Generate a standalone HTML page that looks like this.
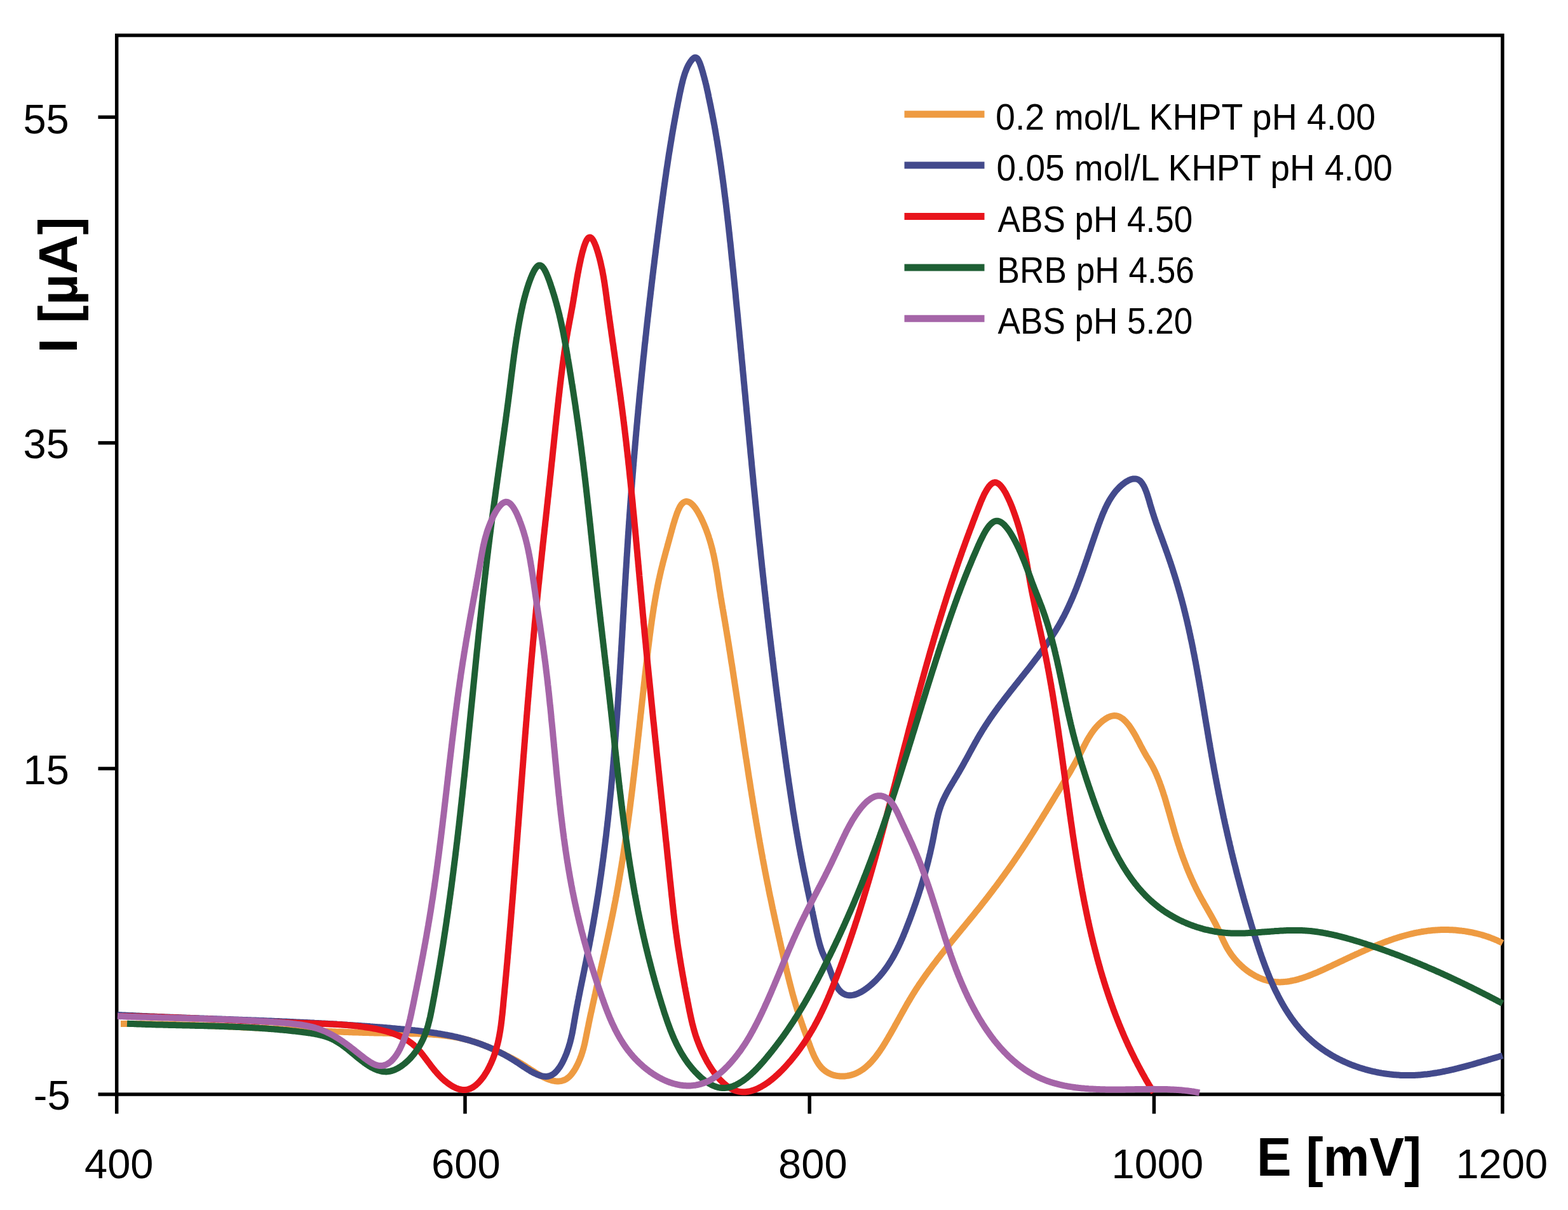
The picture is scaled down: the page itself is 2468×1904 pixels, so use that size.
<!DOCTYPE html><html><head><meta charset="utf-8"><style>html,body{margin:0;padding:0;background:#fff;}svg{display:block;}</style></head><body>
<svg xmlns="http://www.w3.org/2000/svg" width="2468" height="1904" viewBox="0 0 2468 1904">
<rect width="2468" height="1904" fill="#fff"/>
<g stroke="#000" stroke-width="5.5" fill="none" stroke-linecap="square">
<rect x="183.7" y="55.6" width="2181.2" height="1666.4"/>
<line x1="154.5" y1="184.3" x2="183.7" y2="184.3" stroke-linecap="butt"/>
<line x1="154.5" y1="696.9" x2="183.7" y2="696.9" stroke-linecap="butt"/>
<line x1="154.5" y1="1209.4" x2="183.7" y2="1209.4" stroke-linecap="butt"/>
<line x1="154.5" y1="1722.0" x2="183.7" y2="1722.0" stroke-linecap="butt"/>
<line x1="183.7" y1="1722.0" x2="183.7" y2="1752.5" stroke-linecap="butt"/>
<line x1="732.0" y1="1722.0" x2="732.0" y2="1752.5" stroke-linecap="butt"/>
<line x1="1274.2" y1="1722.0" x2="1274.2" y2="1752.5" stroke-linecap="butt"/>
<line x1="1816.4" y1="1722.0" x2="1816.4" y2="1752.5" stroke-linecap="butt"/>
<line x1="2364.9" y1="1722.0" x2="2364.9" y2="1752.5" stroke-linecap="butt"/>
</g>
<path d="M190.0,1611.0L192.0,1611.0L194.0,1611.0L196.0,1611.0L198.0,1611.0L200.0,1611.0L202.0,1611.0L204.0,1611.0L206.0,1611.0L208.0,1611.0L210.0,1611.0L212.0,1611.0L214.0,1611.0L216.0,1611.0L218.0,1611.1L220.0,1611.1L222.0,1611.1L224.0,1611.1L226.0,1611.1L228.0,1611.2L230.0,1611.2L232.0,1611.2L234.0,1611.2L236.0,1611.3L238.0,1611.3L240.0,1611.3L242.0,1611.4L244.0,1611.4L246.0,1611.4L248.0,1611.5L249.9,1611.5L251.9,1611.6L253.9,1611.6L255.9,1611.6L257.9,1611.7L259.9,1611.7L261.9,1611.8L263.9,1611.8L265.9,1611.9L267.9,1611.9L269.9,1612.0L271.9,1612.0L273.9,1612.1L275.9,1612.1L277.9,1612.2L279.9,1612.3L281.9,1612.3L283.9,1612.4L285.9,1612.4L287.9,1612.5L289.9,1612.6L291.9,1612.6L293.9,1612.7L295.9,1612.8L297.9,1612.8L299.9,1612.9L301.9,1613.0L303.9,1613.0L305.9,1613.1L307.9,1613.2L309.9,1613.2L311.9,1613.3L313.9,1613.4L315.9,1613.5L317.9,1613.5L319.9,1613.6L321.9,1613.7L323.9,1613.8L325.9,1613.9L327.9,1613.9L329.9,1614.0L331.9,1614.1L333.9,1614.2L335.9,1614.3L337.9,1614.4L339.9,1614.4L341.9,1614.5L343.9,1614.6L345.9,1614.7L347.9,1614.8L349.9,1614.9L351.8,1615.0L353.8,1615.1L355.8,1615.1L357.8,1615.2L359.8,1615.3L361.8,1615.4L363.8,1615.5L365.8,1615.6L367.8,1615.7L369.8,1615.8L371.8,1615.9L373.8,1616.0L375.8,1616.1L377.8,1616.2L379.8,1616.3L381.8,1616.4L383.8,1616.5L385.8,1616.6L387.8,1616.7L389.8,1616.7L391.8,1616.8L393.8,1616.9L395.8,1617.0L397.8,1617.1L399.8,1617.2L401.8,1617.3L403.8,1617.4L405.8,1617.5L407.8,1617.6L409.8,1617.7L411.8,1617.8L413.8,1617.9L415.8,1618.0L417.8,1618.1L419.8,1618.2L421.8,1618.3L423.8,1618.4L425.8,1618.5L427.8,1618.6L429.8,1618.7L431.8,1618.8L433.8,1618.9L435.8,1619.0L437.8,1619.1L439.7,1619.2L441.7,1619.3L443.7,1619.4L445.7,1619.5L447.7,1619.6L449.7,1619.7L451.7,1619.8L453.7,1619.9L455.7,1620.0L457.7,1620.1L459.7,1620.2L461.7,1620.3L463.7,1620.4L465.7,1620.5L467.7,1620.6L469.7,1620.7L471.7,1620.8L473.7,1620.9L475.7,1621.0L477.7,1621.1L479.7,1621.2L481.7,1621.3L483.7,1621.4L485.7,1621.5L487.7,1621.6L489.7,1621.7L491.7,1621.8L493.7,1621.8L495.7,1621.9L497.7,1622.0L499.7,1622.1L501.7,1622.2L503.7,1622.3L505.7,1622.4L507.7,1622.5L509.7,1622.6L511.7,1622.6L513.7,1622.7L515.7,1622.8L517.6,1622.9L519.6,1623.0L521.6,1623.1L523.6,1623.2L525.6,1623.2L527.6,1623.3L529.6,1623.4L531.6,1623.5L533.6,1623.6L535.6,1623.6L537.6,1623.7L539.6,1623.8L541.6,1623.9L543.6,1623.9L545.6,1624.0L547.6,1624.1L549.6,1624.2L551.6,1624.2L553.6,1624.3L555.6,1624.4L557.6,1624.4L559.6,1624.5L561.6,1624.6L563.6,1624.6L565.6,1624.7L567.6,1624.8L569.6,1624.8L571.6,1624.9L573.6,1624.9L575.6,1625.0L577.6,1625.1L579.6,1625.1L581.6,1625.2L583.6,1625.2L585.6,1625.3L587.5,1625.3L589.5,1625.4L591.5,1625.4L593.5,1625.5L595.5,1625.5L597.5,1625.6L599.5,1625.6L601.5,1625.6L603.5,1625.7L605.5,1625.7L607.5,1625.8L609.5,1625.8L611.5,1625.8L613.5,1625.9L615.5,1625.9L617.5,1625.9L619.5,1626.0L621.5,1626.0L623.5,1626.0L625.5,1626.0L627.5,1626.1L629.5,1626.1L631.5,1626.1L633.5,1626.1L635.5,1626.2L637.5,1626.2L639.5,1626.2L641.5,1626.3L643.5,1626.3L645.4,1626.3L647.4,1626.4L649.4,1626.4L651.4,1626.5L653.4,1626.5L655.4,1626.6L657.4,1626.6L659.4,1626.7L661.4,1626.7L663.4,1626.8L665.4,1626.9L667.3,1627.0L669.3,1627.1L671.3,1627.2L673.3,1627.3L675.3,1627.4L677.3,1627.5L679.3,1627.6L681.2,1627.8L683.2,1627.9L685.2,1628.1L687.2,1628.2L689.1,1628.4L691.1,1628.6L693.1,1628.8L695.1,1629.0L697.0,1629.2L699.0,1629.4L701.0,1629.7L702.9,1629.9L704.9,1630.2L706.9,1630.4L708.8,1630.7L710.8,1631.0L712.8,1631.3L714.7,1631.7L716.7,1632.0L718.6,1632.4L720.6,1632.8L722.5,1633.1L724.5,1633.6L726.4,1634.0L728.4,1634.4L730.3,1634.9L732.3,1635.3L734.2,1635.8L736.2,1636.3L738.1,1636.9L740.0,1637.4L742.0,1638.0L743.9,1638.5L745.8,1639.1L747.7,1639.8L749.7,1640.4L751.6,1641.1L753.5,1641.7L755.4,1642.4L757.3,1643.1L759.2,1643.9L761.1,1644.6L763.0,1645.4L764.9,1646.1L766.8,1646.9L768.7,1647.7L770.6,1648.5L772.4,1649.3L774.3,1650.1L776.1,1651.0L778.0,1651.8L779.8,1652.6L781.6,1653.5L783.4,1654.3L785.2,1655.2L787.0,1656.0L788.8,1656.9L790.6,1657.8L792.4,1658.6L794.1,1659.5L795.9,1660.4L797.6,1661.2L799.3,1662.1L801.0,1662.9L802.7,1663.8L804.4,1664.7L806.0,1665.5L807.7,1666.4L809.4,1667.3L811.0,1668.2L812.7,1669.1L814.4,1670.0L816.1,1671.0L817.8,1672.0L819.5,1673.0L821.3,1674.1L823.0,1675.2L824.8,1676.3L826.6,1677.4L828.3,1678.6L830.1,1679.8L832.0,1680.9L833.8,1682.1L835.6,1683.3L837.5,1684.5L839.3,1685.6L841.2,1686.8L843.0,1688.0L844.9,1689.1L846.7,1690.2L848.6,1691.3L850.4,1692.3L852.3,1693.3L854.2,1694.3L856.0,1695.2L857.9,1696.1L859.7,1696.9L861.5,1697.7L863.4,1698.4L865.2,1699.0L867.0,1699.6L868.8,1700.1L870.5,1700.6L872.3,1700.9L874.1,1701.2L875.8,1701.4L877.5,1701.4L879.2,1701.4L880.9,1701.3L882.6,1701.1L884.2,1700.8L885.8,1700.3L887.4,1699.8L889.0,1699.1L890.5,1698.3L892.1,1697.4L893.5,1696.3L895.0,1695.1L896.4,1693.8L897.8,1692.3L899.2,1690.8L900.5,1689.1L901.8,1687.3L903.1,1685.5L904.4,1683.5L905.6,1681.5L906.7,1679.5L907.8,1677.4L908.9,1675.2L910.0,1673.0L911.0,1670.8L911.9,1668.5L912.9,1666.3L913.7,1664.0L914.6,1661.8L915.4,1659.5L916.1,1657.3L916.8,1655.2L917.4,1653.0L918.1,1650.9L918.6,1648.9L919.1,1646.9L919.6,1644.9L920.1,1642.9L920.5,1641.0L920.9,1639.1L921.3,1637.2L921.7,1635.3L922.1,1633.4L922.5,1631.5L922.8,1629.7L923.2,1627.8L923.6,1625.9L924.0,1624.1L924.3,1622.2L924.7,1620.3L925.1,1618.4L925.5,1616.6L925.9,1614.7L926.3,1612.8L926.6,1610.9L927.0,1609.0L927.4,1607.1L927.8,1605.2L928.2,1603.3L928.6,1601.4L929.0,1599.5L929.4,1597.6L929.8,1595.7L930.2,1593.8L930.7,1591.9L931.1,1590.0L931.5,1588.1L931.9,1586.2L932.3,1584.3L932.7,1582.4L933.1,1580.5L933.6,1578.5L934.0,1576.6L934.4,1574.7L934.8,1572.8L935.3,1570.9L935.7,1568.9L936.1,1567.0L936.5,1565.1L937.0,1563.1L937.4,1561.2L937.8,1559.3L938.3,1557.3L938.7,1555.4L939.1,1553.5L939.6,1551.5L940.0,1549.6L940.4,1547.7L940.9,1545.7L941.3,1543.8L941.7,1541.8L942.2,1539.9L942.6,1537.9L943.0,1536.0L943.5,1534.0L943.9,1532.1L944.4,1530.1L944.8,1528.2L945.2,1526.2L945.7,1524.3L946.1,1522.3L946.6,1520.4L947.0,1518.4L947.4,1516.5L947.9,1514.5L948.3,1512.6L948.8,1510.6L949.2,1508.6L949.6,1506.7L950.1,1504.7L950.5,1502.7L951.0,1500.8L951.4,1498.8L951.8,1496.9L952.3,1494.9L952.7,1492.9L953.1,1491.0L953.6,1489.0L954.0,1487.0L954.4,1485.1L954.9,1483.1L955.3,1481.1L955.7,1479.1L956.2,1477.2L956.6,1475.2L957.0,1473.2L957.4,1471.3L957.9,1469.3L958.3,1467.3L958.7,1465.3L959.1,1463.4L959.6,1461.4L960.0,1459.4L960.4,1457.4L960.8,1455.5L961.2,1453.5L961.6,1451.5L962.0,1449.5L962.5,1447.6L962.9,1445.6L963.3,1443.6L963.7,1441.6L964.1,1439.7L964.5,1437.7L964.9,1435.7L965.3,1433.7L965.7,1431.8L966.1,1429.8L966.5,1427.8L966.8,1425.8L967.2,1423.9L967.6,1421.9L968.0,1419.9L968.4,1417.9L968.8,1416.0L969.1,1414.0L969.5,1412.0L969.9,1410.0L970.3,1408.1L970.6,1406.1L971.0,1404.1L971.3,1402.1L971.7,1400.2L972.1,1398.2L972.4,1396.2L972.8,1394.2L973.1,1392.3L973.5,1390.3L973.8,1388.3L974.2,1386.4L974.5,1384.4L974.9,1382.4L975.2,1380.4L975.5,1378.5L975.9,1376.5L976.2,1374.5L976.5,1372.5L976.9,1370.6L977.2,1368.6L977.5,1366.6L977.9,1364.7L978.2,1362.7L978.5,1360.7L978.8,1358.7L979.1,1356.8L979.5,1354.8L979.8,1352.8L980.1,1350.8L980.4,1348.9L980.7,1346.9L981.0,1344.9L981.3,1343.0L981.6,1341.0L981.9,1339.0L982.2,1337.0L982.5,1335.1L982.8,1333.1L983.1,1331.1L983.4,1329.2L983.7,1327.2L984.0,1325.2L984.3,1323.2L984.6,1321.3L984.9,1319.3L985.2,1317.3L985.4,1315.4L985.7,1313.4L986.0,1311.4L986.3,1309.4L986.6,1307.5L986.8,1305.5L987.1,1303.5L987.4,1301.6L987.7,1299.6L987.9,1297.6L988.2,1295.6L988.5,1293.7L988.7,1291.7L989.0,1289.7L989.3,1287.8L989.5,1285.8L989.8,1283.8L990.1,1281.8L990.3,1279.9L990.6,1277.9L990.8,1275.9L991.1,1274.0L991.4,1272.0L991.6,1270.0L991.9,1268.0L992.1,1266.1L992.4,1264.1L992.6,1262.1L992.9,1260.1L993.1,1258.2L993.4,1256.2L993.6,1254.2L993.9,1252.3L994.1,1250.3L994.4,1248.3L994.6,1246.3L994.8,1244.4L995.1,1242.4L995.3,1240.4L995.6,1238.4L995.8,1236.5L996.0,1234.5L996.3,1232.5L996.5,1230.5L996.7,1228.6L997.0,1226.6L997.2,1224.6L997.5,1222.6L997.7,1220.7L997.9,1218.7L998.1,1216.7L998.4,1214.7L998.6,1212.8L998.8,1210.8L999.1,1208.8L999.3,1206.8L999.5,1204.9L999.8,1202.9L1000.0,1200.9L1000.2,1198.9L1000.4,1197.0L1000.7,1195.0L1000.9,1193.0L1001.1,1191.0L1001.3,1189.0L1001.5,1187.1L1001.8,1185.1L1002.0,1183.1L1002.2,1181.1L1002.4,1179.1L1002.7,1177.2L1002.9,1175.2L1003.1,1173.2L1003.3,1171.2L1003.5,1169.3L1003.8,1167.3L1004.0,1165.3L1004.2,1163.3L1004.4,1161.3L1004.6,1159.3L1004.9,1157.4L1005.1,1155.4L1005.3,1153.4L1005.5,1151.4L1005.7,1149.4L1005.9,1147.5L1006.2,1145.5L1006.4,1143.5L1006.6,1141.5L1006.8,1139.5L1007.0,1137.5L1007.2,1135.6L1007.5,1133.6L1007.7,1131.6L1007.9,1129.6L1008.1,1127.6L1008.3,1125.6L1008.5,1123.6L1008.8,1121.7L1009.0,1119.7L1009.2,1117.7L1009.4,1115.7L1009.6,1113.7L1009.8,1111.7L1010.1,1109.7L1010.3,1107.7L1010.5,1105.8L1010.7,1103.8L1010.9,1101.8L1011.2,1099.8L1011.4,1097.8L1011.6,1095.8L1011.8,1093.8L1012.0,1091.8L1012.3,1089.8L1012.5,1087.8L1012.7,1085.9L1012.9,1083.9L1013.1,1081.9L1013.4,1079.9L1013.6,1077.9L1013.8,1075.9L1014.0,1073.9L1014.3,1071.9L1014.5,1069.9L1014.7,1067.9L1014.9,1065.9L1015.1,1063.9L1015.4,1061.9L1015.6,1059.9L1015.8,1057.9L1016.1,1055.9L1016.3,1053.9L1016.5,1051.9L1016.7,1049.9L1017.0,1047.9L1017.2,1045.9L1017.4,1043.9L1017.7,1041.9L1017.9,1039.9L1018.1,1037.9L1018.4,1035.9L1018.6,1033.9L1018.8,1031.9L1019.1,1029.9L1019.3,1027.9L1019.6,1025.9L1019.8,1023.9L1020.0,1021.9L1020.3,1019.9L1020.5,1017.9L1020.8,1015.9L1021.0,1013.9L1021.3,1011.9L1021.5,1009.9L1021.8,1007.9L1022.0,1005.9L1022.3,1003.9L1022.5,1001.9L1022.8,999.9L1023.0,997.9L1023.3,995.9L1023.6,993.9L1023.8,991.9L1024.1,989.9L1024.4,987.9L1024.6,985.9L1024.9,983.9L1025.2,981.9L1025.5,979.9L1025.7,977.9L1026.0,975.9L1026.3,973.9L1026.6,971.9L1026.9,970.0L1027.2,968.0L1027.5,966.0L1027.8,964.0L1028.1,962.0L1028.4,960.1L1028.7,958.1L1029.0,956.1L1029.3,954.1L1029.7,952.2L1030.0,950.2L1030.3,948.2L1030.7,946.3L1031.0,944.3L1031.3,942.3L1031.7,940.4L1032.0,938.4L1032.4,936.5L1032.7,934.5L1033.1,932.6L1033.4,930.6L1033.8,928.7L1034.2,926.7L1034.6,924.8L1034.9,922.9L1035.3,920.9L1035.7,919.0L1036.1,917.1L1036.5,915.2L1036.9,913.2L1037.3,911.3L1037.8,909.4L1038.2,907.5L1038.6,905.6L1039.0,903.7L1039.5,901.8L1039.9,899.9L1040.3,898.0L1040.8,896.1L1041.3,894.2L1041.7,892.3L1042.2,890.5L1042.7,888.6L1043.1,886.7L1043.6,884.8L1044.1,883.0L1044.6,881.1L1045.1,879.2L1045.6,877.3L1046.1,875.5L1046.6,873.6L1047.1,871.7L1047.6,869.8L1048.1,867.9L1048.6,866.1L1049.2,864.2L1049.7,862.3L1050.2,860.4L1050.7,858.5L1051.3,856.5L1051.8,854.6L1052.3,852.7L1052.9,850.7L1053.4,848.8L1053.9,846.8L1054.5,844.9L1055.0,842.9L1055.6,840.9L1056.1,838.9L1056.7,836.9L1057.2,834.8L1057.8,832.6L1058.5,830.4L1059.1,828.0L1059.8,825.6L1060.6,823.1L1061.4,820.5L1062.2,817.7L1063.1,815.0L1064.0,812.2L1065.0,809.4L1065.9,806.7L1067.0,804.2L1068.0,801.7L1069.1,799.5L1070.1,797.4L1071.2,795.6L1072.3,794.0L1073.5,792.7L1074.6,791.6L1075.7,790.7L1076.9,790.0L1078.0,789.5L1079.2,789.2L1080.4,789.1L1081.5,789.2L1082.7,789.4L1083.9,789.8L1085.1,790.3L1086.3,791.0L1087.4,791.9L1088.6,792.9L1089.8,794.0L1090.9,795.2L1092.1,796.5L1093.2,797.9L1094.4,799.4L1095.5,801.0L1096.6,802.7L1097.7,804.5L1098.8,806.3L1099.9,808.2L1100.9,810.1L1102.0,812.1L1103.0,814.1L1104.0,816.1L1104.9,818.1L1105.9,820.2L1106.8,822.2L1107.7,824.3L1108.6,826.3L1109.4,828.4L1110.3,830.4L1111.1,832.5L1111.9,834.5L1112.6,836.6L1113.4,838.6L1114.1,840.6L1114.8,842.7L1115.5,844.7L1116.1,846.8L1116.8,848.8L1117.4,850.8L1118.0,852.9L1118.6,854.9L1119.1,856.9L1119.7,858.9L1120.2,861.0L1120.8,863.0L1121.3,865.0L1121.8,867.0L1122.2,869.1L1122.7,871.1L1123.2,873.1L1123.6,875.1L1124.0,877.1L1124.4,879.1L1124.8,881.1L1125.2,883.1L1125.6,885.1L1126.0,887.2L1126.4,889.2L1126.7,891.2L1127.1,893.2L1127.4,895.2L1127.8,897.1L1128.1,899.1L1128.5,901.1L1128.8,903.1L1129.1,905.1L1129.4,907.1L1129.7,909.1L1130.0,911.1L1130.3,913.1L1130.6,915.0L1130.9,917.0L1131.2,919.0L1131.5,921.0L1131.8,923.0L1132.1,924.9L1132.4,926.9L1132.7,928.9L1133.1,930.8L1133.4,932.8L1133.7,934.8L1134.0,936.7L1134.3,938.7L1134.6,940.7L1135.0,942.6L1135.3,944.6L1135.6,946.5L1135.9,948.5L1136.3,950.4L1136.6,952.4L1136.9,954.4L1137.3,956.3L1137.6,958.3L1138.0,960.2L1138.3,962.2L1138.6,964.1L1139.0,966.1L1139.3,968.0L1139.6,970.0L1140.0,972.0L1140.3,973.9L1140.6,975.9L1141.0,977.8L1141.3,979.8L1141.6,981.7L1141.9,983.7L1142.3,985.7L1142.6,987.6L1142.9,989.6L1143.2,991.6L1143.6,993.5L1143.9,995.5L1144.2,997.4L1144.5,999.4L1144.9,1001.4L1145.2,1003.3L1145.5,1005.3L1145.8,1007.3L1146.1,1009.2L1146.5,1011.2L1146.8,1013.2L1147.1,1015.1L1147.4,1017.1L1147.7,1019.1L1148.0,1021.0L1148.3,1023.0L1148.7,1025.0L1149.0,1026.9L1149.3,1028.9L1149.6,1030.9L1149.9,1032.8L1150.2,1034.8L1150.5,1036.8L1150.8,1038.7L1151.1,1040.7L1151.4,1042.7L1151.8,1044.7L1152.1,1046.6L1152.4,1048.6L1152.7,1050.6L1153.0,1052.5L1153.3,1054.5L1153.6,1056.5L1153.9,1058.5L1154.2,1060.4L1154.5,1062.4L1154.8,1064.4L1155.1,1066.4L1155.4,1068.3L1155.7,1070.3L1156.0,1072.3L1156.3,1074.3L1156.6,1076.2L1156.9,1078.2L1157.2,1080.2L1157.5,1082.2L1157.8,1084.1L1158.1,1086.1L1158.4,1088.1L1158.7,1090.1L1159.0,1092.0L1159.3,1094.0L1159.6,1096.0L1159.9,1098.0L1160.2,1099.9L1160.5,1101.9L1160.8,1103.9L1161.1,1105.9L1161.4,1107.9L1161.7,1109.8L1162.0,1111.8L1162.3,1113.8L1162.6,1115.8L1162.9,1117.8L1163.2,1119.7L1163.5,1121.7L1163.8,1123.7L1164.1,1125.7L1164.4,1127.7L1164.7,1129.6L1165.0,1131.6L1165.3,1133.6L1165.6,1135.6L1165.9,1137.5L1166.2,1139.5L1166.5,1141.5L1166.8,1143.5L1167.1,1145.5L1167.4,1147.4L1167.7,1149.4L1168.0,1151.4L1168.3,1153.4L1168.6,1155.4L1168.9,1157.3L1169.1,1159.3L1169.4,1161.3L1169.7,1163.3L1170.0,1165.3L1170.3,1167.3L1170.6,1169.2L1170.9,1171.2L1171.2,1173.2L1171.5,1175.2L1171.8,1177.2L1172.1,1179.1L1172.4,1181.1L1172.7,1183.1L1173.0,1185.1L1173.3,1187.1L1173.6,1189.0L1173.9,1191.0L1174.2,1193.0L1174.6,1195.0L1174.9,1197.0L1175.2,1198.9L1175.5,1200.9L1175.8,1202.9L1176.1,1204.9L1176.4,1206.9L1176.7,1208.8L1177.0,1210.8L1177.3,1212.8L1177.6,1214.8L1177.9,1216.7L1178.2,1218.7L1178.5,1220.7L1178.8,1222.7L1179.1,1224.7L1179.4,1226.6L1179.8,1228.6L1180.1,1230.6L1180.4,1232.6L1180.7,1234.5L1181.0,1236.5L1181.3,1238.5L1181.6,1240.5L1181.9,1242.5L1182.3,1244.4L1182.6,1246.4L1182.9,1248.4L1183.2,1250.4L1183.5,1252.3L1183.8,1254.3L1184.2,1256.3L1184.5,1258.3L1184.8,1260.2L1185.1,1262.2L1185.4,1264.2L1185.8,1266.2L1186.1,1268.1L1186.4,1270.1L1186.7,1272.1L1187.1,1274.1L1187.4,1276.0L1187.7,1278.0L1188.0,1280.0L1188.4,1282.0L1188.7,1283.9L1189.0,1285.9L1189.4,1287.9L1189.7,1289.8L1190.0,1291.8L1190.3,1293.8L1190.7,1295.7L1191.0,1297.7L1191.4,1299.7L1191.7,1301.7L1192.0,1303.6L1192.4,1305.6L1192.7,1307.6L1193.0,1309.5L1193.4,1311.5L1193.7,1313.5L1194.1,1315.4L1194.4,1317.4L1194.8,1319.4L1195.1,1321.3L1195.5,1323.3L1195.8,1325.3L1196.2,1327.2L1196.5,1329.2L1196.9,1331.2L1197.2,1333.1L1197.6,1335.1L1197.9,1337.0L1198.3,1339.0L1198.6,1341.0L1199.0,1342.9L1199.4,1344.9L1199.7,1346.8L1200.1,1348.8L1200.4,1350.8L1200.8,1352.7L1201.2,1354.7L1201.5,1356.6L1201.9,1358.6L1202.3,1360.6L1202.7,1362.5L1203.0,1364.5L1203.4,1366.4L1203.8,1368.4L1204.1,1370.3L1204.5,1372.3L1204.9,1374.2L1205.3,1376.2L1205.7,1378.2L1206.0,1380.1L1206.4,1382.1L1206.8,1384.0L1207.2,1386.0L1207.6,1387.9L1208.0,1389.9L1208.4,1391.8L1208.8,1393.8L1209.2,1395.7L1209.6,1397.7L1209.9,1399.6L1210.3,1401.6L1210.7,1403.5L1211.1,1405.5L1211.5,1407.4L1211.9,1409.4L1212.3,1411.3L1212.8,1413.2L1213.2,1415.2L1213.6,1417.1L1214.0,1419.1L1214.4,1421.0L1214.8,1423.0L1215.2,1424.9L1215.6,1426.9L1216.0,1428.8L1216.4,1430.8L1216.9,1432.7L1217.3,1434.7L1217.7,1436.6L1218.1,1438.6L1218.5,1440.5L1219.0,1442.5L1219.4,1444.4L1219.8,1446.4L1220.2,1448.3L1220.7,1450.3L1221.1,1452.2L1221.5,1454.2L1222.0,1456.1L1222.4,1458.1L1222.8,1460.0L1223.3,1462.0L1223.7,1463.9L1224.1,1465.9L1224.6,1467.9L1225.0,1469.8L1225.4,1471.8L1225.9,1473.7L1226.3,1475.7L1226.8,1477.6L1227.2,1479.6L1227.7,1481.6L1228.1,1483.5L1228.5,1485.5L1229.0,1487.5L1229.4,1489.4L1229.9,1491.4L1230.3,1493.4L1230.8,1495.3L1231.2,1497.3L1231.7,1499.3L1232.2,1501.2L1232.6,1503.2L1233.1,1505.2L1233.5,1507.1L1234.0,1509.1L1234.4,1511.1L1234.9,1513.1L1235.4,1515.1L1235.8,1517.0L1236.3,1519.0L1236.8,1521.0L1237.2,1523.0L1237.7,1524.9L1238.2,1526.9L1238.6,1528.9L1239.1,1530.8L1239.6,1532.8L1240.1,1534.8L1240.5,1536.7L1241.0,1538.7L1241.5,1540.6L1242.0,1542.6L1242.5,1544.5L1243.0,1546.5L1243.5,1548.4L1244.0,1550.4L1244.5,1552.3L1245.0,1554.2L1245.5,1556.1L1246.0,1558.1L1246.5,1560.0L1247.0,1561.9L1247.5,1563.8L1248.0,1565.7L1248.6,1567.6L1249.1,1569.4L1249.6,1571.3L1250.2,1573.2L1250.7,1575.0L1251.2,1576.9L1251.8,1578.7L1252.3,1580.6L1252.9,1582.4L1253.4,1584.2L1254.0,1586.0L1254.5,1587.8L1255.1,1589.6L1255.7,1591.4L1256.3,1593.2L1256.8,1595.0L1257.4,1596.7L1258.0,1598.5L1258.6,1600.3L1259.2,1602.1L1259.8,1603.9L1260.4,1605.6L1261.1,1607.4L1261.7,1609.2L1262.3,1611.1L1263.0,1612.9L1263.6,1614.7L1264.3,1616.6L1264.9,1618.4L1265.6,1620.3L1266.3,1622.2L1267.0,1624.1L1267.7,1626.0L1268.4,1628.0L1269.1,1629.9L1269.8,1631.9L1270.5,1633.9L1271.3,1636.0L1272.0,1638.0L1272.8,1640.1L1273.6,1642.3L1274.4,1644.4L1275.2,1646.6L1276.0,1648.7L1276.8,1650.9L1277.7,1653.1L1278.5,1655.2L1279.5,1657.4L1280.4,1659.5L1281.3,1661.6L1282.3,1663.7L1283.4,1665.7L1284.4,1667.7L1285.5,1669.7L1286.7,1671.6L1287.9,1673.4L1289.1,1675.2L1290.4,1676.9L1291.7,1678.5L1293.0,1680.1L1294.5,1681.5L1295.9,1682.9L1297.5,1684.2L1299.0,1685.4L1300.6,1686.5L1302.3,1687.5L1304.0,1688.5L1305.7,1689.3L1307.4,1690.1L1309.2,1690.8L1311.0,1691.4L1312.9,1692.0L1314.7,1692.4L1316.6,1692.8L1318.5,1693.1L1320.4,1693.3L1322.3,1693.5L1324.3,1693.6L1326.2,1693.6L1328.1,1693.5L1330.0,1693.4L1332.0,1693.1L1333.9,1692.9L1335.8,1692.5L1337.7,1692.1L1339.6,1691.6L1341.5,1691.1L1343.3,1690.5L1345.1,1689.8L1346.9,1689.1L1348.7,1688.3L1350.4,1687.4L1352.2,1686.5L1353.8,1685.5L1355.5,1684.5L1357.1,1683.4L1358.8,1682.3L1360.3,1681.1L1361.9,1679.8L1363.4,1678.6L1364.9,1677.2L1366.4,1675.9L1367.9,1674.5L1369.3,1673.0L1370.8,1671.6L1372.2,1670.0L1373.5,1668.5L1374.9,1666.9L1376.2,1665.3L1377.6,1663.7L1378.9,1662.0L1380.1,1660.3L1381.4,1658.6L1382.7,1656.9L1383.9,1655.2L1385.1,1653.4L1386.3,1651.6L1387.5,1649.9L1388.7,1648.1L1389.8,1646.3L1391.0,1644.4L1392.1,1642.6L1393.2,1640.8L1394.3,1639.0L1395.4,1637.2L1396.5,1635.3L1397.6,1633.5L1398.6,1631.7L1399.7,1629.9L1400.7,1628.1L1401.8,1626.3L1402.8,1624.5L1403.8,1622.7L1404.9,1620.9L1405.9,1619.1L1406.9,1617.3L1407.9,1615.6L1408.8,1613.8L1409.8,1612.0L1410.8,1610.3L1411.8,1608.5L1412.8,1606.7L1413.7,1605.0L1414.7,1603.2L1415.7,1601.5L1416.6,1599.7L1417.6,1598.0L1418.6,1596.3L1419.5,1594.5L1420.5,1592.8L1421.4,1591.1L1422.4,1589.4L1423.4,1587.7L1424.3,1586.0L1425.3,1584.2L1426.3,1582.5L1427.2,1580.8L1428.2,1579.1L1429.2,1577.4L1430.2,1575.8L1431.2,1574.1L1432.2,1572.4L1433.2,1570.7L1434.2,1569.0L1435.2,1567.4L1436.2,1565.7L1437.2,1564.0L1438.3,1562.4L1439.3,1560.7L1440.4,1559.0L1441.4,1557.4L1442.5,1555.7L1443.6,1554.1L1444.7,1552.4L1445.7,1550.8L1446.8,1549.2L1447.9,1547.5L1449.1,1545.9L1450.2,1544.3L1451.3,1542.6L1452.4,1541.0L1453.5,1539.4L1454.7,1537.8L1455.8,1536.2L1457.0,1534.5L1458.1,1532.9L1459.3,1531.3L1460.5,1529.7L1461.6,1528.1L1462.8,1526.5L1464.0,1524.9L1465.2,1523.3L1466.4,1521.7L1467.5,1520.1L1468.7,1518.5L1469.9,1516.9L1471.2,1515.3L1472.4,1513.8L1473.6,1512.2L1474.8,1510.6L1476.0,1509.0L1477.2,1507.4L1478.5,1505.8L1479.7,1504.3L1480.9,1502.7L1482.2,1501.1L1483.4,1499.5L1484.7,1498.0L1485.9,1496.4L1487.2,1494.8L1488.4,1493.3L1489.7,1491.7L1490.9,1490.1L1492.2,1488.6L1493.4,1487.0L1494.7,1485.4L1496.0,1483.9L1497.2,1482.3L1498.5,1480.8L1499.8,1479.2L1501.1,1477.6L1502.3,1476.1L1503.6,1474.5L1504.9,1473.0L1506.1,1471.4L1507.4,1469.9L1508.7,1468.3L1510.0,1466.8L1511.2,1465.2L1512.5,1463.7L1513.8,1462.1L1515.1,1460.6L1516.4,1459.0L1517.6,1457.4L1518.9,1455.9L1520.2,1454.3L1521.5,1452.8L1522.7,1451.2L1524.0,1449.7L1525.3,1448.1L1526.5,1446.6L1527.8,1445.0L1529.1,1443.5L1530.3,1441.9L1531.6,1440.4L1532.9,1438.8L1534.1,1437.3L1535.4,1435.7L1536.6,1434.2L1537.9,1432.6L1539.2,1431.0L1540.4,1429.5L1541.6,1427.9L1542.9,1426.4L1544.1,1424.8L1545.4,1423.2L1546.6,1421.7L1547.8,1420.1L1549.1,1418.6L1550.3,1417.0L1551.5,1415.4L1552.7,1413.9L1554.0,1412.3L1555.2,1410.7L1556.4,1409.2L1557.6,1407.6L1558.8,1406.0L1560.0,1404.4L1561.2,1402.9L1562.4,1401.3L1563.6,1399.7L1564.8,1398.1L1566.0,1396.5L1567.2,1395.0L1568.4,1393.4L1569.6,1391.8L1570.8,1390.2L1571.9,1388.6L1573.1,1387.0L1574.3,1385.4L1575.5,1383.8L1576.6,1382.2L1577.8,1380.6L1579.0,1379.0L1580.1,1377.4L1581.3,1375.8L1582.4,1374.2L1583.6,1372.6L1584.8,1371.0L1585.9,1369.4L1587.1,1367.8L1588.2,1366.2L1589.3,1364.6L1590.5,1362.9L1591.6,1361.3L1592.8,1359.7L1593.9,1358.1L1595.0,1356.4L1596.2,1354.8L1597.3,1353.2L1598.4,1351.5L1599.5,1349.9L1600.7,1348.2L1601.8,1346.6L1602.9,1344.9L1604.0,1343.3L1605.1,1341.6L1606.2,1340.0L1607.4,1338.3L1608.5,1336.6L1609.6,1335.0L1610.7,1333.3L1611.8,1331.6L1612.9,1330.0L1614.0,1328.3L1615.1,1326.6L1616.2,1324.9L1617.3,1323.2L1618.3,1321.6L1619.4,1319.9L1620.5,1318.2L1621.6,1316.5L1622.7,1314.8L1623.8,1313.1L1624.9,1311.4L1625.9,1309.7L1627.0,1308.0L1628.1,1306.3L1629.2,1304.6L1630.2,1302.9L1631.3,1301.1L1632.4,1299.4L1633.4,1297.7L1634.5,1296.0L1635.6,1294.3L1636.6,1292.6L1637.7,1290.9L1638.8,1289.2L1639.8,1287.4L1640.9,1285.7L1641.9,1284.0L1643.0,1282.3L1644.0,1280.6L1645.1,1278.9L1646.2,1277.2L1647.2,1275.4L1648.3,1273.7L1649.3,1272.0L1650.4,1270.3L1651.4,1268.6L1652.4,1266.9L1653.5,1265.2L1654.5,1263.5L1655.6,1261.8L1656.6,1260.1L1657.7,1258.3L1658.7,1256.6L1659.8,1254.9L1660.8,1253.2L1661.8,1251.5L1662.9,1249.8L1663.9,1248.2L1664.9,1246.5L1666.0,1244.8L1667.0,1243.1L1668.1,1241.4L1669.1,1239.7L1670.1,1238.0L1671.1,1236.3L1672.2,1234.7L1673.2,1233.0L1674.2,1231.3L1675.3,1229.6L1676.3,1227.9L1677.3,1226.2L1678.3,1224.5L1679.3,1222.8L1680.3,1221.2L1681.4,1219.5L1682.4,1217.8L1683.4,1216.1L1684.4,1214.4L1685.4,1212.7L1686.4,1210.9L1687.3,1209.2L1688.3,1207.5L1689.3,1205.8L1690.3,1204.1L1691.3,1202.3L1692.3,1200.6L1693.2,1198.9L1694.2,1197.1L1695.1,1195.4L1696.1,1193.6L1697.1,1191.9L1698.0,1190.1L1698.9,1188.3L1699.9,1186.5L1700.8,1184.7L1701.7,1182.9L1702.7,1181.1L1703.6,1179.3L1704.5,1177.5L1705.4,1175.7L1706.4,1173.9L1707.3,1172.1L1708.3,1170.3L1709.2,1168.4L1710.2,1166.6L1711.2,1164.8L1712.2,1163.0L1713.3,1161.2L1714.4,1159.4L1715.5,1157.7L1716.6,1155.9L1717.8,1154.1L1719.0,1152.4L1720.2,1150.7L1721.5,1149.0L1722.8,1147.3L1724.2,1145.6L1725.6,1143.9L1727.1,1142.3L1728.6,1140.7L1730.2,1139.1L1731.8,1137.6L1733.4,1136.2L1735.0,1134.8L1736.7,1133.5L1738.4,1132.3L1740.1,1131.1L1741.8,1130.1L1743.5,1129.1L1745.2,1128.3L1746.9,1127.6L1748.6,1127.0L1750.3,1126.6L1752.0,1126.3L1753.7,1126.1L1755.3,1126.2L1756.9,1126.3L1758.5,1126.7L1760.1,1127.1L1761.6,1127.7L1763.1,1128.5L1764.6,1129.3L1766.1,1130.3L1767.6,1131.4L1769.0,1132.6L1770.4,1134.0L1771.8,1135.4L1773.2,1136.9L1774.5,1138.4L1775.9,1140.1L1777.2,1141.8L1778.5,1143.6L1779.8,1145.5L1781.0,1147.4L1782.3,1149.4L1783.5,1151.4L1784.7,1153.4L1785.9,1155.4L1787.1,1157.5L1788.3,1159.6L1789.4,1161.7L1790.5,1163.9L1791.7,1166.0L1792.8,1168.1L1793.9,1170.2L1794.9,1172.3L1796.0,1174.3L1797.1,1176.3L1798.1,1178.3L1799.1,1180.2L1800.2,1182.1L1801.2,1184.0L1802.2,1185.7L1803.2,1187.4L1804.1,1189.1L1805.1,1190.7L1806.1,1192.2L1807.0,1193.8L1807.9,1195.3L1808.9,1196.8L1809.8,1198.3L1810.7,1199.8L1811.5,1201.3L1812.4,1202.9L1813.3,1204.5L1814.1,1206.0L1815.0,1207.6L1815.8,1209.3L1816.6,1210.9L1817.4,1212.6L1818.2,1214.2L1818.9,1215.9L1819.7,1217.6L1820.5,1219.4L1821.2,1221.1L1821.9,1222.9L1822.7,1224.7L1823.4,1226.5L1824.1,1228.3L1824.8,1230.1L1825.5,1231.9L1826.1,1233.8L1826.8,1235.6L1827.5,1237.5L1828.1,1239.4L1828.8,1241.3L1829.4,1243.2L1830.1,1245.1L1830.7,1247.0L1831.3,1249.0L1831.9,1250.9L1832.6,1252.8L1833.2,1254.8L1833.8,1256.8L1834.4,1258.7L1835.0,1260.7L1835.6,1262.7L1836.1,1264.7L1836.7,1266.7L1837.3,1268.7L1837.9,1270.7L1838.5,1272.7L1839.0,1274.7L1839.6,1276.7L1840.2,1278.7L1840.8,1280.7L1841.3,1282.7L1841.9,1284.8L1842.5,1286.8L1843.0,1288.8L1843.6,1290.8L1844.2,1292.8L1844.7,1294.8L1845.3,1296.8L1845.9,1298.8L1846.4,1300.8L1847.0,1302.8L1847.6,1304.8L1848.2,1306.8L1848.7,1308.8L1849.3,1310.7L1849.9,1312.7L1850.5,1314.7L1851.1,1316.6L1851.7,1318.6L1852.3,1320.5L1852.9,1322.4L1853.5,1324.4L1854.1,1326.3L1854.7,1328.2L1855.4,1330.1L1856.0,1332.0L1856.6,1333.9L1857.2,1335.8L1857.9,1337.7L1858.5,1339.6L1859.2,1341.5L1859.8,1343.4L1860.5,1345.2L1861.1,1347.1L1861.8,1349.0L1862.5,1350.8L1863.2,1352.7L1863.9,1354.5L1864.6,1356.3L1865.3,1358.2L1866.0,1360.0L1866.7,1361.8L1867.4,1363.7L1868.1,1365.5L1868.8,1367.3L1869.6,1369.1L1870.3,1370.9L1871.1,1372.7L1871.8,1374.5L1872.6,1376.3L1873.4,1378.1L1874.2,1379.9L1875.0,1381.7L1875.8,1383.5L1876.6,1385.3L1877.4,1387.0L1878.2,1388.8L1879.0,1390.6L1879.9,1392.4L1880.7,1394.1L1881.6,1395.9L1882.4,1397.7L1883.3,1399.4L1884.2,1401.2L1885.1,1402.9L1886.0,1404.7L1886.9,1406.4L1887.8,1408.2L1888.8,1409.9L1889.7,1411.7L1890.7,1413.4L1891.6,1415.2L1892.6,1416.9L1893.6,1418.6L1894.5,1420.4L1895.5,1422.1L1896.5,1423.9L1897.5,1425.6L1898.5,1427.3L1899.5,1429.1L1900.5,1430.8L1901.5,1432.6L1902.5,1434.3L1903.5,1436.1L1904.5,1437.8L1905.5,1439.6L1906.5,1441.3L1907.5,1443.1L1908.5,1444.9L1909.4,1446.6L1910.4,1448.4L1911.4,1450.2L1912.3,1452.0L1913.3,1453.8L1914.2,1455.6L1915.1,1457.4L1916.0,1459.2L1916.9,1461.0L1917.7,1462.8L1918.6,1464.6L1919.4,1466.4L1920.3,1468.3L1921.1,1470.1L1921.9,1472.0L1922.7,1473.8L1923.5,1475.7L1924.3,1477.5L1925.2,1479.4L1926.0,1481.2L1926.9,1483.0L1927.8,1484.8L1928.7,1486.6L1929.6,1488.4L1930.6,1490.2L1931.6,1492.0L1932.6,1493.7L1933.7,1495.4L1934.8,1497.2L1935.9,1498.8L1937.0,1500.5L1938.2,1502.2L1939.4,1503.8L1940.7,1505.4L1941.9,1507.0L1943.2,1508.6L1944.5,1510.2L1945.9,1511.7L1947.2,1513.2L1948.6,1514.7L1950.0,1516.1L1951.5,1517.5L1952.9,1518.9L1954.4,1520.3L1955.9,1521.6L1957.4,1523.0L1959.0,1524.2L1960.5,1525.5L1962.1,1526.7L1963.7,1527.9L1965.3,1529.1L1966.9,1530.2L1968.6,1531.3L1970.2,1532.3L1971.9,1533.3L1973.6,1534.3L1975.3,1535.3L1977.0,1536.2L1978.8,1537.0L1980.5,1537.9L1982.2,1538.7L1984.0,1539.4L1985.8,1540.1L1987.6,1540.8L1989.4,1541.4L1991.2,1542.0L1993.0,1542.5L1994.8,1543.0L1996.6,1543.5L1998.5,1543.9L2000.3,1544.2L2002.2,1544.5L2004.0,1544.8L2005.9,1545.0L2007.7,1545.1L2009.6,1545.3L2011.5,1545.3L2013.3,1545.4L2015.2,1545.4L2017.1,1545.3L2019.0,1545.2L2020.9,1545.1L2022.7,1544.9L2024.6,1544.7L2026.5,1544.5L2028.4,1544.2L2030.3,1543.9L2032.2,1543.5L2034.2,1543.1L2036.1,1542.7L2038.0,1542.3L2039.9,1541.8L2041.8,1541.3L2043.7,1540.8L2045.6,1540.2L2047.6,1539.7L2049.5,1539.1L2051.4,1538.4L2053.3,1537.8L2055.3,1537.1L2057.2,1536.4L2059.1,1535.7L2061.0,1535.0L2063.0,1534.2L2064.9,1533.5L2066.8,1532.7L2068.7,1531.9L2070.6,1531.1L2072.6,1530.3L2074.5,1529.5L2076.4,1528.6L2078.3,1527.8L2080.3,1526.9L2082.2,1526.1L2084.1,1525.2L2086.0,1524.3L2087.9,1523.4L2089.8,1522.5L2091.7,1521.6L2093.6,1520.8L2095.5,1519.9L2097.4,1519.0L2099.3,1518.1L2101.2,1517.2L2103.1,1516.3L2105.0,1515.4L2106.9,1514.5L2108.8,1513.6L2110.7,1512.7L2112.5,1511.9L2114.4,1511.0L2116.3,1510.1L2118.2,1509.2L2120.1,1508.3L2121.9,1507.4L2123.8,1506.6L2125.7,1505.7L2127.5,1504.8L2129.4,1503.9L2131.3,1503.1L2133.1,1502.2L2135.0,1501.4L2136.9,1500.5L2138.7,1499.7L2140.6,1498.8L2142.5,1498.0L2144.3,1497.1L2146.2,1496.3L2148.0,1495.5L2149.9,1494.6L2151.8,1493.8L2153.6,1493.0L2155.5,1492.2L2157.4,1491.4L2159.2,1490.6L2161.1,1489.8L2162.9,1489.1L2164.8,1488.3L2166.7,1487.5L2168.5,1486.8L2170.4,1486.0L2172.2,1485.3L2174.1,1484.6L2176.0,1483.8L2177.8,1483.1L2179.7,1482.4L2181.6,1481.7L2183.4,1481.0L2185.3,1480.4L2187.2,1479.7L2189.1,1479.0L2190.9,1478.4L2192.8,1477.7L2194.7,1477.1L2196.6,1476.5L2198.4,1475.9L2200.3,1475.3L2202.2,1474.7L2204.1,1474.1L2206.0,1473.6L2207.9,1473.0L2209.8,1472.5L2211.6,1472.0L2213.5,1471.5L2215.4,1471.0L2217.3,1470.5L2219.2,1470.0L2221.1,1469.5L2223.1,1469.1L2225.0,1468.7L2226.9,1468.2L2228.8,1467.8L2230.7,1467.4L2232.6,1467.1L2234.6,1466.7L2236.5,1466.4L2238.4,1466.0L2240.4,1465.7L2242.3,1465.4L2244.2,1465.2L2246.2,1464.9L2248.1,1464.6L2250.1,1464.4L2252.1,1464.2L2254.0,1464.0L2256.0,1463.8L2258.0,1463.7L2259.9,1463.5L2261.9,1463.4L2263.9,1463.3L2265.9,1463.2L2267.9,1463.1L2269.9,1463.1L2271.9,1463.0L2273.9,1463.0L2275.9,1463.0L2277.9,1463.0L2279.9,1463.1L2281.9,1463.2L2284.0,1463.2L2286.0,1463.3L2288.0,1463.5L2290.1,1463.6L2292.1,1463.8L2294.1,1464.0L2296.2,1464.2L2298.2,1464.4L2300.2,1464.6L2302.3,1464.9L2304.3,1465.1L2306.3,1465.4L2308.4,1465.8L2310.4,1466.1L2312.4,1466.5L2314.4,1466.8L2316.4,1467.2L2318.4,1467.6L2320.4,1468.1L2322.4,1468.5L2324.4,1469.0L2326.4,1469.5L2328.3,1470.0L2330.3,1470.5L2332.2,1471.0L2334.2,1471.6L2336.1,1472.2L2338.0,1472.8L2339.9,1473.4L2341.8,1474.0L2343.7,1474.7L2345.5,1475.4L2347.4,1476.1L2349.2,1476.8L2351.0,1477.5L2352.8,1478.3L2354.6,1479.0L2356.4,1479.8L2358.2,1480.6L2359.9,1481.4L2361.6,1482.3L2363.3,1483.1L2365.0,1484.0" fill="none" stroke="#EE9B42" stroke-width="10" stroke-linejoin="round" stroke-linecap="butt"/>
<path d="M185.0,1597.0L187.0,1597.1L189.0,1597.2L190.9,1597.3L192.9,1597.4L194.9,1597.5L196.8,1597.6L198.8,1597.7L200.8,1597.8L202.8,1597.9L204.8,1598.0L206.7,1598.1L208.7,1598.1L210.7,1598.2L212.7,1598.3L214.6,1598.4L216.6,1598.5L218.6,1598.6L220.6,1598.7L222.6,1598.8L224.6,1598.9L226.5,1599.0L228.5,1599.0L230.5,1599.1L232.5,1599.2L234.5,1599.3L236.5,1599.4L238.5,1599.5L240.4,1599.5L242.4,1599.6L244.4,1599.7L246.4,1599.8L248.4,1599.9L250.4,1600.0L252.4,1600.0L254.4,1600.1L256.4,1600.2L258.4,1600.3L260.3,1600.4L262.3,1600.4L264.3,1600.5L266.3,1600.6L268.3,1600.7L270.3,1600.8L272.3,1600.8L274.3,1600.9L276.3,1601.0L278.3,1601.1L280.3,1601.1L282.3,1601.2L284.3,1601.3L286.3,1601.4L288.3,1601.4L290.3,1601.5L292.3,1601.6L294.3,1601.7L296.3,1601.7L298.3,1601.8L300.3,1601.9L302.3,1602.0L304.3,1602.0L306.3,1602.1L308.3,1602.2L310.3,1602.3L312.3,1602.3L314.3,1602.4L316.3,1602.5L318.3,1602.5L320.3,1602.6L322.3,1602.7L324.3,1602.8L326.3,1602.8L328.3,1602.9L330.3,1603.0L332.3,1603.1L334.3,1603.1L336.4,1603.2L338.4,1603.3L340.4,1603.3L342.4,1603.4L344.4,1603.5L346.4,1603.6L348.4,1603.6L350.4,1603.7L352.4,1603.8L354.4,1603.8L356.4,1603.9L358.4,1604.0L360.4,1604.1L362.4,1604.1L364.5,1604.2L366.5,1604.3L368.5,1604.4L370.5,1604.4L372.5,1604.5L374.5,1604.6L376.5,1604.7L378.5,1604.7L380.5,1604.8L382.5,1604.9L384.5,1605.0L386.6,1605.0L388.6,1605.1L390.6,1605.2L392.6,1605.3L394.6,1605.3L396.6,1605.4L398.6,1605.5L400.6,1605.6L402.6,1605.6L404.6,1605.7L406.7,1605.8L408.7,1605.9L410.7,1606.0L412.7,1606.0L414.7,1606.1L416.7,1606.2L418.7,1606.3L420.7,1606.4L422.7,1606.4L424.7,1606.5L426.7,1606.6L428.8,1606.7L430.8,1606.8L432.8,1606.9L434.8,1606.9L436.8,1607.0L438.8,1607.1L440.8,1607.2L442.8,1607.3L444.8,1607.4L446.8,1607.5L448.8,1607.5L450.9,1607.6L452.9,1607.7L454.9,1607.8L456.9,1607.9L458.9,1608.0L460.9,1608.1L462.9,1608.2L464.9,1608.3L466.9,1608.4L468.9,1608.5L470.9,1608.6L472.9,1608.7L474.9,1608.7L476.9,1608.8L479.0,1608.9L481.0,1609.0L483.0,1609.1L485.0,1609.2L487.0,1609.3L489.0,1609.4L491.0,1609.5L493.0,1609.6L495.0,1609.8L497.0,1609.9L499.0,1610.0L501.0,1610.1L503.0,1610.2L505.0,1610.3L507.0,1610.4L509.0,1610.5L511.0,1610.6L513.0,1610.7L515.0,1610.8L517.0,1610.9L519.0,1611.1L521.0,1611.2L523.0,1611.3L525.0,1611.4L527.0,1611.5L529.0,1611.6L531.0,1611.8L533.0,1611.9L535.0,1612.0L537.0,1612.1L539.0,1612.3L541.0,1612.4L543.0,1612.5L545.0,1612.6L547.0,1612.8L549.0,1612.9L551.0,1613.0L553.0,1613.2L555.0,1613.3L556.9,1613.4L558.9,1613.6L560.9,1613.7L562.9,1613.8L564.9,1614.0L566.9,1614.1L568.9,1614.2L570.9,1614.4L572.9,1614.5L574.9,1614.7L576.8,1614.8L578.8,1615.0L580.8,1615.1L582.8,1615.3L584.8,1615.4L586.8,1615.6L588.8,1615.7L590.7,1615.9L592.7,1616.0L594.7,1616.2L596.7,1616.3L598.7,1616.5L600.6,1616.6L602.6,1616.8L604.6,1617.0L606.6,1617.1L608.6,1617.3L610.5,1617.5L612.5,1617.6L614.5,1617.8L616.5,1618.0L618.4,1618.2L620.4,1618.3L622.4,1618.5L624.4,1618.7L626.3,1618.9L628.3,1619.0L630.3,1619.2L632.2,1619.4L634.2,1619.6L636.2,1619.8L638.2,1620.0L640.1,1620.1L642.1,1620.3L644.1,1620.5L646.0,1620.7L648.0,1620.9L649.9,1621.1L651.9,1621.3L653.9,1621.6L655.8,1621.8L657.8,1622.0L659.7,1622.2L661.7,1622.4L663.7,1622.7L665.6,1622.9L667.6,1623.1L669.5,1623.4L671.5,1623.6L673.4,1623.9L675.4,1624.1L677.3,1624.4L679.3,1624.7L681.2,1625.0L683.2,1625.3L685.1,1625.5L687.1,1625.8L689.0,1626.2L690.9,1626.5L692.9,1626.8L694.8,1627.1L696.8,1627.5L698.7,1627.8L700.6,1628.2L702.6,1628.5L704.5,1628.9L706.4,1629.3L708.4,1629.6L710.3,1630.0L712.2,1630.4L714.2,1630.9L716.1,1631.3L718.0,1631.7L719.9,1632.2L721.8,1632.6L723.8,1633.1L725.7,1633.6L727.6,1634.1L729.5,1634.6L731.4,1635.1L733.3,1635.6L735.3,1636.1L737.2,1636.7L739.1,1637.2L741.0,1637.8L742.9,1638.4L744.8,1639.0L746.7,1639.6L748.6,1640.2L750.5,1640.8L752.4,1641.5L754.3,1642.1L756.2,1642.8L758.1,1643.5L760.0,1644.2L761.8,1644.9L763.7,1645.7L765.6,1646.4L767.5,1647.2L769.4,1648.0L771.3,1648.7L773.1,1649.6L775.0,1650.4L776.9,1651.2L778.8,1652.1L780.6,1653.0L782.5,1653.8L784.4,1654.8L786.2,1655.7L788.1,1656.6L790.0,1657.6L791.8,1658.6L793.7,1659.5L795.5,1660.6L797.4,1661.6L799.2,1662.6L801.1,1663.7L802.9,1664.8L804.8,1665.9L806.6,1667.0L808.5,1668.2L810.3,1669.3L812.1,1670.5L814.0,1671.7L815.8,1672.9L817.6,1674.1L819.4,1675.3L821.3,1676.6L823.1,1677.8L824.9,1679.0L826.7,1680.1L828.5,1681.3L830.2,1682.4L832.0,1683.5L833.8,1684.6L835.5,1685.7L837.3,1686.6L839.0,1687.6L840.7,1688.5L842.4,1689.3L844.1,1690.1L845.8,1690.9L847.5,1691.5L849.1,1692.1L850.8,1692.6L852.4,1693.1L854.0,1693.4L855.6,1693.7L857.1,1693.8L858.7,1693.9L860.2,1693.9L861.7,1693.7L863.2,1693.5L864.7,1693.1L866.1,1692.6L867.6,1692.0L869.0,1691.3L870.4,1690.4L871.7,1689.5L873.1,1688.4L874.4,1687.1L875.6,1685.8L876.9,1684.4L878.1,1682.9L879.3,1681.3L880.5,1679.7L881.7,1677.9L882.8,1676.1L883.9,1674.2L885.0,1672.3L886.0,1670.3L887.0,1668.3L888.0,1666.2L888.9,1664.1L889.8,1662.0L890.7,1659.8L891.6,1657.7L892.4,1655.5L893.2,1653.3L893.9,1651.1L894.7,1649.0L895.3,1646.8L896.0,1644.7L896.6,1642.6L897.2,1640.6L897.7,1638.5L898.2,1636.5L898.7,1634.5L899.2,1632.5L899.6,1630.5L900.1,1628.6L900.5,1626.6L900.9,1624.7L901.2,1622.8L901.6,1620.9L901.9,1619.0L902.3,1617.1L902.6,1615.2L902.9,1613.4L903.2,1611.5L903.6,1609.6L903.9,1607.7L904.2,1605.9L904.5,1604.0L904.9,1602.1L905.2,1600.2L905.5,1598.3L905.9,1596.4L906.2,1594.5L906.6,1592.6L906.9,1590.7L907.3,1588.8L907.6,1586.9L908.0,1585.0L908.3,1583.1L908.7,1581.2L909.1,1579.3L909.4,1577.3L909.8,1575.4L910.2,1573.5L910.6,1571.6L910.9,1569.6L911.3,1567.7L911.7,1565.8L912.1,1563.8L912.5,1561.9L912.8,1560.0L913.2,1558.0L913.6,1556.1L914.0,1554.1L914.4,1552.2L914.8,1550.2L915.2,1548.3L915.6,1546.3L916.0,1544.4L916.4,1542.4L916.8,1540.5L917.2,1538.5L917.6,1536.5L918.0,1534.6L918.4,1532.6L918.8,1530.7L919.2,1528.7L919.6,1526.7L920.0,1524.8L920.4,1522.8L920.8,1520.8L921.2,1518.8L921.6,1516.9L922.0,1514.9L922.4,1512.9L922.8,1511.0L923.2,1509.0L923.6,1507.0L924.0,1505.0L924.4,1503.0L924.7,1501.1L925.1,1499.1L925.5,1497.1L925.9,1495.1L926.3,1493.2L926.7,1491.2L927.1,1489.2L927.5,1487.2L927.9,1485.2L928.2,1483.2L928.6,1481.3L929.0,1479.3L929.4,1477.3L929.7,1475.3L930.1,1473.3L930.5,1471.4L930.8,1469.4L931.2,1467.4L931.6,1465.4L931.9,1463.4L932.3,1461.5L932.6,1459.5L933.0,1457.5L933.4,1455.5L933.7,1453.5L934.1,1451.5L934.4,1449.6L934.7,1447.6L935.1,1445.6L935.4,1443.6L935.8,1441.6L936.1,1439.7L936.4,1437.7L936.8,1435.7L937.1,1433.7L937.4,1431.7L937.8,1429.7L938.1,1427.8L938.4,1425.8L938.7,1423.8L939.1,1421.8L939.4,1419.8L939.7,1417.8L940.0,1415.9L940.3,1413.9L940.6,1411.9L941.0,1409.9L941.3,1407.9L941.6,1405.9L941.9,1404.0L942.2,1402.0L942.5,1400.0L942.8,1398.0L943.1,1396.0L943.4,1394.1L943.7,1392.1L944.0,1390.1L944.3,1388.1L944.5,1386.1L944.8,1384.1L945.1,1382.2L945.4,1380.2L945.7,1378.2L946.0,1376.2L946.3,1374.2L946.5,1372.2L946.8,1370.2L947.1,1368.3L947.4,1366.3L947.6,1364.3L947.9,1362.3L948.2,1360.3L948.4,1358.3L948.7,1356.4L949.0,1354.4L949.2,1352.4L949.5,1350.4L949.8,1348.4L950.0,1346.4L950.3,1344.5L950.5,1342.5L950.8,1340.5L951.0,1338.5L951.3,1336.5L951.5,1334.5L951.8,1332.6L952.0,1330.6L952.3,1328.6L952.5,1326.6L952.8,1324.6L953.0,1322.6L953.2,1320.6L953.5,1318.7L953.7,1316.7L954.0,1314.7L954.2,1312.7L954.4,1310.7L954.6,1308.7L954.9,1306.7L955.1,1304.8L955.3,1302.8L955.6,1300.8L955.8,1298.8L956.0,1296.8L956.2,1294.8L956.5,1292.9L956.7,1290.9L956.9,1288.9L957.1,1286.9L957.3,1284.9L957.5,1282.9L957.8,1280.9L958.0,1279.0L958.2,1277.0L958.4,1275.0L958.6,1273.0L958.8,1271.0L959.0,1269.0L959.2,1267.0L959.4,1265.0L959.6,1263.1L959.8,1261.1L960.0,1259.1L960.2,1257.1L960.4,1255.1L960.6,1253.1L960.8,1251.1L961.0,1249.2L961.2,1247.2L961.4,1245.2L961.6,1243.2L961.8,1241.2L962.0,1239.2L962.1,1237.2L962.3,1235.3L962.5,1233.3L962.7,1231.3L962.9,1229.3L963.1,1227.3L963.3,1225.3L963.4,1223.3L963.6,1221.3L963.8,1219.4L964.0,1217.4L964.1,1215.4L964.3,1213.4L964.5,1211.4L964.7,1209.4L964.8,1207.4L965.0,1205.4L965.2,1203.5L965.4,1201.5L965.5,1199.5L965.7,1197.5L965.9,1195.5L966.0,1193.5L966.2,1191.5L966.4,1189.5L966.5,1187.6L966.7,1185.6L966.8,1183.6L967.0,1181.6L967.2,1179.6L967.3,1177.6L967.5,1175.6L967.6,1173.6L967.8,1171.6L968.0,1169.7L968.1,1167.7L968.3,1165.7L968.4,1163.7L968.6,1161.7L968.7,1159.7L968.9,1157.7L969.0,1155.7L969.2,1153.7L969.3,1151.8L969.5,1149.8L969.6,1147.8L969.8,1145.8L969.9,1143.8L970.1,1141.8L970.2,1139.8L970.4,1137.8L970.5,1135.8L970.6,1133.9L970.8,1131.9L970.9,1129.9L971.1,1127.9L971.2,1125.9L971.4,1123.9L971.5,1121.9L971.6,1119.9L971.8,1117.9L971.9,1115.9L972.0,1114.0L972.2,1112.0L972.3,1110.0L972.5,1108.0L972.6,1106.0L972.7,1104.0L972.9,1102.0L973.0,1100.0L973.1,1098.0L973.3,1096.0L973.4,1094.1L973.5,1092.1L973.7,1090.1L973.8,1088.1L973.9,1086.1L974.0,1084.1L974.2,1082.1L974.3,1080.1L974.4,1078.1L974.6,1076.1L974.7,1074.1L974.8,1072.2L974.9,1070.2L975.1,1068.2L975.2,1066.2L975.3,1064.2L975.4,1062.2L975.6,1060.2L975.7,1058.2L975.8,1056.2L975.9,1054.2L976.1,1052.2L976.2,1050.3L976.3,1048.3L976.4,1046.3L976.6,1044.3L976.7,1042.3L976.8,1040.3L976.9,1038.3L977.0,1036.3L977.2,1034.3L977.3,1032.3L977.4,1030.3L977.5,1028.3L977.6,1026.4L977.8,1024.4L977.9,1022.4L978.0,1020.4L978.1,1018.4L978.2,1016.4L978.4,1014.4L978.5,1012.4L978.6,1010.4L978.7,1008.4L978.8,1006.4L978.9,1004.4L979.1,1002.4L979.2,1000.4L979.3,998.5L979.4,996.5L979.5,994.5L979.6,992.5L979.8,990.5L979.9,988.5L980.0,986.5L980.1,984.5L980.2,982.5L980.3,980.5L980.5,978.5L980.6,976.5L980.7,974.5L980.8,972.5L980.9,970.5L981.0,968.6L981.2,966.6L981.3,964.6L981.4,962.6L981.5,960.6L981.6,958.6L981.7,956.6L981.9,954.6L982.0,952.6L982.1,950.6L982.2,948.6L982.3,946.6L982.4,944.6L982.6,942.6L982.7,940.6L982.8,938.6L982.9,936.6L983.0,934.6L983.2,932.7L983.3,930.7L983.4,928.7L983.5,926.7L983.6,924.7L983.7,922.7L983.9,920.7L984.0,918.7L984.1,916.7L984.2,914.7L984.3,912.7L984.5,910.7L984.6,908.7L984.7,906.7L984.8,904.7L984.9,902.7L985.1,900.7L985.2,898.7L985.3,896.7L985.4,894.7L985.6,892.7L985.7,890.7L985.8,888.8L985.9,886.8L986.1,884.8L986.2,882.8L986.3,880.8L986.4,878.8L986.5,876.8L986.7,874.8L986.8,872.8L986.9,870.8L987.1,868.8L987.2,866.8L987.3,864.8L987.4,862.8L987.6,860.8L987.7,858.8L987.8,856.8L988.0,854.8L988.1,852.8L988.2,850.8L988.3,848.8L988.5,846.8L988.6,844.8L988.7,842.8L988.9,840.8L989.0,838.8L989.1,836.8L989.3,834.8L989.4,832.8L989.6,830.8L989.7,828.8L989.8,826.8L990.0,824.8L990.1,822.8L990.2,820.8L990.4,818.9L990.5,816.9L990.7,814.9L990.8,812.9L990.9,810.9L991.1,808.9L991.2,806.9L991.4,804.9L991.5,802.9L991.7,800.9L991.8,798.9L991.9,796.9L992.1,794.9L992.2,792.9L992.4,790.9L992.5,788.9L992.7,786.9L992.8,784.9L993.0,782.9L993.1,780.9L993.3,778.9L993.4,776.9L993.6,774.9L993.7,772.9L993.9,770.9L994.0,768.9L994.2,766.9L994.4,764.9L994.5,762.9L994.7,760.9L994.8,758.9L995.0,756.9L995.1,754.9L995.3,752.9L995.5,750.9L995.6,748.9L995.8,746.9L995.9,744.9L996.1,742.9L996.3,740.9L996.4,738.9L996.6,736.9L996.7,734.9L996.9,732.9L997.1,730.9L997.2,728.9L997.4,726.9L997.6,724.9L997.7,722.9L997.9,720.9L998.1,718.9L998.2,716.9L998.4,714.9L998.6,712.9L998.7,710.9L998.9,708.9L999.1,706.9L999.3,704.9L999.4,702.9L999.6,700.9L999.8,698.9L999.9,696.9L1000.1,694.9L1000.3,692.9L1000.5,690.9L1000.6,688.9L1000.8,686.9L1001.0,684.9L1001.2,682.9L1001.3,680.9L1001.5,678.9L1001.7,676.9L1001.9,674.9L1002.1,673.0L1002.2,671.0L1002.4,669.0L1002.6,667.0L1002.8,665.0L1003.0,663.0L1003.1,661.0L1003.3,659.0L1003.5,657.0L1003.7,655.0L1003.9,653.0L1004.1,651.0L1004.3,649.0L1004.4,647.0L1004.6,645.0L1004.8,643.0L1005.0,641.0L1005.2,639.0L1005.4,637.0L1005.6,635.0L1005.8,633.0L1006.0,631.0L1006.1,629.0L1006.3,627.0L1006.5,625.0L1006.7,623.0L1006.9,621.0L1007.1,619.0L1007.3,617.1L1007.5,615.1L1007.7,613.1L1007.9,611.1L1008.1,609.1L1008.3,607.1L1008.5,605.1L1008.7,603.1L1008.9,601.1L1009.1,599.1L1009.3,597.1L1009.5,595.1L1009.7,593.1L1009.9,591.1L1010.1,589.1L1010.3,587.1L1010.5,585.1L1010.7,583.2L1010.9,581.2L1011.1,579.2L1011.3,577.2L1011.5,575.2L1011.7,573.2L1011.9,571.2L1012.1,569.2L1012.3,567.2L1012.5,565.2L1012.7,563.2L1012.9,561.2L1013.2,559.3L1013.4,557.3L1013.6,555.3L1013.8,553.3L1014.0,551.3L1014.2,549.3L1014.4,547.3L1014.6,545.3L1014.8,543.3L1015.0,541.3L1015.3,539.4L1015.5,537.4L1015.7,535.4L1015.9,533.4L1016.1,531.4L1016.3,529.4L1016.6,527.4L1016.8,525.4L1017.0,523.4L1017.2,521.5L1017.4,519.5L1017.6,517.5L1017.9,515.5L1018.1,513.5L1018.3,511.5L1018.5,509.5L1018.7,507.6L1019.0,505.6L1019.2,503.6L1019.4,501.6L1019.6,499.6L1019.9,497.6L1020.1,495.6L1020.3,493.7L1020.5,491.7L1020.8,489.7L1021.0,487.7L1021.2,485.7L1021.4,483.7L1021.7,481.8L1021.9,479.8L1022.1,477.8L1022.3,475.8L1022.6,473.8L1022.8,471.8L1023.0,469.9L1023.3,467.9L1023.5,465.9L1023.7,463.9L1024.0,461.9L1024.2,460.0L1024.4,458.0L1024.7,456.0L1024.9,454.0L1025.1,452.0L1025.4,450.1L1025.6,448.1L1025.8,446.1L1026.1,444.1L1026.3,442.1L1026.5,440.2L1026.8,438.2L1027.0,436.2L1027.2,434.2L1027.5,432.3L1027.7,430.3L1028.0,428.3L1028.2,426.3L1028.4,424.3L1028.7,422.4L1028.9,420.4L1029.2,418.4L1029.4,416.4L1029.7,414.5L1029.9,412.5L1030.1,410.5L1030.4,408.6L1030.6,406.6L1030.9,404.6L1031.1,402.6L1031.4,400.7L1031.6,398.7L1031.9,396.7L1032.1,394.7L1032.3,392.8L1032.6,390.8L1032.8,388.8L1033.1,386.9L1033.3,384.9L1033.6,382.9L1033.8,381.0L1034.1,379.0L1034.3,377.0L1034.6,375.0L1034.8,373.1L1035.1,371.1L1035.3,369.1L1035.6,367.2L1035.9,365.2L1036.1,363.2L1036.4,361.3L1036.6,359.3L1036.9,357.3L1037.1,355.4L1037.4,353.4L1037.6,351.5L1037.9,349.5L1038.2,347.5L1038.4,345.6L1038.7,343.6L1038.9,341.6L1039.2,339.7L1039.4,337.7L1039.7,335.8L1040.0,333.8L1040.2,331.8L1040.5,329.9L1040.7,327.9L1041.0,326.0L1041.3,324.0L1041.5,322.0L1041.8,320.1L1042.1,318.1L1042.3,316.2L1042.6,314.2L1042.9,312.2L1043.1,310.3L1043.4,308.3L1043.7,306.4L1043.9,304.4L1044.2,302.4L1044.5,300.5L1044.7,298.5L1045.0,296.6L1045.3,294.6L1045.6,292.6L1045.8,290.7L1046.1,288.7L1046.4,286.8L1046.7,284.8L1046.9,282.8L1047.2,280.9L1047.5,278.9L1047.8,276.9L1048.1,275.0L1048.4,273.0L1048.6,271.0L1048.9,269.1L1049.2,267.1L1049.5,265.1L1049.8,263.1L1050.1,261.2L1050.4,259.2L1050.7,257.2L1051.0,255.2L1051.3,253.3L1051.6,251.3L1051.9,249.3L1052.2,247.3L1052.5,245.3L1052.8,243.3L1053.1,241.4L1053.4,239.4L1053.8,237.4L1054.1,235.4L1054.4,233.4L1054.7,231.4L1055.0,229.4L1055.4,227.4L1055.7,225.4L1056.0,223.4L1056.4,221.4L1056.7,219.4L1057.0,217.4L1057.4,215.3L1057.7,213.3L1058.0,211.3L1058.4,209.3L1058.7,207.3L1059.1,205.3L1059.4,203.2L1059.8,201.2L1060.1,199.2L1060.5,197.1L1060.9,195.1L1061.2,193.1L1061.6,191.0L1062.0,189.0L1062.3,186.9L1062.7,184.9L1063.1,182.8L1063.5,180.8L1063.9,178.7L1064.2,176.6L1064.6,174.6L1065.0,172.5L1065.4,170.4L1065.8,168.4L1066.2,166.3L1066.6,164.2L1067.0,162.1L1067.4,160.0L1067.9,157.9L1068.3,155.8L1068.7,153.7L1069.1,151.6L1069.5,149.5L1070.0,147.4L1070.4,145.3L1070.9,143.2L1071.3,141.1L1071.8,139.0L1072.2,136.9L1072.7,134.8L1073.2,132.7L1073.7,130.7L1074.2,128.6L1074.7,126.6L1075.2,124.6L1075.8,122.6L1076.4,120.6L1077.0,118.6L1077.6,116.7L1078.2,114.8L1078.9,113.0L1079.6,111.2L1080.3,109.4L1081.0,107.6L1081.8,105.9L1082.6,104.2L1083.4,102.6L1084.3,101.1L1085.2,99.5L1086.1,98.1L1087.1,96.6L1088.1,95.3L1089.1,94.0L1090.2,92.8L1091.3,91.9L1092.3,91.1L1093.4,90.6L1094.5,90.5L1095.6,90.7L1096.7,91.3L1097.8,92.3L1098.8,93.8L1099.8,95.6L1100.8,97.7L1101.8,100.1L1102.7,102.7L1103.6,105.3L1104.5,108.1L1105.3,110.8L1106.1,113.5L1106.8,116.1L1107.5,118.7L1108.2,121.1L1108.8,123.5L1109.4,125.8L1110.0,128.0L1110.5,130.2L1111.1,132.3L1111.6,134.4L1112.0,136.4L1112.5,138.4L1112.9,140.4L1113.3,142.3L1113.8,144.2L1114.2,146.1L1114.6,148.0L1115.0,149.9L1115.3,151.8L1115.7,153.6L1116.1,155.5L1116.5,157.4L1116.9,159.3L1117.3,161.2L1117.7,163.1L1118.1,165.0L1118.5,166.9L1118.9,168.8L1119.2,170.7L1119.6,172.6L1120.0,174.5L1120.4,176.4L1120.8,178.4L1121.2,180.3L1121.5,182.2L1121.9,184.2L1122.3,186.1L1122.6,188.0L1123.0,190.0L1123.4,191.9L1123.7,193.9L1124.1,195.8L1124.5,197.8L1124.8,199.7L1125.2,201.7L1125.5,203.6L1125.9,205.6L1126.2,207.5L1126.5,209.5L1126.9,211.5L1127.2,213.4L1127.6,215.4L1127.9,217.4L1128.2,219.4L1128.6,221.3L1128.9,223.3L1129.2,225.3L1129.5,227.3L1129.8,229.2L1130.2,231.2L1130.5,233.2L1130.8,235.2L1131.1,237.2L1131.4,239.1L1131.7,241.1L1132.0,243.1L1132.3,245.1L1132.6,247.1L1132.9,249.1L1133.2,251.1L1133.5,253.0L1133.8,255.0L1134.1,257.0L1134.4,259.0L1134.7,261.0L1135.0,263.0L1135.2,265.0L1135.5,267.0L1135.8,268.9L1136.1,270.9L1136.3,272.9L1136.6,274.9L1136.9,276.9L1137.2,278.9L1137.4,280.9L1137.7,282.8L1138.0,284.8L1138.2,286.8L1138.5,288.8L1138.8,290.8L1139.0,292.8L1139.3,294.8L1139.5,296.7L1139.8,298.7L1140.0,300.7L1140.3,302.7L1140.5,304.7L1140.8,306.7L1141.0,308.7L1141.3,310.6L1141.5,312.6L1141.8,314.6L1142.0,316.6L1142.3,318.6L1142.5,320.6L1142.8,322.6L1143.0,324.5L1143.2,326.5L1143.5,328.5L1143.7,330.5L1143.9,332.5L1144.2,334.5L1144.4,336.5L1144.6,338.4L1144.9,340.4L1145.1,342.4L1145.3,344.4L1145.5,346.4L1145.8,348.4L1146.0,350.4L1146.2,352.3L1146.4,354.3L1146.6,356.3L1146.9,358.3L1147.1,360.3L1147.3,362.3L1147.5,364.3L1147.7,366.2L1148.0,368.2L1148.2,370.2L1148.4,372.2L1148.6,374.2L1148.8,376.2L1149.0,378.2L1149.2,380.1L1149.5,382.1L1149.7,384.1L1149.9,386.1L1150.1,388.1L1150.3,390.1L1150.5,392.1L1150.7,394.0L1150.9,396.0L1151.1,398.0L1151.3,400.0L1151.5,402.0L1151.7,404.0L1151.9,406.0L1152.1,407.9L1152.4,409.9L1152.6,411.9L1152.8,413.9L1153.0,415.9L1153.2,417.9L1153.4,419.9L1153.6,421.9L1153.8,423.8L1154.0,425.8L1154.2,427.8L1154.4,429.8L1154.6,431.8L1154.8,433.8L1155.0,435.8L1155.2,437.8L1155.4,439.7L1155.6,441.7L1155.8,443.7L1156.0,445.7L1156.2,447.7L1156.4,449.7L1156.6,451.7L1156.8,453.7L1157.0,455.6L1157.2,457.6L1157.4,459.6L1157.6,461.6L1157.8,463.6L1158.0,465.6L1158.1,467.6L1158.3,469.6L1158.5,471.6L1158.7,473.5L1158.9,475.5L1159.1,477.5L1159.3,479.5L1159.5,481.5L1159.7,483.5L1159.9,485.5L1160.1,487.5L1160.3,489.5L1160.5,491.4L1160.7,493.4L1160.9,495.4L1161.1,497.4L1161.3,499.4L1161.5,501.4L1161.6,503.4L1161.8,505.4L1162.0,507.4L1162.2,509.3L1162.4,511.3L1162.6,513.3L1162.8,515.3L1163.0,517.3L1163.2,519.3L1163.4,521.3L1163.6,523.3L1163.7,525.3L1163.9,527.3L1164.1,529.2L1164.3,531.2L1164.5,533.2L1164.7,535.2L1164.9,537.2L1165.1,539.2L1165.3,541.2L1165.5,543.2L1165.6,545.2L1165.8,547.2L1166.0,549.1L1166.2,551.1L1166.4,553.1L1166.6,555.1L1166.8,557.1L1167.0,559.1L1167.2,561.1L1167.3,563.1L1167.5,565.1L1167.7,567.1L1167.9,569.1L1168.1,571.0L1168.3,573.0L1168.5,575.0L1168.7,577.0L1168.9,579.0L1169.0,581.0L1169.2,583.0L1169.4,585.0L1169.6,587.0L1169.8,589.0L1170.0,590.9L1170.2,592.9L1170.4,594.9L1170.5,596.9L1170.7,598.9L1170.9,600.9L1171.1,602.9L1171.3,604.9L1171.5,606.9L1171.7,608.9L1171.8,610.9L1172.0,612.8L1172.2,614.8L1172.4,616.8L1172.6,618.8L1172.8,620.8L1173.0,622.8L1173.2,624.8L1173.3,626.8L1173.5,628.8L1173.7,630.8L1173.9,632.8L1174.1,634.7L1174.3,636.7L1174.5,638.7L1174.7,640.7L1174.8,642.7L1175.0,644.7L1175.2,646.7L1175.4,648.7L1175.6,650.7L1175.8,652.7L1176.0,654.7L1176.2,656.6L1176.3,658.6L1176.5,660.6L1176.7,662.6L1176.9,664.6L1177.1,666.6L1177.3,668.6L1177.5,670.6L1177.7,672.6L1177.8,674.6L1178.0,676.6L1178.2,678.6L1178.4,680.5L1178.6,682.5L1178.8,684.5L1179.0,686.5L1179.2,688.5L1179.3,690.5L1179.5,692.5L1179.7,694.5L1179.9,696.5L1180.1,698.5L1180.3,700.4L1180.5,702.4L1180.7,704.4L1180.9,706.4L1181.1,708.4L1181.2,710.4L1181.4,712.4L1181.6,714.4L1181.8,716.4L1182.0,718.4L1182.2,720.4L1182.4,722.3L1182.6,724.3L1182.8,726.3L1183.0,728.3L1183.1,730.3L1183.3,732.3L1183.5,734.3L1183.7,736.3L1183.9,738.3L1184.1,740.3L1184.3,742.3L1184.5,744.2L1184.7,746.2L1184.9,748.2L1185.1,750.2L1185.3,752.2L1185.5,754.2L1185.6,756.2L1185.8,758.2L1186.0,760.2L1186.2,762.2L1186.4,764.1L1186.6,766.1L1186.8,768.1L1187.0,770.1L1187.2,772.1L1187.4,774.1L1187.6,776.1L1187.8,778.1L1188.0,780.1L1188.2,782.1L1188.4,784.0L1188.6,786.0L1188.8,788.0L1189.0,790.0L1189.2,792.0L1189.4,794.0L1189.6,796.0L1189.8,798.0L1190.0,800.0L1190.2,801.9L1190.4,803.9L1190.6,805.9L1190.8,807.9L1191.0,809.9L1191.2,811.9L1191.4,813.9L1191.6,815.9L1191.8,817.9L1192.0,819.8L1192.2,821.8L1192.4,823.8L1192.6,825.8L1192.8,827.8L1193.0,829.8L1193.2,831.8L1193.4,833.8L1193.6,835.8L1193.8,837.7L1194.0,839.7L1194.2,841.7L1194.4,843.7L1194.6,845.7L1194.8,847.7L1195.0,849.7L1195.2,851.7L1195.4,853.6L1195.6,855.6L1195.8,857.6L1196.1,859.6L1196.3,861.6L1196.5,863.6L1196.7,865.6L1196.9,867.6L1197.1,869.5L1197.3,871.5L1197.5,873.5L1197.7,875.5L1197.9,877.5L1198.1,879.5L1198.4,881.5L1198.6,883.5L1198.8,885.4L1199.0,887.4L1199.2,889.4L1199.4,891.4L1199.6,893.4L1199.8,895.4L1200.1,897.4L1200.3,899.4L1200.5,901.3L1200.7,903.3L1200.9,905.3L1201.1,907.3L1201.4,909.3L1201.6,911.3L1201.8,913.3L1202.0,915.2L1202.2,917.2L1202.4,919.2L1202.7,921.2L1202.9,923.2L1203.1,925.2L1203.3,927.2L1203.5,929.2L1203.7,931.1L1204.0,933.1L1204.2,935.1L1204.4,937.1L1204.6,939.1L1204.8,941.1L1205.1,943.1L1205.3,945.0L1205.5,947.0L1205.7,949.0L1206.0,951.0L1206.2,953.0L1206.4,955.0L1206.6,957.0L1206.9,958.9L1207.1,960.9L1207.3,962.9L1207.5,964.9L1207.8,966.9L1208.0,968.9L1208.2,970.9L1208.4,972.8L1208.7,974.8L1208.9,976.8L1209.1,978.8L1209.4,980.8L1209.6,982.8L1209.8,984.7L1210.0,986.7L1210.3,988.7L1210.5,990.7L1210.7,992.7L1211.0,994.7L1211.2,996.7L1211.4,998.6L1211.7,1000.6L1211.9,1002.6L1212.1,1004.6L1212.4,1006.6L1212.6,1008.6L1212.8,1010.5L1213.1,1012.5L1213.3,1014.5L1213.5,1016.5L1213.8,1018.5L1214.0,1020.5L1214.2,1022.5L1214.5,1024.4L1214.7,1026.4L1215.0,1028.4L1215.2,1030.4L1215.4,1032.4L1215.7,1034.4L1215.9,1036.3L1216.2,1038.3L1216.4,1040.3L1216.6,1042.3L1216.9,1044.3L1217.1,1046.3L1217.4,1048.3L1217.6,1050.2L1217.8,1052.2L1218.1,1054.2L1218.3,1056.2L1218.6,1058.2L1218.8,1060.2L1219.1,1062.1L1219.3,1064.1L1219.6,1066.1L1219.8,1068.1L1220.0,1070.1L1220.3,1072.1L1220.5,1074.0L1220.8,1076.0L1221.0,1078.0L1221.3,1080.0L1221.5,1082.0L1221.8,1084.0L1222.0,1085.9L1222.3,1087.9L1222.5,1089.9L1222.8,1091.9L1223.0,1093.9L1223.3,1095.9L1223.5,1097.8L1223.8,1099.8L1224.0,1101.8L1224.3,1103.8L1224.6,1105.8L1224.8,1107.8L1225.1,1109.7L1225.3,1111.7L1225.6,1113.7L1225.8,1115.7L1226.1,1117.7L1226.3,1119.7L1226.6,1121.6L1226.9,1123.6L1227.1,1125.6L1227.4,1127.6L1227.6,1129.6L1227.9,1131.6L1228.2,1133.5L1228.4,1135.5L1228.7,1137.5L1228.9,1139.5L1229.2,1141.5L1229.5,1143.5L1229.7,1145.4L1230.0,1147.4L1230.3,1149.4L1230.5,1151.4L1230.8,1153.4L1231.1,1155.4L1231.3,1157.3L1231.6,1159.3L1231.9,1161.3L1232.1,1163.3L1232.4,1165.3L1232.7,1167.3L1232.9,1169.2L1233.2,1171.2L1233.5,1173.2L1233.7,1175.2L1234.0,1177.2L1234.3,1179.2L1234.5,1181.1L1234.8,1183.1L1235.1,1185.1L1235.4,1187.1L1235.6,1189.1L1235.9,1191.1L1236.2,1193.0L1236.5,1195.0L1236.7,1197.0L1237.0,1199.0L1237.3,1201.0L1237.6,1203.0L1237.8,1204.9L1238.1,1206.9L1238.4,1208.9L1238.7,1210.9L1239.0,1212.9L1239.2,1214.8L1239.5,1216.8L1239.8,1218.8L1240.1,1220.8L1240.4,1222.8L1240.7,1224.7L1241.0,1226.7L1241.2,1228.7L1241.5,1230.7L1241.8,1232.7L1242.1,1234.6L1242.4,1236.6L1242.7,1238.6L1243.0,1240.6L1243.3,1242.6L1243.6,1244.5L1243.9,1246.5L1244.2,1248.5L1244.5,1250.5L1244.8,1252.5L1245.1,1254.4L1245.4,1256.4L1245.7,1258.4L1246.0,1260.4L1246.3,1262.3L1246.6,1264.3L1246.9,1266.3L1247.2,1268.3L1247.5,1270.2L1247.8,1272.2L1248.1,1274.2L1248.4,1276.2L1248.7,1278.1L1249.0,1280.1L1249.4,1282.1L1249.7,1284.1L1250.0,1286.0L1250.3,1288.0L1250.6,1290.0L1251.0,1291.9L1251.3,1293.9L1251.6,1295.9L1251.9,1297.9L1252.3,1299.8L1252.6,1301.8L1252.9,1303.8L1253.2,1305.7L1253.6,1307.7L1253.9,1309.7L1254.3,1311.6L1254.6,1313.6L1254.9,1315.6L1255.3,1317.5L1255.6,1319.5L1256.0,1321.4L1256.3,1323.4L1256.6,1325.4L1257.0,1327.3L1257.3,1329.3L1257.7,1331.3L1258.0,1333.2L1258.4,1335.2L1258.8,1337.1L1259.1,1339.1L1259.5,1341.0L1259.8,1343.0L1260.2,1345.0L1260.6,1346.9L1260.9,1348.9L1261.3,1350.8L1261.7,1352.8L1262.0,1354.7L1262.4,1356.7L1262.8,1358.6L1263.2,1360.6L1263.6,1362.5L1263.9,1364.5L1264.3,1366.4L1264.7,1368.4L1265.1,1370.3L1265.5,1372.3L1265.9,1374.2L1266.3,1376.2L1266.7,1378.1L1267.1,1380.1L1267.5,1382.0L1267.9,1383.9L1268.3,1385.9L1268.7,1387.8L1269.1,1389.8L1269.5,1391.7L1269.9,1393.7L1270.3,1395.6L1270.7,1397.6L1271.1,1399.5L1271.5,1401.5L1272.0,1403.4L1272.4,1405.4L1272.8,1407.3L1273.2,1409.3L1273.6,1411.2L1274.1,1413.2L1274.5,1415.2L1274.9,1417.1L1275.3,1419.1L1275.8,1421.1L1276.2,1423.1L1276.6,1425.1L1277.0,1427.1L1277.5,1429.0L1277.9,1431.0L1278.3,1433.1L1278.8,1435.1L1279.2,1437.1L1279.6,1439.1L1280.1,1441.1L1280.5,1443.2L1280.9,1445.2L1281.3,1447.2L1281.8,1449.3L1282.2,1451.4L1282.6,1453.4L1283.1,1455.5L1283.5,1457.6L1283.9,1459.6L1284.4,1461.7L1284.8,1463.8L1285.3,1465.8L1285.7,1467.9L1286.2,1469.9L1286.6,1471.9L1287.1,1473.9L1287.6,1475.9L1288.1,1477.9L1288.6,1479.8L1289.1,1481.8L1289.6,1483.7L1290.1,1485.5L1290.6,1487.4L1291.2,1489.2L1291.7,1491.0L1292.3,1492.7L1292.9,1494.4L1293.5,1496.1L1294.1,1497.7L1294.7,1499.2L1295.4,1500.8L1296.0,1502.2L1296.7,1503.7L1297.4,1505.1L1298.1,1506.6L1298.8,1508.1L1299.5,1509.6L1300.3,1511.2L1301.1,1512.9L1301.9,1514.7L1302.7,1516.6L1303.5,1518.6L1304.3,1520.8L1305.2,1523.1L1306.1,1525.5L1307.0,1528.0L1307.9,1530.6L1308.9,1533.2L1309.8,1535.9L1310.8,1538.5L1311.9,1541.1L1313.0,1543.7L1314.1,1546.2L1315.2,1548.7L1316.4,1551.0L1317.6,1553.1L1318.9,1555.2L1320.2,1557.0L1321.6,1558.6L1322.9,1560.1L1324.4,1561.4L1325.8,1562.5L1327.4,1563.5L1328.9,1564.3L1330.4,1565.0L1332.0,1565.5L1333.6,1565.9L1335.3,1566.1L1336.9,1566.3L1338.6,1566.3L1340.3,1566.1L1342.0,1565.9L1343.7,1565.6L1345.4,1565.1L1347.2,1564.6L1348.9,1564.0L1350.6,1563.2L1352.4,1562.4L1354.1,1561.6L1355.8,1560.6L1357.6,1559.6L1359.3,1558.5L1361.0,1557.4L1362.7,1556.2L1364.4,1555.0L1366.0,1553.7L1367.7,1552.4L1369.3,1551.1L1370.9,1549.7L1372.4,1548.4L1374.0,1547.0L1375.5,1545.5L1377.0,1544.1L1378.4,1542.7L1379.9,1541.2L1381.3,1539.7L1382.7,1538.2L1384.0,1536.7L1385.4,1535.1L1386.7,1533.6L1388.0,1532.0L1389.3,1530.4L1390.6,1528.8L1391.8,1527.2L1393.0,1525.6L1394.2,1523.9L1395.4,1522.3L1396.6,1520.6L1397.7,1518.9L1398.8,1517.2L1399.9,1515.5L1401.0,1513.8L1402.1,1512.0L1403.1,1510.3L1404.2,1508.6L1405.2,1506.8L1406.2,1505.0L1407.2,1503.2L1408.2,1501.4L1409.1,1499.6L1410.1,1497.8L1411.0,1496.0L1411.9,1494.2L1412.8,1492.4L1413.7,1490.5L1414.6,1488.7L1415.5,1486.8L1416.3,1485.0L1417.2,1483.1L1418.0,1481.3L1418.8,1479.4L1419.7,1477.5L1420.5,1475.6L1421.3,1473.7L1422.1,1471.9L1422.8,1470.0L1423.6,1468.1L1424.4,1466.2L1425.2,1464.3L1425.9,1462.4L1426.7,1460.5L1427.4,1458.6L1428.1,1456.7L1428.9,1454.8L1429.6,1452.9L1430.3,1451.1L1431.0,1449.2L1431.8,1447.3L1432.5,1445.4L1433.2,1443.5L1433.9,1441.6L1434.6,1439.7L1435.3,1437.8L1435.9,1436.0L1436.6,1434.1L1437.3,1432.2L1438.0,1430.3L1438.6,1428.4L1439.3,1426.5L1440.0,1424.6L1440.6,1422.8L1441.3,1420.9L1441.9,1419.0L1442.6,1417.1L1443.2,1415.2L1443.8,1413.3L1444.5,1411.5L1445.1,1409.6L1445.7,1407.7L1446.3,1405.8L1446.9,1403.9L1447.5,1402.0L1448.1,1400.1L1448.7,1398.3L1449.3,1396.4L1449.9,1394.5L1450.5,1392.6L1451.0,1390.7L1451.6,1388.8L1452.2,1386.9L1452.7,1385.0L1453.3,1383.1L1453.9,1381.2L1454.4,1379.3L1454.9,1377.4L1455.5,1375.5L1456.0,1373.6L1456.5,1371.7L1457.1,1369.8L1457.6,1367.9L1458.1,1366.0L1458.6,1364.1L1459.1,1362.2L1459.6,1360.2L1460.1,1358.3L1460.6,1356.4L1461.1,1354.5L1461.5,1352.6L1462.0,1350.6L1462.5,1348.7L1462.9,1346.8L1463.4,1344.8L1463.9,1342.9L1464.3,1341.0L1464.7,1339.0L1465.2,1337.1L1465.6,1335.1L1466.0,1333.2L1466.5,1331.2L1466.9,1329.3L1467.3,1327.3L1467.7,1325.4L1468.1,1323.4L1468.5,1321.4L1468.9,1319.5L1469.3,1317.5L1469.7,1315.5L1470.0,1313.6L1470.4,1311.6L1470.8,1309.6L1471.2,1307.6L1471.5,1305.6L1471.9,1303.6L1472.3,1301.7L1472.7,1299.7L1473.1,1297.7L1473.5,1295.7L1473.9,1293.7L1474.3,1291.8L1474.7,1289.8L1475.2,1287.8L1475.7,1285.9L1476.1,1283.9L1476.6,1282.0L1477.1,1280.0L1477.7,1278.1L1478.2,1276.2L1478.8,1274.3L1479.4,1272.4L1480.1,1270.5L1480.7,1268.6L1481.4,1266.7L1482.1,1264.9L1482.9,1263.0L1483.6,1261.2L1484.4,1259.3L1485.3,1257.5L1486.1,1255.7L1487.0,1253.9L1487.9,1252.1L1488.8,1250.4L1489.7,1248.6L1490.7,1246.8L1491.6,1245.0L1492.6,1243.3L1493.6,1241.5L1494.6,1239.8L1495.6,1238.1L1496.6,1236.3L1497.7,1234.6L1498.7,1232.9L1499.7,1231.1L1500.8,1229.4L1501.8,1227.7L1502.8,1225.9L1503.9,1224.2L1504.9,1222.5L1506.0,1220.8L1507.0,1219.0L1508.0,1217.3L1509.0,1215.6L1510.0,1213.9L1511.0,1212.1L1512.0,1210.4L1513.0,1208.6L1514.0,1206.9L1515.0,1205.2L1515.9,1203.4L1516.9,1201.7L1517.9,1199.9L1518.8,1198.2L1519.8,1196.4L1520.8,1194.7L1521.7,1193.0L1522.7,1191.2L1523.6,1189.5L1524.6,1187.7L1525.5,1186.0L1526.4,1184.2L1527.4,1182.5L1528.3,1180.8L1529.3,1179.0L1530.2,1177.3L1531.2,1175.5L1532.2,1173.8L1533.1,1172.1L1534.1,1170.3L1535.0,1168.6L1536.0,1166.9L1537.0,1165.2L1538.0,1163.4L1538.9,1161.7L1539.9,1160.0L1540.9,1158.3L1541.9,1156.6L1542.9,1154.9L1544.0,1153.2L1545.0,1151.5L1546.0,1149.8L1547.0,1148.1L1548.1,1146.4L1549.2,1144.8L1550.2,1143.1L1551.3,1141.4L1552.4,1139.8L1553.5,1138.1L1554.6,1136.4L1555.7,1134.8L1556.8,1133.1L1557.9,1131.5L1559.0,1129.8L1560.2,1128.2L1561.3,1126.6L1562.5,1124.9L1563.6,1123.3L1564.8,1121.7L1565.9,1120.1L1567.1,1118.4L1568.3,1116.8L1569.5,1115.2L1570.6,1113.6L1571.8,1112.0L1573.0,1110.4L1574.2,1108.8L1575.4,1107.2L1576.7,1105.6L1577.9,1104.0L1579.1,1102.4L1580.3,1100.8L1581.5,1099.2L1582.8,1097.6L1584.0,1096.0L1585.2,1094.4L1586.5,1092.8L1587.7,1091.3L1588.9,1089.7L1590.2,1088.1L1591.4,1086.5L1592.7,1084.9L1593.9,1083.4L1595.2,1081.8L1596.4,1080.2L1597.7,1078.6L1598.9,1077.0L1600.2,1075.5L1601.5,1073.9L1602.7,1072.3L1604.0,1070.7L1605.2,1069.2L1606.5,1067.6L1607.7,1066.0L1609.0,1064.4L1610.2,1062.9L1611.5,1061.3L1612.7,1059.7L1614.0,1058.1L1615.2,1056.6L1616.5,1055.0L1617.7,1053.4L1619.0,1051.8L1620.2,1050.3L1621.5,1048.7L1622.7,1047.1L1623.9,1045.5L1625.1,1043.9L1626.4,1042.3L1627.6,1040.7L1628.8,1039.2L1630.0,1037.6L1631.2,1036.0L1632.5,1034.4L1633.7,1032.8L1634.9,1031.2L1636.0,1029.6L1637.2,1028.0L1638.4,1026.4L1639.6,1024.8L1640.8,1023.1L1641.9,1021.5L1643.1,1019.9L1644.3,1018.3L1645.4,1016.7L1646.6,1015.0L1647.7,1013.4L1648.8,1011.8L1649.9,1010.2L1651.1,1008.5L1652.2,1006.9L1653.3,1005.2L1654.4,1003.6L1655.4,1001.9L1656.5,1000.3L1657.6,998.6L1658.7,996.9L1659.7,995.3L1660.8,993.6L1661.8,991.9L1662.8,990.3L1663.8,988.6L1664.8,986.9L1665.8,985.2L1666.8,983.5L1667.8,981.8L1668.8,980.1L1669.7,978.4L1670.7,976.6L1671.6,974.9L1672.5,973.2L1673.4,971.5L1674.4,969.7L1675.3,968.0L1676.1,966.2L1677.0,964.5L1677.9,962.7L1678.7,961.0L1679.6,959.2L1680.4,957.4L1681.3,955.6L1682.1,953.9L1682.9,952.1L1683.7,950.3L1684.5,948.5L1685.3,946.7L1686.1,944.9L1686.9,943.1L1687.7,941.3L1688.5,939.5L1689.2,937.7L1690.0,935.8L1690.7,934.0L1691.5,932.2L1692.2,930.4L1692.9,928.5L1693.7,926.7L1694.4,924.9L1695.1,923.0L1695.8,921.2L1696.5,919.3L1697.2,917.5L1697.9,915.6L1698.6,913.7L1699.3,911.9L1700.0,910.0L1700.7,908.1L1701.4,906.3L1702.0,904.4L1702.7,902.5L1703.4,900.6L1704.1,898.7L1704.7,896.9L1705.4,895.0L1706.1,893.1L1706.7,891.2L1707.4,889.3L1708.0,887.4L1708.7,885.5L1709.3,883.6L1710.0,881.7L1710.7,879.8L1711.3,877.8L1712.0,875.9L1712.6,874.0L1713.3,872.1L1713.9,870.2L1714.6,868.2L1715.2,866.3L1715.9,864.4L1716.5,862.5L1717.2,860.5L1717.8,858.6L1718.5,856.7L1719.1,854.7L1719.8,852.8L1720.5,850.9L1721.1,848.9L1721.8,847.0L1722.5,845.1L1723.1,843.1L1723.8,841.2L1724.5,839.2L1725.2,837.3L1725.9,835.3L1726.5,833.4L1727.2,831.4L1727.9,829.5L1728.6,827.5L1729.3,825.6L1730.0,823.6L1730.8,821.7L1731.5,819.7L1732.2,817.8L1733.0,815.8L1733.7,813.9L1734.5,812.0L1735.2,810.1L1736.0,808.1L1736.8,806.2L1737.7,804.4L1738.5,802.5L1739.3,800.6L1740.2,798.7L1741.1,796.9L1742.0,795.1L1742.9,793.3L1743.9,791.5L1744.8,789.7L1745.8,787.9L1746.8,786.2L1747.9,784.5L1749.0,782.8L1750.1,781.1L1751.2,779.5L1752.3,777.9L1753.5,776.3L1754.7,774.7L1756.0,773.1L1757.3,771.6L1758.6,770.2L1759.9,768.7L1761.3,767.3L1762.7,765.9L1764.2,764.5L1765.7,763.2L1767.2,761.9L1768.8,760.7L1770.4,759.5L1772.0,758.4L1773.7,757.4L1775.3,756.4L1777.0,755.6L1778.7,754.9L1780.3,754.3L1782.0,753.8L1783.6,753.5L1785.3,753.4L1786.9,753.4L1788.4,753.6L1790.0,754.0L1791.5,754.7L1792.9,755.5L1794.4,756.6L1795.7,757.9L1797.0,759.4L1798.2,761.2L1799.4,763.2L1800.6,765.3L1801.7,767.6L1802.7,770.0L1803.7,772.5L1804.7,775.1L1805.6,777.7L1806.4,780.4L1807.3,783.1L1808.1,785.7L1808.9,788.3L1809.6,790.9L1810.3,793.4L1811.0,795.7L1811.7,798.0L1812.4,800.2L1813.0,802.2L1813.6,804.3L1814.2,806.2L1814.8,808.1L1815.4,809.9L1816.0,811.7L1816.5,813.4L1817.1,815.1L1817.6,816.7L1818.2,818.4L1818.8,820.0L1819.3,821.6L1819.9,823.3L1820.5,824.9L1821.1,826.5L1821.7,828.2L1822.3,829.9L1822.9,831.6L1823.5,833.4L1824.2,835.1L1824.8,836.9L1825.5,838.7L1826.2,840.6L1826.9,842.4L1827.6,844.3L1828.3,846.2L1829.0,848.1L1829.7,850.0L1830.4,851.9L1831.1,853.8L1831.8,855.8L1832.5,857.7L1833.2,859.7L1833.9,861.6L1834.6,863.5L1835.3,865.5L1836.0,867.4L1836.7,869.3L1837.4,871.3L1838.1,873.2L1838.7,875.1L1839.4,877.0L1840.1,879.0L1840.7,880.9L1841.4,882.8L1842.0,884.7L1842.7,886.6L1843.3,888.5L1843.9,890.4L1844.6,892.3L1845.2,894.2L1845.8,896.1L1846.4,898.0L1847.0,899.9L1847.6,901.8L1848.2,903.7L1848.8,905.6L1849.4,907.5L1850.0,909.4L1850.6,911.3L1851.2,913.2L1851.7,915.1L1852.3,917.0L1852.9,918.9L1853.4,920.8L1854.0,922.7L1854.5,924.6L1855.1,926.5L1855.6,928.4L1856.2,930.3L1856.7,932.2L1857.3,934.0L1857.8,935.9L1858.3,937.8L1858.8,939.7L1859.3,941.6L1859.9,943.5L1860.4,945.4L1860.9,947.4L1861.4,949.3L1861.9,951.2L1862.4,953.1L1862.9,955.0L1863.4,956.9L1863.8,958.8L1864.3,960.7L1864.8,962.7L1865.3,964.6L1865.7,966.5L1866.2,968.4L1866.7,970.4L1867.1,972.3L1867.6,974.2L1868.1,976.2L1868.5,978.1L1869.0,980.0L1869.4,982.0L1869.8,983.9L1870.3,985.9L1870.7,987.8L1871.2,989.7L1871.6,991.7L1872.0,993.6L1872.4,995.6L1872.9,997.5L1873.3,999.5L1873.7,1001.5L1874.1,1003.4L1874.5,1005.4L1874.9,1007.3L1875.4,1009.3L1875.8,1011.3L1876.2,1013.2L1876.6,1015.2L1877.0,1017.2L1877.4,1019.1L1877.8,1021.1L1878.1,1023.1L1878.5,1025.0L1878.9,1027.0L1879.3,1029.0L1879.7,1030.9L1880.1,1032.9L1880.5,1034.9L1880.8,1036.9L1881.2,1038.9L1881.6,1040.8L1882.0,1042.8L1882.3,1044.8L1882.7,1046.8L1883.1,1048.8L1883.4,1050.7L1883.8,1052.7L1884.2,1054.7L1884.5,1056.7L1884.9,1058.7L1885.2,1060.7L1885.6,1062.7L1885.9,1064.6L1886.3,1066.6L1886.6,1068.6L1887.0,1070.6L1887.3,1072.6L1887.7,1074.6L1888.0,1076.6L1888.4,1078.6L1888.7,1080.6L1889.1,1082.6L1889.4,1084.6L1889.8,1086.5L1890.1,1088.5L1890.5,1090.5L1890.8,1092.5L1891.1,1094.5L1891.5,1096.5L1891.8,1098.5L1892.1,1100.5L1892.5,1102.5L1892.8,1104.5L1893.2,1106.5L1893.5,1108.5L1893.8,1110.5L1894.2,1112.5L1894.5,1114.5L1894.8,1116.5L1895.2,1118.4L1895.5,1120.4L1895.8,1122.4L1896.1,1124.4L1896.5,1126.4L1896.8,1128.4L1897.1,1130.4L1897.5,1132.4L1897.8,1134.4L1898.1,1136.4L1898.5,1138.4L1898.8,1140.4L1899.1,1142.3L1899.5,1144.3L1899.8,1146.3L1900.1,1148.3L1900.5,1150.3L1900.8,1152.3L1901.1,1154.3L1901.5,1156.3L1901.8,1158.2L1902.1,1160.2L1902.5,1162.2L1902.8,1164.2L1903.1,1166.2L1903.5,1168.2L1903.8,1170.1L1904.2,1172.1L1904.5,1174.1L1904.8,1176.1L1905.2,1178.0L1905.5,1180.0L1905.9,1182.0L1906.2,1184.0L1906.6,1185.9L1906.9,1187.9L1907.2,1189.9L1907.6,1191.8L1907.9,1193.8L1908.3,1195.8L1908.6,1197.7L1909.0,1199.7L1909.4,1201.7L1909.7,1203.6L1910.1,1205.6L1910.4,1207.5L1910.8,1209.5L1911.1,1211.5L1911.5,1213.4L1911.9,1215.4L1912.2,1217.3L1912.6,1219.3L1913.0,1221.2L1913.3,1223.2L1913.7,1225.1L1914.1,1227.1L1914.4,1229.0L1914.8,1231.0L1915.2,1232.9L1915.6,1234.9L1915.9,1236.8L1916.3,1238.8L1916.7,1240.7L1917.1,1242.6L1917.5,1244.6L1917.8,1246.5L1918.2,1248.5L1918.6,1250.4L1919.0,1252.3L1919.4,1254.3L1919.8,1256.2L1920.2,1258.2L1920.6,1260.1L1921.0,1262.0L1921.4,1264.0L1921.8,1265.9L1922.2,1267.8L1922.6,1269.8L1923.0,1271.7L1923.4,1273.6L1923.8,1275.6L1924.2,1277.5L1924.6,1279.4L1925.0,1281.3L1925.4,1283.3L1925.8,1285.2L1926.2,1287.1L1926.7,1289.1L1927.1,1291.0L1927.5,1292.9L1927.9,1294.8L1928.3,1296.8L1928.8,1298.7L1929.2,1300.6L1929.6,1302.5L1930.1,1304.5L1930.5,1306.4L1930.9,1308.3L1931.4,1310.2L1931.8,1312.2L1932.2,1314.1L1932.7,1316.0L1933.1,1317.9L1933.6,1319.8L1934.0,1321.8L1934.5,1323.7L1934.9,1325.6L1935.4,1327.5L1935.8,1329.5L1936.3,1331.4L1936.7,1333.3L1937.2,1335.2L1937.6,1337.1L1938.1,1339.1L1938.6,1341.0L1939.0,1342.9L1939.5,1344.8L1940.0,1346.7L1940.4,1348.7L1940.9,1350.6L1941.4,1352.5L1941.9,1354.4L1942.3,1356.4L1942.8,1358.3L1943.3,1360.2L1943.8,1362.1L1944.3,1364.0L1944.8,1366.0L1945.3,1367.9L1945.7,1369.8L1946.2,1371.7L1946.7,1373.7L1947.2,1375.6L1947.7,1377.5L1948.2,1379.4L1948.7,1381.4L1949.3,1383.3L1949.8,1385.2L1950.3,1387.1L1950.8,1389.1L1951.3,1391.0L1951.8,1392.9L1952.3,1394.8L1952.9,1396.8L1953.4,1398.7L1953.9,1400.6L1954.4,1402.5L1955.0,1404.5L1955.5,1406.4L1956.0,1408.3L1956.6,1410.3L1957.1,1412.2L1957.6,1414.1L1958.2,1416.1L1958.7,1418.0L1959.3,1419.9L1959.8,1421.9L1960.4,1423.8L1960.9,1425.7L1961.5,1427.7L1962.1,1429.6L1962.6,1431.5L1963.2,1433.5L1963.7,1435.4L1964.3,1437.4L1964.9,1439.3L1965.5,1441.2L1966.0,1443.2L1966.6,1445.1L1967.2,1447.1L1967.8,1449.0L1968.4,1451.0L1968.9,1452.9L1969.5,1454.9L1970.1,1456.8L1970.7,1458.7L1971.3,1460.7L1971.9,1462.6L1972.5,1464.6L1973.1,1466.6L1973.7,1468.5L1974.3,1470.5L1975.0,1472.4L1975.6,1474.4L1976.2,1476.3L1976.8,1478.3L1977.4,1480.2L1978.1,1482.2L1978.7,1484.1L1979.3,1486.1L1980.0,1488.1L1980.6,1490.0L1981.3,1492.0L1981.9,1493.9L1982.6,1495.9L1983.2,1497.8L1983.9,1499.8L1984.6,1501.7L1985.2,1503.6L1985.9,1505.6L1986.6,1507.5L1987.3,1509.5L1988.0,1511.4L1988.7,1513.3L1989.4,1515.2L1990.1,1517.2L1990.8,1519.1L1991.5,1521.0L1992.3,1522.9L1993.0,1524.8L1993.7,1526.7L1994.5,1528.6L1995.2,1530.5L1996.0,1532.4L1996.8,1534.3L1997.5,1536.2L1998.3,1538.1L1999.1,1540.0L1999.9,1541.8L2000.7,1543.7L2001.5,1545.6L2002.3,1547.4L2003.2,1549.3L2004.0,1551.1L2004.8,1552.9L2005.7,1554.8L2006.5,1556.6L2007.4,1558.4L2008.3,1560.2L2009.2,1562.0L2010.1,1563.8L2011.0,1565.6L2011.9,1567.4L2012.8,1569.2L2013.7,1570.9L2014.7,1572.7L2015.6,1574.4L2016.6,1576.2L2017.5,1577.9L2018.5,1579.6L2019.5,1581.4L2020.5,1583.1L2021.5,1584.8L2022.5,1586.5L2023.6,1588.2L2024.6,1589.8L2025.7,1591.5L2026.7,1593.1L2027.8,1594.8L2028.9,1596.4L2030.0,1598.1L2031.1,1599.7L2032.2,1601.3L2033.3,1602.9L2034.5,1604.4L2035.6,1606.0L2036.8,1607.6L2038.0,1609.1L2039.1,1610.7L2040.3,1612.2L2041.6,1613.7L2042.8,1615.2L2044.0,1616.7L2045.3,1618.2L2046.5,1619.7L2047.8,1621.1L2049.1,1622.5L2050.4,1624.0L2051.7,1625.4L2053.1,1626.8L2054.4,1628.2L2055.8,1629.6L2057.2,1630.9L2058.5,1632.3L2059.9,1633.6L2061.4,1634.9L2062.8,1636.2L2064.2,1637.5L2065.7,1638.8L2067.2,1640.1L2068.7,1641.3L2070.2,1642.6L2071.7,1643.8L2073.2,1645.0L2074.8,1646.2L2076.3,1647.4L2077.9,1648.5L2079.5,1649.7L2081.1,1650.8L2082.7,1651.9L2084.3,1653.0L2085.9,1654.1L2087.6,1655.2L2089.2,1656.3L2090.9,1657.3L2092.5,1658.3L2094.2,1659.4L2095.9,1660.4L2097.6,1661.3L2099.4,1662.3L2101.1,1663.3L2102.8,1664.2L2104.6,1665.1L2106.3,1666.1L2108.1,1667.0L2109.9,1667.8L2111.7,1668.7L2113.5,1669.6L2115.3,1670.4L2117.1,1671.2L2118.9,1672.0L2120.7,1672.8L2122.6,1673.6L2124.4,1674.3L2126.3,1675.1L2128.1,1675.8L2130.0,1676.5L2131.9,1677.2L2133.8,1677.9L2135.7,1678.6L2137.6,1679.2L2139.5,1679.9L2141.4,1680.5L2143.3,1681.1L2145.2,1681.7L2147.1,1682.2L2149.1,1682.8L2151.0,1683.3L2153.0,1683.9L2154.9,1684.4L2156.9,1684.9L2158.8,1685.3L2160.8,1685.8L2162.7,1686.2L2164.7,1686.7L2166.7,1687.1L2168.7,1687.5L2170.6,1687.9L2172.6,1688.2L2174.6,1688.6L2176.6,1688.9L2178.6,1689.2L2180.6,1689.5L2182.6,1689.8L2184.6,1690.1L2186.6,1690.3L2188.6,1690.6L2190.6,1690.8L2192.6,1691.0L2194.6,1691.2L2196.6,1691.3L2198.7,1691.5L2200.7,1691.6L2202.7,1691.7L2204.7,1691.9L2206.7,1691.9L2208.7,1692.0L2210.7,1692.1L2212.7,1692.1L2214.8,1692.1L2216.8,1692.1L2218.8,1692.1L2220.8,1692.1L2222.8,1692.0L2224.8,1692.0L2226.8,1691.9L2228.8,1691.8L2230.8,1691.7L2232.8,1691.5L2234.8,1691.4L2236.8,1691.2L2238.8,1691.0L2240.8,1690.8L2242.8,1690.6L2244.8,1690.4L2246.8,1690.2L2248.8,1689.9L2250.8,1689.7L2252.8,1689.4L2254.7,1689.1L2256.7,1688.8L2258.7,1688.5L2260.7,1688.2L2262.7,1687.9L2264.6,1687.5L2266.6,1687.2L2268.6,1686.8L2270.6,1686.4L2272.5,1686.0L2274.5,1685.6L2276.5,1685.2L2278.4,1684.8L2280.4,1684.4L2282.4,1683.9L2284.3,1683.5L2286.3,1683.0L2288.2,1682.6L2290.2,1682.1L2292.1,1681.6L2294.1,1681.2L2296.0,1680.7L2298.0,1680.2L2299.9,1679.7L2301.9,1679.2L2303.8,1678.7L2305.8,1678.2L2307.7,1677.6L2309.6,1677.1L2311.6,1676.6L2313.5,1676.0L2315.4,1675.5L2317.4,1675.0L2319.3,1674.4L2321.2,1673.9L2323.2,1673.3L2325.1,1672.7L2327.0,1672.2L2328.9,1671.6L2330.8,1671.1L2332.7,1670.5L2334.7,1669.9L2336.6,1669.4L2338.5,1668.8L2340.4,1668.3L2342.3,1667.7L2344.2,1667.1L2346.1,1666.6L2348.0,1666.0L2349.9,1665.4L2351.8,1664.9L2353.7,1664.3L2355.6,1663.8L2357.5,1663.2L2359.3,1662.7L2361.2,1662.1L2363.1,1661.6L2365.0,1661.0" fill="none" stroke="#434A8C" stroke-width="10" stroke-linejoin="round" stroke-linecap="butt"/>
<path d="M185.0,1599.0L187.0,1599.0L189.0,1599.0L191.0,1599.1L193.0,1599.1L195.0,1599.1L197.0,1599.1L198.9,1599.2L200.9,1599.2L202.9,1599.2L204.9,1599.3L206.9,1599.3L208.9,1599.3L210.9,1599.4L212.9,1599.4L214.9,1599.4L216.9,1599.5L218.9,1599.5L220.9,1599.6L222.9,1599.6L224.9,1599.7L226.9,1599.7L228.9,1599.8L230.9,1599.8L232.9,1599.9L234.9,1599.9L236.9,1600.0L238.9,1600.0L240.9,1600.1L242.9,1600.2L244.9,1600.2L246.8,1600.3L248.8,1600.3L250.8,1600.4L252.8,1600.5L254.8,1600.5L256.8,1600.6L258.8,1600.7L260.8,1600.7L262.8,1600.8L264.8,1600.9L266.8,1600.9L268.8,1601.0L270.8,1601.1L272.8,1601.2L274.8,1601.2L276.8,1601.3L278.8,1601.4L280.8,1601.5L282.9,1601.5L284.9,1601.6L286.9,1601.7L288.9,1601.8L290.9,1601.9L292.9,1601.9L294.9,1602.0L296.9,1602.1L298.9,1602.2L300.9,1602.3L302.9,1602.4L304.9,1602.5L306.9,1602.5L308.9,1602.6L310.9,1602.7L312.9,1602.8L314.9,1602.9L316.9,1603.0L318.9,1603.1L320.9,1603.2L322.9,1603.2L324.9,1603.3L326.9,1603.4L328.9,1603.5L330.9,1603.6L332.9,1603.7L334.9,1603.8L336.9,1603.9L338.9,1604.0L340.9,1604.1L342.9,1604.2L344.9,1604.3L346.9,1604.4L348.9,1604.4L350.9,1604.5L352.9,1604.6L354.9,1604.7L356.9,1604.8L358.9,1604.9L360.9,1605.0L362.9,1605.1L364.9,1605.2L366.9,1605.3L368.9,1605.4L370.9,1605.5L372.9,1605.6L374.9,1605.7L376.9,1605.8L378.9,1605.9L380.9,1606.0L382.9,1606.1L384.9,1606.1L386.9,1606.2L388.9,1606.3L390.9,1606.4L392.9,1606.5L394.9,1606.6L396.9,1606.7L398.9,1606.8L400.9,1606.9L402.9,1607.0L404.9,1607.1L406.9,1607.2L408.9,1607.2L410.9,1607.3L412.9,1607.4L414.9,1607.5L416.9,1607.6L418.9,1607.7L420.9,1607.8L422.9,1607.9L424.9,1608.0L426.9,1608.0L428.9,1608.1L430.9,1608.2L432.9,1608.3L434.9,1608.4L436.9,1608.5L438.9,1608.5L440.9,1608.6L442.8,1608.7L444.8,1608.8L446.8,1608.9L448.8,1608.9L450.8,1609.0L452.8,1609.1L454.8,1609.2L456.8,1609.2L458.8,1609.3L460.8,1609.4L462.8,1609.5L464.8,1609.5L466.8,1609.6L468.7,1609.7L470.7,1609.7L472.7,1609.8L474.7,1609.9L476.7,1609.9L478.7,1610.0L480.7,1610.1L482.7,1610.1L484.6,1610.2L486.6,1610.2L488.6,1610.3L490.6,1610.4L492.6,1610.4L494.6,1610.5L496.6,1610.6L498.5,1610.6L500.5,1610.7L502.5,1610.7L504.5,1610.8L506.5,1610.9L508.5,1611.0L510.5,1611.0L512.4,1611.1L514.4,1611.2L516.4,1611.3L518.4,1611.4L520.4,1611.4L522.4,1611.5L524.4,1611.6L526.4,1611.7L528.3,1611.8L530.3,1612.0L532.3,1612.1L534.3,1612.2L536.3,1612.3L538.3,1612.5L540.3,1612.6L542.3,1612.7L544.3,1612.9L546.3,1613.1L548.3,1613.2L550.3,1613.4L552.3,1613.6L554.3,1613.8L556.3,1614.0L558.3,1614.2L560.3,1614.4L562.3,1614.6L564.3,1614.9L566.3,1615.1L568.3,1615.3L570.3,1615.6L572.3,1615.9L574.3,1616.2L576.3,1616.5L578.3,1616.8L580.3,1617.1L582.4,1617.4L584.4,1617.7L586.4,1618.1L588.4,1618.5L590.4,1618.8L592.4,1619.2L594.4,1619.7L596.4,1620.1L598.4,1620.5L600.4,1621.0L602.4,1621.5L604.4,1622.0L606.3,1622.5L608.3,1623.0L610.2,1623.6L612.2,1624.1L614.1,1624.7L616.0,1625.4L617.9,1626.0L619.8,1626.7L621.6,1627.4L623.5,1628.1L625.3,1628.8L627.1,1629.6L628.9,1630.4L630.7,1631.2L632.5,1632.1L634.2,1633.0L635.9,1633.9L637.6,1634.9L639.3,1635.8L640.9,1636.8L642.5,1637.9L644.1,1639.0L645.7,1640.1L647.2,1641.2L648.7,1642.4L650.2,1643.6L651.7,1644.9L653.1,1646.2L654.5,1647.5L655.8,1648.8L657.2,1650.2L658.5,1651.6L659.8,1653.1L661.0,1654.6L662.3,1656.1L663.6,1657.6L664.8,1659.1L666.0,1660.7L667.3,1662.3L668.5,1663.8L669.7,1665.5L670.9,1667.1L672.1,1668.7L673.3,1670.3L674.6,1672.0L675.8,1673.6L677.1,1675.3L678.3,1676.9L679.6,1678.6L680.9,1680.2L682.2,1681.9L683.5,1683.5L684.9,1685.2L686.3,1686.8L687.7,1688.4L689.1,1690.0L690.6,1691.6L692.1,1693.2L693.6,1694.7L695.2,1696.3L696.8,1697.8L698.4,1699.2L700.1,1700.7L701.8,1702.0L703.5,1703.4L705.2,1704.7L706.9,1705.9L708.6,1707.1L710.4,1708.2L712.1,1709.3L713.9,1710.2L715.7,1711.1L717.4,1711.9L719.2,1712.7L720.9,1713.3L722.7,1713.9L724.4,1714.3L726.2,1714.6L727.9,1714.9L729.6,1715.0L731.3,1715.0L733.0,1714.9L734.6,1714.6L736.2,1714.3L737.9,1713.8L739.4,1713.3L741.0,1712.6L742.5,1711.8L744.1,1711.0L745.6,1710.0L747.0,1709.0L748.5,1707.9L749.9,1706.7L751.3,1705.4L752.7,1704.1L754.0,1702.7L755.3,1701.3L756.6,1699.8L757.9,1698.2L759.2,1696.6L760.4,1695.0L761.6,1693.3L762.7,1691.6L763.8,1689.8L764.9,1688.1L766.0,1686.3L767.1,1684.5L768.1,1682.6L769.1,1680.8L770.0,1679.0L770.9,1677.1L771.8,1675.2L772.7,1673.4L773.5,1671.5L774.3,1669.6L775.1,1667.8L775.9,1665.9L776.6,1664.0L777.3,1662.1L778.0,1660.2L778.6,1658.3L779.3,1656.4L779.9,1654.5L780.5,1652.5L781.0,1650.6L781.6,1648.7L782.1,1646.7L782.6,1644.8L783.1,1642.9L783.6,1640.9L784.0,1639.0L784.5,1637.0L784.9,1635.0L785.3,1633.1L785.7,1631.1L786.0,1629.2L786.4,1627.2L786.7,1625.2L787.1,1623.2L787.4,1621.2L787.7,1619.3L788.0,1617.3L788.3,1615.3L788.6,1613.3L788.8,1611.3L789.1,1609.3L789.3,1607.3L789.6,1605.3L789.8,1603.3L790.0,1601.3L790.2,1599.3L790.5,1597.3L790.7,1595.3L790.9,1593.3L791.1,1591.3L791.3,1589.3L791.5,1587.3L791.7,1585.3L791.9,1583.3L792.1,1581.3L792.2,1579.3L792.4,1577.3L792.6,1575.3L792.8,1573.3L793.0,1571.3L793.2,1569.3L793.4,1567.3L793.6,1565.3L793.8,1563.3L794.0,1561.3L794.2,1559.3L794.3,1557.3L794.5,1555.3L794.7,1553.3L794.9,1551.3L795.1,1549.3L795.3,1547.3L795.5,1545.3L795.6,1543.3L795.8,1541.3L796.0,1539.3L796.2,1537.3L796.4,1535.3L796.6,1533.3L796.7,1531.3L796.9,1529.3L797.1,1527.4L797.3,1525.4L797.5,1523.4L797.6,1521.4L797.8,1519.4L798.0,1517.4L798.2,1515.4L798.4,1513.4L798.5,1511.4L798.7,1509.4L798.9,1507.4L799.1,1505.4L799.2,1503.4L799.4,1501.4L799.6,1499.4L799.8,1497.4L799.9,1495.4L800.1,1493.4L800.3,1491.4L800.4,1489.4L800.6,1487.4L800.8,1485.4L801.0,1483.4L801.1,1481.5L801.3,1479.5L801.5,1477.5L801.6,1475.5L801.8,1473.5L802.0,1471.5L802.2,1469.5L802.3,1467.5L802.5,1465.5L802.7,1463.5L802.8,1461.5L803.0,1459.5L803.2,1457.5L803.3,1455.5L803.5,1453.5L803.7,1451.5L803.8,1449.6L804.0,1447.6L804.2,1445.6L804.3,1443.6L804.5,1441.6L804.6,1439.6L804.8,1437.6L805.0,1435.6L805.1,1433.6L805.3,1431.6L805.5,1429.6L805.6,1427.6L805.8,1425.6L805.9,1423.7L806.1,1421.7L806.3,1419.7L806.4,1417.7L806.6,1415.7L806.8,1413.7L806.9,1411.7L807.1,1409.7L807.2,1407.7L807.4,1405.7L807.6,1403.7L807.7,1401.8L807.9,1399.8L808.0,1397.8L808.2,1395.8L808.3,1393.8L808.5,1391.8L808.7,1389.8L808.8,1387.8L809.0,1385.8L809.1,1383.8L809.3,1381.8L809.4,1379.9L809.6,1377.9L809.8,1375.9L809.9,1373.9L810.1,1371.9L810.2,1369.9L810.4,1367.9L810.5,1365.9L810.7,1363.9L810.8,1361.9L811.0,1360.0L811.2,1358.0L811.3,1356.0L811.5,1354.0L811.6,1352.0L811.8,1350.0L811.9,1348.0L812.1,1346.0L812.2,1344.0L812.4,1342.1L812.5,1340.1L812.7,1338.1L812.9,1336.1L813.0,1334.1L813.2,1332.1L813.3,1330.1L813.5,1328.1L813.6,1326.1L813.8,1324.1L813.9,1322.2L814.1,1320.2L814.2,1318.2L814.4,1316.2L814.5,1314.2L814.7,1312.2L814.8,1310.2L815.0,1308.2L815.1,1306.2L815.3,1304.3L815.4,1302.3L815.6,1300.3L815.8,1298.3L815.9,1296.3L816.1,1294.3L816.2,1292.3L816.4,1290.3L816.5,1288.3L816.7,1286.3L816.8,1284.4L817.0,1282.4L817.1,1280.4L817.3,1278.4L817.4,1276.4L817.6,1274.4L817.7,1272.4L817.9,1270.4L818.0,1268.4L818.2,1266.5L818.3,1264.5L818.5,1262.5L818.6,1260.5L818.8,1258.5L818.9,1256.5L819.1,1254.5L819.2,1252.5L819.4,1250.5L819.5,1248.5L819.7,1246.6L819.9,1244.6L820.0,1242.6L820.2,1240.6L820.3,1238.6L820.5,1236.6L820.6,1234.6L820.8,1232.6L820.9,1230.6L821.1,1228.6L821.2,1226.7L821.4,1224.7L821.5,1222.7L821.7,1220.7L821.8,1218.7L822.0,1216.7L822.1,1214.7L822.3,1212.7L822.4,1210.7L822.6,1208.7L822.8,1206.7L822.9,1204.8L823.1,1202.8L823.2,1200.8L823.4,1198.8L823.5,1196.8L823.7,1194.8L823.8,1192.8L824.0,1190.8L824.1,1188.8L824.3,1186.8L824.5,1184.8L824.6,1182.9L824.8,1180.9L824.9,1178.9L825.1,1176.9L825.2,1174.9L825.4,1172.9L825.5,1170.9L825.7,1168.9L825.9,1166.9L826.0,1164.9L826.2,1162.9L826.3,1160.9L826.5,1158.9L826.6,1157.0L826.8,1155.0L827.0,1153.0L827.1,1151.0L827.3,1149.0L827.4,1147.0L827.6,1145.0L827.8,1143.0L827.9,1141.0L828.1,1139.0L828.2,1137.0L828.4,1135.0L828.6,1133.0L828.7,1131.0L828.9,1129.0L829.0,1127.1L829.2,1125.1L829.4,1123.1L829.5,1121.1L829.7,1119.1L829.9,1117.1L830.0,1115.1L830.2,1113.1L830.3,1111.1L830.5,1109.1L830.7,1107.1L830.8,1105.1L831.0,1103.1L831.2,1101.1L831.3,1099.1L831.5,1097.2L831.7,1095.2L831.8,1093.2L832.0,1091.2L832.2,1089.2L832.3,1087.2L832.5,1085.2L832.7,1083.2L832.8,1081.2L833.0,1079.2L833.2,1077.2L833.3,1075.2L833.5,1073.2L833.7,1071.2L833.8,1069.2L834.0,1067.2L834.2,1065.2L834.4,1063.3L834.5,1061.3L834.7,1059.3L834.9,1057.3L835.0,1055.3L835.2,1053.3L835.4,1051.3L835.6,1049.3L835.7,1047.3L835.9,1045.3L836.1,1043.3L836.3,1041.3L836.4,1039.3L836.6,1037.3L836.8,1035.3L837.0,1033.3L837.2,1031.3L837.3,1029.4L837.5,1027.4L837.7,1025.4L837.9,1023.4L838.0,1021.4L838.2,1019.4L838.4,1017.4L838.6,1015.4L838.8,1013.4L838.9,1011.4L839.1,1009.4L839.3,1007.4L839.5,1005.4L839.7,1003.4L839.9,1001.4L840.0,999.4L840.2,997.5L840.4,995.5L840.6,993.5L840.8,991.5L841.0,989.5L841.2,987.5L841.4,985.5L841.5,983.5L841.7,981.5L841.9,979.5L842.1,977.5L842.3,975.5L842.5,973.5L842.7,971.5L842.9,969.6L843.1,967.6L843.3,965.6L843.5,963.6L843.6,961.6L843.8,959.6L844.0,957.6L844.2,955.6L844.4,953.6L844.6,951.6L844.8,949.6L845.0,947.6L845.2,945.6L845.4,943.7L845.6,941.7L845.8,939.7L846.0,937.7L846.2,935.7L846.4,933.7L846.6,931.7L846.8,929.7L847.0,927.7L847.2,925.7L847.4,923.7L847.6,921.7L847.8,919.8L848.1,917.8L848.3,915.8L848.5,913.8L848.7,911.8L848.9,909.8L849.1,907.8L849.3,905.8L849.5,903.8L849.7,901.8L849.9,899.8L850.1,897.9L850.4,895.9L850.6,893.9L850.8,891.9L851.0,889.9L851.2,887.9L851.4,885.9L851.6,883.9L851.8,881.9L852.1,879.9L852.3,878.0L852.5,876.0L852.7,874.0L852.9,872.0L853.1,870.0L853.3,868.0L853.6,866.0L853.8,864.0L854.0,862.1L854.2,860.1L854.4,858.1L854.6,856.1L854.8,854.1L855.1,852.1L855.3,850.1L855.5,848.1L855.7,846.2L855.9,844.2L856.1,842.2L856.4,840.2L856.6,838.2L856.8,836.2L857.0,834.2L857.2,832.2L857.4,830.3L857.7,828.3L857.9,826.3L858.1,824.3L858.3,822.3L858.5,820.3L858.8,818.4L859.0,816.4L859.2,814.4L859.4,812.4L859.6,810.4L859.8,808.4L860.1,806.4L860.3,804.5L860.5,802.5L860.7,800.5L860.9,798.5L861.1,796.5L861.3,794.5L861.6,792.6L861.8,790.6L862.0,788.6L862.2,786.6L862.4,784.6L862.6,782.7L862.9,780.7L863.1,778.7L863.3,776.7L863.5,774.7L863.7,772.8L863.9,770.8L864.1,768.8L864.3,766.8L864.6,764.8L864.8,762.9L865.0,760.9L865.2,758.9L865.4,756.9L865.6,754.9L865.8,753.0L866.0,751.0L866.2,749.0L866.5,747.0L866.7,745.0L866.9,743.1L867.1,741.1L867.3,739.1L867.5,737.1L867.7,735.1L867.9,733.2L868.1,731.2L868.3,729.2L868.5,727.2L868.8,725.2L869.0,723.3L869.2,721.3L869.4,719.3L869.6,717.3L869.8,715.3L870.0,713.4L870.2,711.4L870.4,709.4L870.6,707.4L870.8,705.4L871.1,703.4L871.3,701.5L871.5,699.5L871.7,697.5L871.9,695.5L872.1,693.5L872.3,691.5L872.5,689.5L872.7,687.5L872.9,685.6L873.2,683.6L873.4,681.6L873.6,679.6L873.8,677.6L874.0,675.6L874.2,673.6L874.4,671.6L874.6,669.6L874.9,667.6L875.1,665.6L875.3,663.6L875.5,661.6L875.7,659.6L875.9,657.6L876.1,655.6L876.4,653.6L876.6,651.6L876.8,649.6L877.0,647.6L877.2,645.6L877.4,643.6L877.7,641.6L877.9,639.6L878.1,637.6L878.3,635.6L878.6,633.6L878.8,631.6L879.0,629.5L879.2,627.5L879.4,625.5L879.7,623.5L879.9,621.5L880.1,619.5L880.4,617.5L880.6,615.4L880.8,613.4L881.0,611.4L881.3,609.4L881.5,607.4L881.7,605.4L882.0,603.3L882.2,601.3L882.5,599.3L882.7,597.3L882.9,595.3L883.2,593.3L883.4,591.3L883.7,589.3L883.9,587.3L884.2,585.3L884.4,583.3L884.7,581.3L884.9,579.3L885.2,577.3L885.4,575.3L885.7,573.3L886.0,571.3L886.2,569.3L886.5,567.4L886.8,565.4L887.0,563.4L887.3,561.4L887.6,559.5L887.9,557.5L888.1,555.6L888.4,553.6L888.7,551.7L889.0,549.7L889.3,547.8L889.6,545.8L889.9,543.9L890.2,542.0L890.5,540.0L890.8,538.1L891.1,536.2L891.4,534.3L891.7,532.4L892.0,530.5L892.3,528.6L892.7,526.7L893.0,524.8L893.3,522.9L893.6,521.1L894.0,519.2L894.3,517.3L894.7,515.5L895.0,513.6L895.3,511.8L895.7,509.9L896.0,508.0L896.4,506.2L896.7,504.3L897.1,502.4L897.4,500.6L897.8,498.7L898.1,496.8L898.5,494.9L898.8,493.0L899.2,491.1L899.5,489.2L899.9,487.3L900.3,485.3L900.6,483.4L901.0,481.4L901.3,479.4L901.7,477.5L902.0,475.5L902.4,473.4L902.7,471.4L903.0,469.3L903.4,467.3L903.7,465.2L904.1,463.1L904.4,461.0L904.8,458.8L905.1,456.7L905.5,454.5L905.8,452.4L906.2,450.2L906.5,448.0L906.9,445.7L907.3,443.5L907.6,441.3L908.0,439.0L908.4,436.7L908.8,434.5L909.2,432.2L909.6,429.9L910.1,427.6L910.5,425.2L911.0,422.9L911.4,420.5L911.9,418.2L912.4,415.8L912.9,413.4L913.4,411.1L913.9,408.7L914.4,406.3L915.0,403.9L915.6,401.5L916.1,399.2L916.7,396.8L917.4,394.6L918.0,392.4L918.6,390.2L919.2,388.2L919.9,386.2L920.6,384.3L921.2,382.6L921.9,380.9L922.6,379.4L923.3,378.0L924.0,376.8L924.8,375.8L925.5,374.9L926.2,374.2L927.0,373.7L927.7,373.5L928.5,373.4L929.2,373.5L930.0,373.9L930.8,374.5L931.6,375.3L932.3,376.2L933.1,377.3L933.9,378.6L934.6,380.0L935.4,381.6L936.2,383.3L936.9,385.1L937.7,387.0L938.4,389.0L939.1,391.1L939.8,393.3L940.5,395.5L941.2,397.8L941.9,400.1L942.5,402.4L943.2,404.8L943.8,407.1L944.4,409.5L945.0,411.8L945.5,414.1L946.0,416.4L946.5,418.7L947.0,421.0L947.5,423.2L948.0,425.4L948.4,427.6L948.8,429.8L949.2,432.0L949.6,434.2L950.0,436.3L950.3,438.4L950.7,440.6L951.0,442.7L951.4,444.8L951.7,446.9L952.0,448.9L952.3,451.0L952.6,453.1L952.9,455.1L953.2,457.2L953.5,459.2L953.7,461.3L954.0,463.3L954.3,465.3L954.6,467.4L954.8,469.4L955.1,471.4L955.4,473.4L955.6,475.4L955.9,477.5L956.2,479.5L956.5,481.5L956.7,483.5L957.0,485.5L957.3,487.5L957.6,489.5L957.8,491.5L958.1,493.5L958.4,495.6L958.7,497.6L959.0,499.6L959.2,501.6L959.5,503.6L959.8,505.6L960.1,507.6L960.4,509.5L960.6,511.5L960.9,513.5L961.2,515.5L961.5,517.5L961.8,519.5L962.1,521.5L962.3,523.5L962.6,525.5L962.9,527.5L963.2,529.5L963.5,531.4L963.8,533.4L964.0,535.4L964.3,537.4L964.6,539.4L964.9,541.3L965.2,543.3L965.5,545.3L965.7,547.3L966.0,549.3L966.3,551.2L966.6,553.2L966.9,555.2L967.2,557.2L967.4,559.1L967.7,561.1L968.0,563.1L968.3,565.1L968.6,567.0L968.9,569.0L969.1,571.0L969.4,572.9L969.7,574.9L970.0,576.9L970.3,578.8L970.5,580.8L970.8,582.8L971.1,584.8L971.4,586.7L971.7,588.7L971.9,590.7L972.2,592.6L972.5,594.6L972.8,596.6L973.0,598.5L973.3,600.5L973.6,602.5L973.9,604.4L974.1,606.4L974.4,608.4L974.7,610.3L975.0,612.3L975.2,614.3L975.5,616.2L975.8,618.2L976.0,620.1L976.3,622.1L976.6,624.1L976.8,626.0L977.1,628.0L977.3,630.0L977.6,631.9L977.9,633.9L978.1,635.9L978.4,637.8L978.6,639.8L978.9,641.8L979.2,643.8L979.4,645.7L979.7,647.7L979.9,649.7L980.2,651.6L980.4,653.6L980.7,655.6L980.9,657.5L981.2,659.5L981.4,661.5L981.7,663.5L981.9,665.4L982.2,667.4L982.4,669.4L982.6,671.3L982.9,673.3L983.1,675.3L983.4,677.3L983.6,679.2L983.8,681.2L984.1,683.2L984.3,685.2L984.5,687.2L984.8,689.1L985.0,691.1L985.2,693.1L985.5,695.1L985.7,697.0L985.9,699.0L986.1,701.0L986.4,703.0L986.6,705.0L986.8,706.9L987.0,708.9L987.3,710.9L987.5,712.9L987.7,714.9L987.9,716.8L988.1,718.8L988.4,720.8L988.6,722.8L988.8,724.8L989.0,726.7L989.2,728.7L989.4,730.7L989.7,732.7L989.9,734.7L990.1,736.7L990.3,738.7L990.5,740.6L990.7,742.6L990.9,744.6L991.1,746.6L991.3,748.6L991.5,750.6L991.7,752.5L992.0,754.5L992.2,756.5L992.4,758.5L992.6,760.5L992.8,762.5L993.0,764.5L993.2,766.5L993.4,768.4L993.6,770.4L993.8,772.4L994.0,774.4L994.2,776.4L994.4,778.4L994.6,780.4L994.8,782.4L995.0,784.4L995.2,786.3L995.4,788.3L995.6,790.3L995.8,792.3L996.0,794.3L996.1,796.3L996.3,798.3L996.5,800.3L996.7,802.3L996.9,804.3L997.1,806.3L997.3,808.2L997.5,810.2L997.7,812.2L997.9,814.2L998.1,816.2L998.3,818.2L998.4,820.2L998.6,822.2L998.8,824.2L999.0,826.2L999.2,828.2L999.4,830.2L999.6,832.2L999.8,834.1L999.9,836.1L1000.1,838.1L1000.3,840.1L1000.5,842.1L1000.7,844.1L1000.9,846.1L1001.1,848.1L1001.2,850.1L1001.4,852.1L1001.6,854.1L1001.8,856.1L1002.0,858.1L1002.2,860.1L1002.3,862.1L1002.5,864.1L1002.7,866.0L1002.9,868.0L1003.1,870.0L1003.3,872.0L1003.4,874.0L1003.6,876.0L1003.8,878.0L1004.0,880.0L1004.2,882.0L1004.4,884.0L1004.5,886.0L1004.7,888.0L1004.9,890.0L1005.1,892.0L1005.3,894.0L1005.4,896.0L1005.6,898.0L1005.8,900.0L1006.0,902.0L1006.2,904.0L1006.3,906.0L1006.5,907.9L1006.7,909.9L1006.9,911.9L1007.1,913.9L1007.3,915.9L1007.4,917.9L1007.6,919.9L1007.8,921.9L1008.0,923.9L1008.2,925.9L1008.3,927.9L1008.5,929.9L1008.7,931.9L1008.9,933.9L1009.1,935.9L1009.3,937.9L1009.4,939.9L1009.6,941.9L1009.8,943.9L1010.0,945.9L1010.2,947.9L1010.4,949.8L1010.5,951.8L1010.7,953.8L1010.9,955.8L1011.1,957.8L1011.3,959.8L1011.5,961.8L1011.6,963.8L1011.8,965.8L1012.0,967.8L1012.2,969.8L1012.4,971.8L1012.6,973.8L1012.8,975.8L1012.9,977.8L1013.1,979.8L1013.3,981.8L1013.5,983.8L1013.7,985.7L1013.9,987.7L1014.1,989.7L1014.3,991.7L1014.4,993.7L1014.6,995.7L1014.8,997.7L1015.0,999.7L1015.2,1001.7L1015.4,1003.7L1015.6,1005.7L1015.8,1007.7L1016.0,1009.7L1016.2,1011.6L1016.4,1013.6L1016.6,1015.6L1016.7,1017.6L1016.9,1019.6L1017.1,1021.6L1017.3,1023.6L1017.5,1025.6L1017.7,1027.6L1017.9,1029.6L1018.1,1031.6L1018.3,1033.6L1018.5,1035.5L1018.7,1037.5L1018.9,1039.5L1019.1,1041.5L1019.3,1043.5L1019.5,1045.5L1019.7,1047.5L1019.9,1049.5L1020.1,1051.5L1020.3,1053.5L1020.5,1055.4L1020.7,1057.4L1020.9,1059.4L1021.1,1061.4L1021.3,1063.4L1021.5,1065.4L1021.7,1067.4L1021.9,1069.4L1022.1,1071.4L1022.3,1073.4L1022.5,1075.3L1022.7,1077.3L1022.9,1079.3L1023.1,1081.3L1023.3,1083.3L1023.5,1085.3L1023.7,1087.3L1023.9,1089.3L1024.1,1091.3L1024.3,1093.2L1024.5,1095.2L1024.7,1097.2L1024.9,1099.2L1025.1,1101.2L1025.3,1103.2L1025.5,1105.2L1025.7,1107.2L1025.9,1109.2L1026.1,1111.1L1026.3,1113.1L1026.5,1115.1L1026.7,1117.1L1026.9,1119.1L1027.1,1121.1L1027.3,1123.1L1027.5,1125.1L1027.7,1127.0L1027.9,1129.0L1028.1,1131.0L1028.3,1133.0L1028.5,1135.0L1028.7,1137.0L1029.0,1139.0L1029.2,1141.0L1029.4,1142.9L1029.6,1144.9L1029.8,1146.9L1030.0,1148.9L1030.2,1150.9L1030.4,1152.9L1030.6,1154.9L1030.8,1156.8L1031.0,1158.8L1031.2,1160.8L1031.4,1162.8L1031.6,1164.8L1031.8,1166.8L1032.1,1168.8L1032.3,1170.8L1032.5,1172.7L1032.7,1174.7L1032.9,1176.7L1033.1,1178.7L1033.3,1180.7L1033.5,1182.7L1033.7,1184.7L1033.9,1186.6L1034.1,1188.6L1034.3,1190.6L1034.5,1192.6L1034.8,1194.6L1035.0,1196.6L1035.2,1198.6L1035.4,1200.5L1035.6,1202.5L1035.8,1204.5L1036.0,1206.5L1036.2,1208.5L1036.4,1210.5L1036.6,1212.5L1036.8,1214.5L1037.1,1216.4L1037.3,1218.4L1037.5,1220.4L1037.7,1222.4L1037.9,1224.4L1038.1,1226.4L1038.3,1228.4L1038.5,1230.3L1038.7,1232.3L1038.9,1234.3L1039.1,1236.3L1039.4,1238.3L1039.6,1240.3L1039.8,1242.3L1040.0,1244.2L1040.2,1246.2L1040.4,1248.2L1040.6,1250.2L1040.8,1252.2L1041.0,1254.2L1041.2,1256.2L1041.5,1258.1L1041.7,1260.1L1041.9,1262.1L1042.1,1264.1L1042.3,1266.1L1042.5,1268.1L1042.7,1270.0L1042.9,1272.0L1043.1,1274.0L1043.3,1276.0L1043.5,1278.0L1043.8,1280.0L1044.0,1282.0L1044.2,1283.9L1044.4,1285.9L1044.6,1287.9L1044.8,1289.9L1045.0,1291.9L1045.2,1293.9L1045.4,1295.9L1045.6,1297.8L1045.8,1299.8L1046.1,1301.8L1046.3,1303.8L1046.5,1305.8L1046.7,1307.8L1046.9,1309.8L1047.1,1311.7L1047.3,1313.7L1047.5,1315.7L1047.7,1317.7L1047.9,1319.7L1048.1,1321.7L1048.3,1323.7L1048.6,1325.6L1048.8,1327.6L1049.0,1329.6L1049.2,1331.6L1049.4,1333.6L1049.6,1335.6L1049.8,1337.6L1050.0,1339.5L1050.2,1341.5L1050.4,1343.5L1050.6,1345.5L1050.8,1347.5L1051.0,1349.5L1051.2,1351.5L1051.5,1353.4L1051.7,1355.4L1051.9,1357.4L1052.1,1359.4L1052.3,1361.4L1052.5,1363.4L1052.7,1365.4L1052.9,1367.4L1053.1,1369.3L1053.3,1371.3L1053.5,1373.3L1053.7,1375.3L1053.9,1377.3L1054.1,1379.3L1054.3,1381.3L1054.5,1383.2L1054.7,1385.2L1054.9,1387.2L1055.2,1389.2L1055.4,1391.2L1055.6,1393.2L1055.8,1395.2L1056.0,1397.1L1056.2,1399.1L1056.4,1401.1L1056.6,1403.1L1056.8,1405.1L1057.0,1407.1L1057.2,1409.1L1057.4,1411.1L1057.7,1413.1L1057.9,1415.0L1058.1,1417.0L1058.3,1419.0L1058.5,1421.0L1058.7,1423.0L1059.0,1425.0L1059.2,1427.0L1059.4,1429.0L1059.6,1431.0L1059.8,1433.0L1060.1,1434.9L1060.3,1436.9L1060.5,1438.9L1060.8,1440.9L1061.0,1442.9L1061.2,1444.9L1061.5,1446.9L1061.7,1448.9L1062.0,1450.9L1062.2,1452.9L1062.5,1454.9L1062.7,1456.9L1063.0,1458.9L1063.2,1460.9L1063.5,1462.9L1063.8,1464.9L1064.0,1466.9L1064.3,1468.8L1064.6,1470.8L1064.8,1472.8L1065.1,1474.8L1065.4,1476.8L1065.7,1478.8L1066.0,1480.8L1066.2,1482.8L1066.5,1484.8L1066.8,1486.8L1067.1,1488.8L1067.4,1490.8L1067.7,1492.8L1068.0,1494.8L1068.4,1496.8L1068.7,1498.8L1069.0,1500.8L1069.3,1502.8L1069.6,1504.8L1069.9,1506.8L1070.3,1508.8L1070.6,1510.8L1070.9,1512.8L1071.2,1514.8L1071.6,1516.8L1071.9,1518.8L1072.2,1520.8L1072.6,1522.8L1072.9,1524.7L1073.3,1526.7L1073.6,1528.7L1074.0,1530.7L1074.3,1532.7L1074.6,1534.6L1075.0,1536.6L1075.4,1538.6L1075.7,1540.5L1076.1,1542.5L1076.4,1544.4L1076.8,1546.4L1077.1,1548.4L1077.5,1550.3L1077.8,1552.3L1078.2,1554.2L1078.6,1556.1L1078.9,1558.1L1079.3,1560.0L1079.7,1561.9L1080.0,1563.9L1080.4,1565.8L1080.8,1567.7L1081.1,1569.6L1081.5,1571.5L1081.9,1573.4L1082.2,1575.3L1082.6,1577.2L1083.0,1579.1L1083.4,1581.0L1083.7,1582.9L1084.1,1584.8L1084.5,1586.7L1084.8,1588.5L1085.2,1590.4L1085.6,1592.3L1086.0,1594.1L1086.4,1596.0L1086.8,1597.8L1087.2,1599.7L1087.6,1601.6L1088.0,1603.4L1088.4,1605.3L1088.8,1607.1L1089.3,1609.0L1089.7,1610.9L1090.2,1612.7L1090.7,1614.6L1091.2,1616.5L1091.7,1618.4L1092.2,1620.3L1092.8,1622.2L1093.3,1624.1L1093.9,1626.0L1094.5,1627.9L1095.1,1629.8L1095.8,1631.8L1096.5,1633.7L1097.1,1635.7L1097.9,1637.6L1098.6,1639.6L1099.4,1641.6L1100.2,1643.6L1101.0,1645.6L1101.8,1647.7L1102.7,1649.7L1103.6,1651.7L1104.5,1653.7L1105.4,1655.8L1106.4,1657.8L1107.4,1659.8L1108.4,1661.8L1109.4,1663.8L1110.5,1665.8L1111.5,1667.8L1112.6,1669.8L1113.7,1671.8L1114.9,1673.7L1116.0,1675.7L1117.2,1677.6L1118.4,1679.4L1119.6,1681.3L1120.9,1683.2L1122.1,1685.0L1123.4,1686.7L1124.7,1688.5L1126.0,1690.2L1127.3,1691.9L1128.6,1693.6L1130.0,1695.2L1131.3,1696.7L1132.7,1698.3L1134.1,1699.8L1135.5,1701.2L1137.0,1702.6L1138.4,1704.0L1139.9,1705.3L1141.3,1706.5L1142.8,1707.7L1144.3,1708.9L1145.8,1709.9L1147.4,1711.0L1148.9,1711.9L1150.4,1712.8L1152.0,1713.7L1153.6,1714.4L1155.1,1715.2L1156.7,1715.8L1158.3,1716.4L1159.9,1716.8L1161.6,1717.3L1163.2,1717.6L1164.8,1717.9L1166.5,1718.1L1168.1,1718.2L1169.8,1718.3L1171.4,1718.2L1173.1,1718.2L1174.8,1718.0L1176.5,1717.8L1178.1,1717.5L1179.8,1717.2L1181.5,1716.8L1183.2,1716.3L1184.9,1715.8L1186.6,1715.3L1188.3,1714.6L1190.0,1714.0L1191.7,1713.2L1193.4,1712.4L1195.1,1711.6L1196.8,1710.7L1198.5,1709.8L1200.2,1708.8L1201.9,1707.8L1203.6,1706.7L1205.3,1705.6L1207.0,1704.5L1208.7,1703.3L1210.4,1702.1L1212.0,1700.8L1213.7,1699.5L1215.4,1698.2L1217.0,1696.8L1218.7,1695.4L1220.3,1694.0L1221.9,1692.5L1223.6,1691.0L1225.2,1689.5L1226.8,1688.0L1228.4,1686.4L1230.0,1684.9L1231.5,1683.3L1233.1,1681.6L1234.7,1680.0L1236.2,1678.4L1237.7,1676.7L1239.2,1675.0L1240.7,1673.3L1242.2,1671.6L1243.7,1669.9L1245.2,1668.2L1246.6,1666.4L1248.0,1664.7L1249.4,1662.9L1250.8,1661.2L1252.2,1659.4L1253.6,1657.7L1254.9,1655.9L1256.2,1654.2L1257.5,1652.4L1258.8,1650.7L1260.1,1648.9L1261.3,1647.2L1262.6,1645.4L1263.8,1643.7L1265.0,1641.9L1266.2,1640.1L1267.4,1638.4L1268.5,1636.6L1269.7,1634.8L1270.8,1633.1L1271.9,1631.3L1273.0,1629.6L1274.1,1627.8L1275.2,1626.0L1276.2,1624.3L1277.3,1622.5L1278.3,1620.7L1279.4,1618.9L1280.4,1617.2L1281.4,1615.4L1282.4,1613.6L1283.3,1611.8L1284.3,1610.1L1285.3,1608.3L1286.2,1606.5L1287.1,1604.7L1288.0,1602.9L1289.0,1601.2L1289.9,1599.4L1290.8,1597.6L1291.6,1595.8L1292.5,1594.0L1293.4,1592.2L1294.2,1590.4L1295.1,1588.6L1295.9,1586.9L1296.8,1585.1L1297.6,1583.3L1298.4,1581.5L1299.2,1579.7L1300.0,1577.9L1300.8,1576.1L1301.6,1574.3L1302.4,1572.5L1303.2,1570.7L1303.9,1568.9L1304.7,1567.1L1305.5,1565.3L1306.2,1563.4L1307.0,1561.6L1307.7,1559.8L1308.5,1558.0L1309.2,1556.2L1310.0,1554.4L1310.7,1552.6L1311.4,1550.7L1312.1,1548.9L1312.9,1547.1L1313.6,1545.3L1314.3,1543.5L1315.0,1541.6L1315.7,1539.8L1316.5,1538.0L1317.2,1536.1L1317.9,1534.3L1318.6,1532.5L1319.3,1530.7L1320.0,1528.8L1320.7,1527.0L1321.4,1525.1L1322.1,1523.3L1322.8,1521.5L1323.5,1519.6L1324.1,1517.8L1324.8,1515.9L1325.5,1514.1L1326.2,1512.2L1326.9,1510.4L1327.5,1508.5L1328.2,1506.7L1328.9,1504.8L1329.5,1503.0L1330.2,1501.1L1330.9,1499.3L1331.5,1497.4L1332.2,1495.6L1332.9,1493.7L1333.5,1491.8L1334.2,1490.0L1334.8,1488.1L1335.5,1486.3L1336.1,1484.4L1336.8,1482.5L1337.4,1480.7L1338.0,1478.8L1338.7,1476.9L1339.3,1475.1L1340.0,1473.2L1340.6,1471.3L1341.2,1469.4L1341.9,1467.6L1342.5,1465.7L1343.1,1463.8L1343.7,1461.9L1344.4,1460.1L1345.0,1458.2L1345.6,1456.3L1346.2,1454.4L1346.8,1452.5L1347.4,1450.6L1348.1,1448.8L1348.7,1446.9L1349.3,1445.0L1349.9,1443.1L1350.5,1441.2L1351.1,1439.3L1351.7,1437.4L1352.3,1435.5L1352.9,1433.6L1353.5,1431.7L1354.1,1429.8L1354.7,1428.0L1355.3,1426.1L1355.8,1424.2L1356.4,1422.3L1357.0,1420.4L1357.6,1418.5L1358.2,1416.6L1358.8,1414.7L1359.4,1412.8L1359.9,1410.8L1360.5,1408.9L1361.1,1407.0L1361.7,1405.1L1362.2,1403.2L1362.8,1401.3L1363.4,1399.4L1363.9,1397.5L1364.5,1395.6L1365.1,1393.7L1365.6,1391.8L1366.2,1389.8L1366.8,1387.9L1367.3,1386.0L1367.9,1384.1L1368.5,1382.2L1369.0,1380.3L1369.6,1378.4L1370.1,1376.4L1370.7,1374.5L1371.2,1372.6L1371.8,1370.7L1372.3,1368.8L1372.9,1366.8L1373.4,1364.9L1374.0,1363.0L1374.5,1361.1L1375.1,1359.1L1375.6,1357.2L1376.1,1355.3L1376.7,1353.4L1377.2,1351.4L1377.8,1349.5L1378.3,1347.6L1378.8,1345.7L1379.4,1343.7L1379.9,1341.8L1380.4,1339.9L1381.0,1337.9L1381.5,1336.0L1382.0,1334.1L1382.6,1332.1L1383.1,1330.2L1383.6,1328.3L1384.2,1326.3L1384.7,1324.4L1385.2,1322.5L1385.7,1320.5L1386.3,1318.6L1386.8,1316.7L1387.3,1314.7L1387.8,1312.8L1388.4,1310.9L1388.9,1308.9L1389.4,1307.0L1389.9,1305.0L1390.4,1303.1L1391.0,1301.2L1391.5,1299.2L1392.0,1297.3L1392.5,1295.3L1393.0,1293.4L1393.5,1291.5L1394.0,1289.5L1394.6,1287.6L1395.1,1285.6L1395.6,1283.7L1396.1,1281.8L1396.6,1279.8L1397.1,1277.9L1397.6,1275.9L1398.1,1274.0L1398.6,1272.0L1399.2,1270.1L1399.7,1268.1L1400.2,1266.2L1400.7,1264.3L1401.2,1262.3L1401.7,1260.4L1402.2,1258.4L1402.7,1256.5L1403.2,1254.5L1403.7,1252.6L1404.2,1250.6L1404.7,1248.7L1405.2,1246.7L1405.7,1244.8L1406.2,1242.8L1406.7,1240.9L1407.3,1238.9L1407.8,1237.0L1408.3,1235.0L1408.8,1233.1L1409.3,1231.1L1409.8,1229.2L1410.3,1227.2L1410.8,1225.3L1411.3,1223.3L1411.8,1221.4L1412.3,1219.4L1412.8,1217.5L1413.3,1215.5L1413.8,1213.6L1414.3,1211.6L1414.8,1209.7L1415.3,1207.7L1415.8,1205.8L1416.3,1203.8L1416.8,1201.9L1417.3,1199.9L1417.8,1198.0L1418.3,1196.0L1418.8,1194.1L1419.3,1192.2L1419.8,1190.2L1420.3,1188.3L1420.8,1186.3L1421.3,1184.4L1421.8,1182.4L1422.3,1180.5L1422.8,1178.5L1423.3,1176.6L1423.8,1174.6L1424.3,1172.7L1424.9,1170.7L1425.4,1168.8L1425.9,1166.8L1426.4,1164.9L1426.9,1162.9L1427.4,1161.0L1427.9,1159.0L1428.4,1157.1L1428.9,1155.1L1429.4,1153.2L1429.9,1151.2L1430.4,1149.3L1430.9,1147.3L1431.4,1145.4L1432.0,1143.4L1432.5,1141.5L1433.0,1139.6L1433.5,1137.6L1434.0,1135.7L1434.5,1133.7L1435.0,1131.8L1435.5,1129.8L1436.1,1127.9L1436.6,1125.9L1437.1,1124.0L1437.6,1122.1L1438.1,1120.1L1438.6,1118.2L1439.2,1116.2L1439.7,1114.3L1440.2,1112.3L1440.7,1110.4L1441.2,1108.5L1441.7,1106.5L1442.3,1104.6L1442.8,1102.6L1443.3,1100.7L1443.8,1098.8L1444.4,1096.8L1444.9,1094.9L1445.4,1093.0L1445.9,1091.0L1446.5,1089.1L1447.0,1087.2L1447.5,1085.2L1448.0,1083.3L1448.6,1081.4L1449.1,1079.4L1449.6,1077.5L1450.2,1075.6L1450.7,1073.6L1451.2,1071.7L1451.8,1069.8L1452.3,1067.8L1452.8,1065.9L1453.4,1064.0L1453.9,1062.1L1454.4,1060.1L1455.0,1058.2L1455.5,1056.3L1456.0,1054.4L1456.6,1052.4L1457.1,1050.5L1457.7,1048.6L1458.2,1046.7L1458.7,1044.8L1459.3,1042.8L1459.8,1040.9L1460.4,1039.0L1460.9,1037.1L1461.5,1035.2L1462.0,1033.3L1462.5,1031.3L1463.1,1029.4L1463.6,1027.5L1464.2,1025.6L1464.7,1023.7L1465.3,1021.8L1465.8,1019.9L1466.4,1018.0L1467.0,1016.1L1467.5,1014.2L1468.1,1012.3L1468.6,1010.4L1469.2,1008.5L1469.7,1006.6L1470.3,1004.7L1470.8,1002.8L1471.4,1000.9L1472.0,999.0L1472.5,997.1L1473.1,995.2L1473.7,993.3L1474.2,991.4L1474.8,989.5L1475.4,987.6L1475.9,985.7L1476.5,983.8L1477.1,982.0L1477.6,980.1L1478.2,978.2L1478.8,976.3L1479.4,974.4L1479.9,972.5L1480.5,970.7L1481.1,968.8L1481.7,966.9L1482.2,965.0L1482.8,963.2L1483.4,961.3L1484.0,959.4L1484.6,957.6L1485.1,955.7L1485.7,953.8L1486.3,952.0L1486.9,950.1L1487.5,948.2L1488.1,946.4L1488.7,944.5L1489.2,942.7L1489.8,940.8L1490.4,938.9L1491.0,937.1L1491.6,935.2L1492.2,933.4L1492.8,931.5L1493.4,929.7L1494.0,927.8L1494.6,926.0L1495.2,924.2L1495.8,922.3L1496.4,920.5L1497.0,918.6L1497.6,916.8L1498.2,915.0L1498.8,913.1L1499.5,911.3L1500.1,909.5L1500.7,907.6L1501.3,905.8L1501.9,903.9L1502.5,902.1L1503.2,900.3L1503.8,898.4L1504.4,896.6L1505.0,894.7L1505.7,892.9L1506.3,891.0L1507.0,889.2L1507.6,887.3L1508.2,885.4L1508.9,883.6L1509.5,881.7L1510.2,879.8L1510.9,877.9L1511.5,876.1L1512.2,874.2L1512.9,872.3L1513.5,870.4L1514.2,868.4L1514.9,866.5L1515.6,864.6L1516.3,862.7L1517.0,860.7L1517.7,858.8L1518.4,856.8L1519.1,854.8L1519.8,852.8L1520.6,850.9L1521.3,848.9L1522.0,846.8L1522.8,844.8L1523.5,842.8L1524.3,840.7L1525.1,838.7L1525.8,836.6L1526.6,834.5L1527.4,832.5L1528.2,830.4L1529.0,828.2L1529.8,826.1L1530.6,824.0L1531.4,821.8L1532.2,819.6L1533.0,817.5L1533.9,815.3L1534.7,813.0L1535.6,810.8L1536.4,808.6L1537.3,806.3L1538.2,804.0L1539.1,801.7L1540.0,799.4L1540.9,797.1L1541.8,794.9L1542.7,792.6L1543.6,790.3L1544.5,788.1L1545.5,785.9L1546.4,783.8L1547.4,781.7L1548.3,779.6L1549.3,777.6L1550.3,775.7L1551.3,773.9L1552.3,772.1L1553.3,770.4L1554.3,768.8L1555.3,767.3L1556.3,765.9L1557.3,764.6L1558.3,763.5L1559.4,762.4L1560.4,761.5L1561.4,760.8L1562.5,760.1L1563.6,759.6L1564.6,759.3L1565.7,759.1L1566.8,759.2L1567.8,759.3L1568.9,759.7L1570.0,760.2L1571.1,760.8L1572.2,761.6L1573.3,762.5L1574.4,763.6L1575.5,764.8L1576.5,766.1L1577.6,767.5L1578.7,769.0L1579.8,770.6L1580.8,772.4L1581.9,774.1L1583.0,776.0L1584.0,778.0L1585.0,780.0L1586.0,782.1L1587.0,784.2L1588.0,786.3L1589.0,788.5L1590.0,790.8L1590.9,793.0L1591.9,795.3L1592.8,797.6L1593.7,799.9L1594.5,802.2L1595.4,804.5L1596.2,806.8L1597.0,809.0L1597.8,811.3L1598.6,813.5L1599.3,815.7L1600.0,817.8L1600.7,820.0L1601.4,822.1L1602.0,824.2L1602.7,826.3L1603.3,828.4L1603.9,830.4L1604.5,832.5L1605.0,834.5L1605.6,836.6L1606.1,838.6L1606.7,840.6L1607.2,842.5L1607.7,844.5L1608.1,846.5L1608.6,848.5L1609.1,850.4L1609.5,852.4L1610.0,854.3L1610.4,856.3L1610.8,858.2L1611.2,860.2L1611.6,862.1L1612.0,864.1L1612.4,866.0L1612.8,867.9L1613.2,869.9L1613.6,871.8L1613.9,873.8L1614.3,875.7L1614.6,877.7L1615.0,879.7L1615.4,881.6L1615.7,883.6L1616.1,885.5L1616.4,887.5L1616.8,889.4L1617.1,891.4L1617.4,893.4L1617.8,895.3L1618.1,897.3L1618.5,899.2L1618.8,901.2L1619.1,903.2L1619.5,905.1L1619.8,907.1L1620.2,909.0L1620.5,911.0L1620.9,913.0L1621.2,914.9L1621.6,916.9L1621.9,918.8L1622.3,920.8L1622.6,922.7L1623.0,924.7L1623.4,926.6L1623.7,928.6L1624.1,930.5L1624.5,932.5L1624.9,934.4L1625.3,936.4L1625.7,938.3L1626.1,940.3L1626.5,942.2L1626.9,944.1L1627.3,946.1L1627.7,948.0L1628.1,950.0L1628.5,951.9L1628.9,953.8L1629.3,955.8L1629.7,957.7L1630.1,959.6L1630.5,961.6L1631.0,963.5L1631.4,965.5L1631.8,967.4L1632.2,969.3L1632.7,971.3L1633.1,973.2L1633.5,975.1L1633.9,977.1L1634.4,979.0L1634.8,980.9L1635.2,982.9L1635.6,984.8L1636.1,986.7L1636.5,988.7L1636.9,990.6L1637.3,992.5L1637.8,994.5L1638.2,996.4L1638.6,998.3L1639.0,1000.3L1639.5,1002.2L1639.9,1004.2L1640.3,1006.1L1640.7,1008.0L1641.1,1010.0L1641.5,1011.9L1642.0,1013.8L1642.4,1015.8L1642.8,1017.7L1643.2,1019.7L1643.6,1021.6L1644.0,1023.6L1644.4,1025.5L1644.8,1027.4L1645.2,1029.4L1645.6,1031.3L1646.0,1033.3L1646.4,1035.2L1646.8,1037.2L1647.1,1039.1L1647.5,1041.1L1647.9,1043.0L1648.3,1045.0L1648.7,1046.9L1649.0,1048.9L1649.4,1050.9L1649.8,1052.8L1650.1,1054.8L1650.5,1056.7L1650.9,1058.7L1651.2,1060.7L1651.6,1062.6L1651.9,1064.6L1652.3,1066.5L1652.6,1068.5L1653.0,1070.5L1653.3,1072.4L1653.7,1074.4L1654.0,1076.4L1654.4,1078.3L1654.7,1080.3L1655.0,1082.3L1655.4,1084.2L1655.7,1086.2L1656.1,1088.2L1656.4,1090.1L1656.7,1092.1L1657.0,1094.1L1657.4,1096.1L1657.7,1098.0L1658.0,1100.0L1658.3,1102.0L1658.7,1103.9L1659.0,1105.9L1659.3,1107.9L1659.6,1109.9L1659.9,1111.8L1660.2,1113.8L1660.6,1115.8L1660.9,1117.8L1661.2,1119.8L1661.5,1121.7L1661.8,1123.7L1662.1,1125.7L1662.4,1127.7L1662.7,1129.7L1663.0,1131.6L1663.3,1133.6L1663.6,1135.6L1663.9,1137.6L1664.2,1139.6L1664.5,1141.6L1664.8,1143.6L1665.1,1145.5L1665.4,1147.5L1665.7,1149.5L1666.0,1151.5L1666.3,1153.5L1666.5,1155.5L1666.8,1157.5L1667.1,1159.4L1667.4,1161.4L1667.7,1163.4L1668.0,1165.4L1668.3,1167.4L1668.6,1169.4L1668.8,1171.4L1669.1,1173.4L1669.4,1175.4L1669.7,1177.3L1670.0,1179.3L1670.2,1181.3L1670.5,1183.3L1670.8,1185.3L1671.1,1187.3L1671.4,1189.3L1671.6,1191.3L1671.9,1193.3L1672.2,1195.3L1672.5,1197.3L1672.7,1199.3L1673.0,1201.2L1673.3,1203.2L1673.6,1205.2L1673.8,1207.2L1674.1,1209.2L1674.4,1211.2L1674.7,1213.2L1674.9,1215.2L1675.2,1217.2L1675.5,1219.2L1675.8,1221.2L1676.0,1223.2L1676.3,1225.2L1676.6,1227.2L1676.8,1229.2L1677.1,1231.2L1677.4,1233.2L1677.7,1235.2L1677.9,1237.1L1678.2,1239.1L1678.5,1241.1L1678.8,1243.1L1679.0,1245.1L1679.3,1247.1L1679.6,1249.1L1679.9,1251.1L1680.1,1253.1L1680.4,1255.1L1680.7,1257.1L1681.0,1259.1L1681.2,1261.1L1681.5,1263.1L1681.8,1265.1L1682.1,1267.1L1682.3,1269.1L1682.6,1271.0L1682.9,1273.0L1683.2,1275.0L1683.5,1277.0L1683.7,1279.0L1684.0,1281.0L1684.3,1283.0L1684.6,1285.0L1684.9,1287.0L1685.2,1289.0L1685.4,1291.0L1685.7,1293.0L1686.0,1295.0L1686.3,1297.0L1686.6,1298.9L1686.9,1300.9L1687.2,1302.9L1687.5,1304.9L1687.7,1306.9L1688.0,1308.9L1688.3,1310.9L1688.6,1312.9L1688.9,1314.9L1689.2,1316.9L1689.5,1318.8L1689.8,1320.8L1690.1,1322.8L1690.4,1324.8L1690.7,1326.8L1691.0,1328.8L1691.3,1330.8L1691.6,1332.7L1691.9,1334.7L1692.2,1336.7L1692.6,1338.7L1692.9,1340.7L1693.2,1342.7L1693.5,1344.6L1693.8,1346.6L1694.1,1348.6L1694.4,1350.6L1694.8,1352.6L1695.1,1354.6L1695.4,1356.5L1695.7,1358.5L1696.1,1360.5L1696.4,1362.5L1696.7,1364.5L1697.0,1366.4L1697.4,1368.4L1697.7,1370.4L1698.1,1372.4L1698.4,1374.3L1698.7,1376.3L1699.1,1378.3L1699.4,1380.3L1699.8,1382.2L1700.1,1384.2L1700.5,1386.2L1700.8,1388.1L1701.2,1390.1L1701.5,1392.1L1701.9,1394.1L1702.2,1396.0L1702.6,1398.0L1703.0,1400.0L1703.3,1401.9L1703.7,1403.9L1704.1,1405.9L1704.4,1407.8L1704.8,1409.8L1705.2,1411.7L1705.6,1413.7L1705.9,1415.7L1706.3,1417.6L1706.7,1419.6L1707.1,1421.5L1707.5,1423.5L1707.9,1425.5L1708.3,1427.4L1708.7,1429.4L1709.1,1431.3L1709.5,1433.3L1709.9,1435.2L1710.3,1437.2L1710.7,1439.1L1711.1,1441.1L1711.5,1443.0L1711.9,1445.0L1712.3,1446.9L1712.8,1448.9L1713.2,1450.8L1713.6,1452.8L1714.0,1454.7L1714.5,1456.7L1714.9,1458.6L1715.4,1460.6L1715.8,1462.5L1716.2,1464.4L1716.7,1466.4L1717.1,1468.3L1717.6,1470.2L1718.0,1472.2L1718.5,1474.1L1719.0,1476.1L1719.4,1478.0L1719.9,1479.9L1720.4,1481.8L1720.8,1483.8L1721.3,1485.7L1721.8,1487.6L1722.3,1489.6L1722.8,1491.5L1723.3,1493.4L1723.8,1495.3L1724.3,1497.3L1724.8,1499.2L1725.3,1501.1L1725.8,1503.0L1726.3,1504.9L1726.8,1506.9L1727.3,1508.8L1727.8,1510.7L1728.4,1512.6L1728.9,1514.5L1729.4,1516.4L1730.0,1518.3L1730.5,1520.2L1731.0,1522.1L1731.6,1524.0L1732.1,1526.0L1732.7,1527.9L1733.2,1529.8L1733.8,1531.7L1734.4,1533.6L1734.9,1535.5L1735.5,1537.4L1736.1,1539.2L1736.7,1541.1L1737.2,1543.0L1737.8,1544.9L1738.4,1546.8L1739.0,1548.7L1739.6,1550.6L1740.2,1552.5L1740.8,1554.4L1741.4,1556.2L1742.0,1558.1L1742.7,1560.0L1743.3,1561.9L1743.9,1563.8L1744.5,1565.6L1745.2,1567.5L1745.8,1569.4L1746.5,1571.3L1747.1,1573.1L1747.8,1575.0L1748.4,1576.9L1749.1,1578.7L1749.7,1580.6L1750.4,1582.5L1751.1,1584.3L1751.8,1586.2L1752.4,1588.1L1753.1,1589.9L1753.8,1591.8L1754.5,1593.6L1755.2,1595.5L1755.9,1597.3L1756.6,1599.2L1757.4,1601.0L1758.1,1602.9L1758.8,1604.7L1759.5,1606.6L1760.3,1608.4L1761.0,1610.2L1761.7,1612.1L1762.5,1613.9L1763.2,1615.7L1764.0,1617.6L1764.8,1619.4L1765.5,1621.2L1766.3,1623.1L1767.1,1624.9L1767.8,1626.7L1768.6,1628.5L1769.4,1630.4L1770.2,1632.2L1771.0,1634.0L1771.8,1635.8L1772.6,1637.6L1773.5,1639.5L1774.3,1641.3L1775.1,1643.1L1775.9,1644.9L1776.8,1646.7L1777.6,1648.5L1778.5,1650.3L1779.3,1652.1L1780.2,1653.9L1781.0,1655.7L1781.9,1657.5L1782.8,1659.3L1783.7,1661.1L1784.6,1662.9L1785.4,1664.6L1786.3,1666.4L1787.2,1668.2L1788.2,1670.0L1789.1,1671.8L1790.0,1673.6L1790.9,1675.3L1791.8,1677.1L1792.8,1678.9L1793.7,1680.6L1794.7,1682.4L1795.6,1684.2L1796.6,1685.9L1797.5,1687.7L1798.5,1689.5L1799.5,1691.2L1800.5,1693.0L1801.4,1694.7L1802.4,1696.5L1803.4,1698.2L1804.4,1700.0L1805.5,1701.7L1806.5,1703.5L1807.5,1705.2L1808.5,1707.0L1809.6,1708.7L1810.6,1710.4L1811.6,1712.2L1812.7,1713.9L1813.8,1715.6L1814.8,1717.4L1815.9,1719.1" fill="none" stroke="#E8141C" stroke-width="10" stroke-linejoin="round" stroke-linecap="butt"/>
<path d="M200.0,1610.7L202.0,1610.8L204.0,1610.9L206.0,1611.0L207.9,1611.0L209.9,1611.1L211.9,1611.2L213.9,1611.3L215.9,1611.4L217.9,1611.4L219.9,1611.5L221.9,1611.6L223.9,1611.7L225.9,1611.7L227.9,1611.8L229.8,1611.9L231.8,1611.9L233.8,1612.0L235.8,1612.1L237.8,1612.1L239.8,1612.2L241.8,1612.2L243.8,1612.3L245.8,1612.4L247.8,1612.4L249.8,1612.5L251.8,1612.5L253.8,1612.6L255.8,1612.6L257.8,1612.7L259.8,1612.7L261.8,1612.8L263.8,1612.8L265.8,1612.9L267.8,1612.9L269.8,1613.0L271.8,1613.0L273.8,1613.1L275.8,1613.1L277.8,1613.2L279.8,1613.2L281.8,1613.3L283.8,1613.3L285.8,1613.3L287.8,1613.4L289.8,1613.4L291.8,1613.5L293.8,1613.5L295.8,1613.6L297.8,1613.6L299.9,1613.7L301.9,1613.7L303.9,1613.8L305.9,1613.8L307.9,1613.9L309.9,1613.9L311.9,1613.9L313.9,1614.0L315.9,1614.0L317.9,1614.1L319.9,1614.1L321.9,1614.2L323.9,1614.3L325.9,1614.3L327.9,1614.4L329.9,1614.4L331.9,1614.5L333.9,1614.5L335.9,1614.6L338.0,1614.6L340.0,1614.7L342.0,1614.8L344.0,1614.8L346.0,1614.9L348.0,1615.0L350.0,1615.0L352.0,1615.1L354.0,1615.2L356.0,1615.2L358.0,1615.3L360.0,1615.4L362.0,1615.5L364.0,1615.5L366.0,1615.6L368.0,1615.7L370.0,1615.8L372.0,1615.9L374.0,1615.9L376.0,1616.0L378.0,1616.1L380.0,1616.2L382.0,1616.3L384.0,1616.4L386.0,1616.5L388.0,1616.6L390.0,1616.7L392.0,1616.8L394.0,1616.9L396.0,1617.0L398.0,1617.2L400.0,1617.3L402.0,1617.4L404.0,1617.5L406.0,1617.6L408.0,1617.8L410.0,1617.9L412.0,1618.0L414.0,1618.2L416.0,1618.3L418.0,1618.4L420.0,1618.6L422.0,1618.7L424.0,1618.9L426.0,1619.0L428.0,1619.2L430.0,1619.3L432.0,1619.5L434.0,1619.7L435.9,1619.8L437.9,1620.0L439.9,1620.2L441.9,1620.4L443.9,1620.6L445.9,1620.8L447.9,1620.9L449.9,1621.1L451.9,1621.3L453.8,1621.5L455.8,1621.8L457.8,1622.0L459.8,1622.2L461.8,1622.4L463.8,1622.6L465.7,1622.8L467.7,1623.1L469.7,1623.3L471.7,1623.6L473.6,1623.8L475.6,1624.0L477.6,1624.3L479.6,1624.6L481.6,1624.8L483.5,1625.1L485.5,1625.4L487.5,1625.6L489.4,1625.9L491.4,1626.3L493.3,1626.6L495.3,1626.9L497.2,1627.3L499.2,1627.7L501.1,1628.1L503.0,1628.5L504.9,1629.0L506.8,1629.4L508.7,1629.9L510.6,1630.5L512.4,1631.1L514.3,1631.7L516.1,1632.3L518.0,1633.0L519.8,1633.8L521.5,1634.5L523.3,1635.4L525.1,1636.2L526.8,1637.1L528.5,1638.1L530.2,1639.1L531.9,1640.1L533.6,1641.2L535.3,1642.3L537.0,1643.4L538.6,1644.6L540.3,1645.8L541.9,1647.0L543.6,1648.3L545.2,1649.6L546.9,1650.9L548.5,1652.2L550.2,1653.6L551.8,1654.9L553.5,1656.3L555.2,1657.7L556.9,1659.1L558.5,1660.5L560.2,1661.9L561.9,1663.3L563.6,1664.7L565.3,1666.0L567.0,1667.4L568.8,1668.8L570.5,1670.1L572.2,1671.4L573.9,1672.7L575.7,1673.9L577.4,1675.1L579.2,1676.2L580.9,1677.4L582.7,1678.4L584.4,1679.5L586.2,1680.4L588.0,1681.3L589.7,1682.2L591.5,1682.9L593.3,1683.6L595.1,1684.3L596.9,1684.8L598.7,1685.3L600.5,1685.7L602.3,1686.0L604.1,1686.2L605.9,1686.3L607.7,1686.4L609.5,1686.3L611.3,1686.1L613.2,1685.8L615.0,1685.4L616.8,1684.9L618.6,1684.3L620.5,1683.7L622.3,1682.9L624.1,1682.0L625.9,1681.1L627.6,1680.1L629.4,1679.0L631.2,1677.9L632.9,1676.7L634.6,1675.4L636.3,1674.1L638.0,1672.7L639.6,1671.3L641.3,1669.8L642.9,1668.2L644.4,1666.7L646.0,1665.1L647.5,1663.4L648.9,1661.7L650.4,1660.0L651.8,1658.3L653.1,1656.5L654.4,1654.8L655.7,1653.0L656.9,1651.2L658.1,1649.4L659.2,1647.6L660.3,1645.8L661.4,1644.0L662.4,1642.1L663.4,1640.3L664.3,1638.5L665.2,1636.6L666.1,1634.8L666.9,1632.9L667.7,1631.0L668.5,1629.1L669.2,1627.3L669.9,1625.4L670.6,1623.5L671.2,1621.6L671.9,1619.7L672.5,1617.8L673.0,1615.9L673.6,1614.0L674.1,1612.0L674.6,1610.1L675.1,1608.2L675.6,1606.3L676.1,1604.3L676.5,1602.4L677.0,1600.5L677.4,1598.5L677.8,1596.6L678.2,1594.6L678.6,1592.7L679.0,1590.7L679.4,1588.8L679.8,1586.8L680.1,1584.9L680.5,1582.9L680.9,1581.0L681.3,1579.0L681.6,1577.1L682.0,1575.1L682.4,1573.2L682.7,1571.2L683.1,1569.3L683.5,1567.3L683.8,1565.4L684.2,1563.4L684.5,1561.5L684.9,1559.5L685.2,1557.6L685.6,1555.6L685.9,1553.7L686.3,1551.7L686.6,1549.7L687.0,1547.8L687.3,1545.8L687.7,1543.9L688.0,1541.9L688.4,1540.0L688.7,1538.0L689.1,1536.0L689.4,1534.1L689.7,1532.1L690.1,1530.2L690.4,1528.2L690.7,1526.3L691.1,1524.3L691.4,1522.3L691.7,1520.4L692.1,1518.4L692.4,1516.5L692.7,1514.5L693.0,1512.5L693.4,1510.6L693.7,1508.6L694.0,1506.7L694.3,1504.7L694.7,1502.7L695.0,1500.8L695.3,1498.8L695.6,1496.8L695.9,1494.9L696.2,1492.9L696.6,1491.0L696.9,1489.0L697.2,1487.0L697.5,1485.1L697.8,1483.1L698.1,1481.1L698.4,1479.2L698.7,1477.2L699.0,1475.2L699.3,1473.3L699.6,1471.3L699.9,1469.3L700.2,1467.4L700.5,1465.4L700.8,1463.4L701.1,1461.5L701.4,1459.5L701.7,1457.5L702.0,1455.6L702.3,1453.6L702.6,1451.6L702.9,1449.7L703.1,1447.7L703.4,1445.7L703.7,1443.7L704.0,1441.8L704.3,1439.8L704.6,1437.8L704.9,1435.9L705.1,1433.9L705.4,1431.9L705.7,1430.0L706.0,1428.0L706.2,1426.0L706.5,1424.0L706.8,1422.1L707.1,1420.1L707.3,1418.1L707.6,1416.1L707.9,1414.2L708.2,1412.2L708.4,1410.2L708.7,1408.3L709.0,1406.3L709.2,1404.3L709.5,1402.3L709.8,1400.4L710.0,1398.4L710.3,1396.4L710.6,1394.4L710.8,1392.5L711.1,1390.5L711.3,1388.5L711.6,1386.5L711.9,1384.5L712.1,1382.6L712.4,1380.6L712.6,1378.6L712.9,1376.6L713.1,1374.7L713.4,1372.7L713.6,1370.7L713.9,1368.7L714.1,1366.8L714.4,1364.8L714.6,1362.8L714.9,1360.8L715.1,1358.8L715.4,1356.9L715.6,1354.9L715.9,1352.9L716.1,1350.9L716.4,1348.9L716.6,1347.0L716.9,1345.0L717.1,1343.0L717.3,1341.0L717.6,1339.0L717.8,1337.1L718.1,1335.1L718.3,1333.1L718.5,1331.1L718.8,1329.1L719.0,1327.1L719.3,1325.2L719.5,1323.2L719.7,1321.2L720.0,1319.2L720.2,1317.2L720.4,1315.3L720.7,1313.3L720.9,1311.3L721.1,1309.3L721.3,1307.3L721.6,1305.3L721.8,1303.4L722.0,1301.4L722.3,1299.4L722.5,1297.4L722.7,1295.4L722.9,1293.4L723.2,1291.4L723.4,1289.5L723.6,1287.5L723.8,1285.5L724.1,1283.5L724.3,1281.5L724.5,1279.5L724.7,1277.5L725.0,1275.6L725.2,1273.6L725.4,1271.6L725.6,1269.6L725.8,1267.6L726.1,1265.6L726.3,1263.6L726.5,1261.7L726.7,1259.7L726.9,1257.7L727.1,1255.7L727.4,1253.7L727.6,1251.7L727.8,1249.7L728.0,1247.7L728.2,1245.8L728.4,1243.8L728.6,1241.8L728.9,1239.8L729.1,1237.8L729.3,1235.8L729.5,1233.8L729.7,1231.8L729.9,1229.8L730.1,1227.9L730.3,1225.9L730.5,1223.9L730.8,1221.9L731.0,1219.9L731.2,1217.9L731.4,1215.9L731.6,1213.9L731.8,1211.9L732.0,1210.0L732.2,1208.0L732.4,1206.0L732.6,1204.0L732.8,1202.0L733.0,1200.0L733.2,1198.0L733.4,1196.0L733.7,1194.0L733.9,1192.0L734.1,1190.0L734.3,1188.1L734.5,1186.1L734.7,1184.1L734.9,1182.1L735.1,1180.1L735.3,1178.1L735.5,1176.1L735.7,1174.1L735.9,1172.1L736.1,1170.1L736.3,1168.1L736.5,1166.2L736.7,1164.2L736.9,1162.2L737.1,1160.2L737.3,1158.2L737.5,1156.2L737.7,1154.2L737.9,1152.2L738.1,1150.2L738.3,1148.2L738.5,1146.2L738.7,1144.2L738.9,1142.2L739.1,1140.3L739.3,1138.3L739.5,1136.3L739.7,1134.3L739.9,1132.3L740.1,1130.3L740.3,1128.3L740.5,1126.3L740.7,1124.3L740.9,1122.3L741.1,1120.3L741.3,1118.3L741.5,1116.3L741.7,1114.3L741.9,1112.3L742.1,1110.4L742.3,1108.4L742.5,1106.4L742.7,1104.4L742.9,1102.4L743.1,1100.4L743.3,1098.4L743.5,1096.4L743.7,1094.4L743.9,1092.4L744.1,1090.4L744.3,1088.4L744.5,1086.4L744.7,1084.4L744.9,1082.4L745.1,1080.4L745.3,1078.5L745.5,1076.5L745.7,1074.5L745.9,1072.5L746.1,1070.5L746.3,1068.5L746.5,1066.5L746.7,1064.5L746.9,1062.5L747.1,1060.5L747.3,1058.5L747.5,1056.5L747.7,1054.5L747.9,1052.5L748.1,1050.5L748.3,1048.5L748.5,1046.5L748.7,1044.6L748.9,1042.6L749.1,1040.6L749.3,1038.6L749.5,1036.6L749.7,1034.6L749.9,1032.6L750.1,1030.6L750.3,1028.6L750.5,1026.6L750.7,1024.6L750.9,1022.6L751.2,1020.6L751.4,1018.6L751.6,1016.6L751.8,1014.6L752.0,1012.6L752.2,1010.7L752.4,1008.7L752.6,1006.7L752.8,1004.7L753.0,1002.7L753.2,1000.7L753.4,998.7L753.6,996.7L753.8,994.7L754.0,992.7L754.3,990.7L754.5,988.7L754.7,986.7L754.9,984.7L755.1,982.7L755.3,980.7L755.5,978.7L755.7,976.8L755.9,974.8L756.1,972.8L756.4,970.8L756.6,968.8L756.8,966.8L757.0,964.8L757.2,962.8L757.4,960.8L757.6,958.8L757.9,956.8L758.1,954.8L758.3,952.8L758.5,950.8L758.7,948.8L758.9,946.9L759.2,944.9L759.4,942.9L759.6,940.9L759.8,938.9L760.0,936.9L760.3,934.9L760.5,932.9L760.7,930.9L760.9,928.9L761.1,926.9L761.4,924.9L761.6,922.9L761.8,920.9L762.0,919.0L762.3,917.0L762.5,915.0L762.7,913.0L762.9,911.0L763.2,909.0L763.4,907.0L763.6,905.0L763.9,903.0L764.1,901.0L764.3,899.0L764.6,897.0L764.8,895.1L765.0,893.1L765.3,891.1L765.5,889.1L765.7,887.1L766.0,885.1L766.2,883.1L766.4,881.1L766.7,879.1L766.9,877.1L767.1,875.1L767.4,873.2L767.6,871.2L767.9,869.2L768.1,867.2L768.3,865.2L768.6,863.2L768.8,861.2L769.1,859.2L769.3,857.2L769.6,855.3L769.8,853.3L770.1,851.3L770.3,849.3L770.6,847.3L770.8,845.3L771.1,843.3L771.3,841.3L771.6,839.3L771.8,837.4L772.1,835.4L772.3,833.4L772.6,831.4L772.8,829.4L773.1,827.4L773.3,825.4L773.6,823.4L773.9,821.5L774.1,819.5L774.4,817.5L774.6,815.5L774.9,813.5L775.2,811.5L775.4,809.5L775.7,807.5L776.0,805.6L776.2,803.6L776.5,801.6L776.8,799.6L777.0,797.6L777.3,795.6L777.6,793.6L777.8,791.7L778.1,789.7L778.4,787.7L778.6,785.7L778.9,783.7L779.2,781.7L779.5,779.8L779.7,777.8L780.0,775.8L780.3,773.8L780.5,771.8L780.8,769.8L781.1,767.9L781.4,765.9L781.6,763.9L781.9,761.9L782.2,759.9L782.5,758.0L782.7,756.0L783.0,754.0L783.3,752.0L783.6,750.0L783.9,748.1L784.1,746.1L784.4,744.1L784.7,742.1L785.0,740.1L785.2,738.2L785.5,736.2L785.8,734.2L786.1,732.2L786.3,730.3L786.6,728.3L786.9,726.3L787.2,724.3L787.5,722.4L787.7,720.4L788.0,718.4L788.3,716.4L788.6,714.5L788.8,712.5L789.1,710.5L789.4,708.6L789.7,706.6L789.9,704.6L790.2,702.6L790.5,700.7L790.8,698.7L791.0,696.7L791.3,694.8L791.6,692.8L791.9,690.8L792.1,688.9L792.4,686.9L792.7,684.9L793.0,683.0L793.2,681.0L793.5,679.0L793.8,677.1L794.0,675.1L794.3,673.1L794.6,671.2L794.8,669.2L795.1,667.2L795.4,665.3L795.7,663.3L795.9,661.4L796.2,659.4L796.4,657.4L796.7,655.5L797.0,653.5L797.2,651.6L797.5,649.6L797.8,647.7L798.0,645.7L798.3,643.7L798.5,641.8L798.8,639.8L799.1,637.9L799.3,635.9L799.6,634.0L799.8,632.0L800.1,630.1L800.3,628.1L800.6,626.2L800.8,624.2L801.1,622.3L801.3,620.3L801.6,618.4L801.8,616.4L802.1,614.5L802.3,612.5L802.6,610.6L802.8,608.7L803.0,606.7L803.3,604.8L803.5,602.8L803.8,600.9L804.0,598.9L804.3,597.0L804.5,595.0L804.7,593.1L805.0,591.1L805.2,589.2L805.5,587.2L805.7,585.3L806.0,583.3L806.2,581.4L806.5,579.4L806.7,577.5L807.0,575.5L807.2,573.5L807.5,571.6L807.7,569.6L808.0,567.6L808.3,565.7L808.5,563.7L808.8,561.7L809.0,559.7L809.3,557.8L809.6,555.8L809.9,553.8L810.2,551.8L810.4,549.8L810.7,547.8L811.0,545.8L811.3,543.8L811.6,541.8L811.9,539.8L812.2,537.7L812.5,535.7L812.8,533.7L813.1,531.7L813.5,529.6L813.8,527.6L814.1,525.5L814.5,523.5L814.8,521.4L815.1,519.4L815.5,517.3L815.8,515.2L816.2,513.1L816.6,511.1L816.9,509.0L817.3,506.9L817.7,504.8L818.1,502.7L818.5,500.5L818.9,498.4L819.3,496.3L819.7,494.2L820.2,492.0L820.6,489.9L821.0,487.8L821.5,485.6L822.0,483.5L822.4,481.3L822.9,479.1L823.4,477.0L824.0,474.8L824.5,472.6L825.0,470.5L825.6,468.3L826.2,466.1L826.8,464.0L827.4,461.8L828.0,459.6L828.7,457.4L829.3,455.2L830.0,453.0L830.7,450.9L831.4,448.7L832.1,446.5L832.9,444.3L833.7,442.1L834.5,440.0L835.3,437.8L836.1,435.8L837.0,433.7L837.8,431.7L838.7,429.9L839.6,428.0L840.5,426.3L841.4,424.7L842.3,423.3L843.2,421.9L844.1,420.8L845.0,419.7L845.9,418.9L846.9,418.2L847.8,417.7L848.7,417.5L849.7,417.4L850.6,417.6L851.5,418.0L852.4,418.6L853.3,419.3L854.2,420.3L855.1,421.4L856.0,422.7L856.9,424.1L857.7,425.7L858.6,427.4L859.5,429.1L860.3,431.0L861.1,433.0L862.0,435.0L862.8,437.1L863.6,439.2L864.4,441.4L865.2,443.6L865.9,445.8L866.7,448.0L867.4,450.2L868.1,452.4L868.9,454.5L869.6,456.7L870.2,458.9L870.9,461.0L871.6,463.2L872.2,465.3L872.9,467.4L873.5,469.6L874.1,471.7L874.7,473.8L875.3,475.9L875.9,478.0L876.4,480.1L877.0,482.2L877.6,484.2L878.1,486.3L878.6,488.4L879.1,490.4L879.7,492.5L880.2,494.6L880.7,496.6L881.1,498.6L881.6,500.7L882.1,502.7L882.5,504.7L883.0,506.8L883.4,508.8L883.9,510.8L884.3,512.8L884.7,514.8L885.2,516.8L885.6,518.8L886.0,520.8L886.4,522.8L886.8,524.8L887.2,526.8L887.5,528.8L887.9,530.8L888.3,532.8L888.7,534.7L889.0,536.7L889.4,538.7L889.8,540.7L890.1,542.6L890.5,544.6L890.8,546.6L891.2,548.5L891.5,550.5L891.8,552.5L892.2,554.4L892.5,556.4L892.8,558.4L893.2,560.3L893.5,562.3L893.8,564.3L894.2,566.2L894.5,568.2L894.8,570.2L895.2,572.1L895.5,574.1L895.8,576.1L896.1,578.0L896.5,580.0L896.8,581.9L897.1,583.9L897.4,585.9L897.7,587.8L898.1,589.8L898.4,591.8L898.7,593.7L899.0,595.7L899.3,597.7L899.6,599.6L899.9,601.6L900.2,603.6L900.6,605.5L900.9,607.5L901.2,609.4L901.5,611.4L901.8,613.4L902.1,615.3L902.4,617.3L902.7,619.3L903.0,621.2L903.3,623.2L903.6,625.2L903.9,627.1L904.2,629.1L904.5,631.1L904.8,633.0L905.1,635.0L905.4,637.0L905.7,638.9L906.0,640.9L906.2,642.9L906.5,644.8L906.8,646.8L907.1,648.8L907.4,650.7L907.7,652.7L908.0,654.7L908.2,656.7L908.5,658.6L908.8,660.6L909.1,662.6L909.4,664.5L909.6,666.5L909.9,668.5L910.2,670.5L910.5,672.4L910.7,674.4L911.0,676.4L911.3,678.3L911.6,680.3L911.8,682.3L912.1,684.3L912.4,686.2L912.6,688.2L912.9,690.2L913.2,692.2L913.4,694.1L913.7,696.1L913.9,698.1L914.2,700.1L914.5,702.0L914.7,704.0L915.0,706.0L915.2,708.0L915.5,710.0L915.7,711.9L916.0,713.9L916.2,715.9L916.5,717.9L916.7,719.9L917.0,721.8L917.2,723.8L917.5,725.8L917.7,727.8L918.0,729.8L918.2,731.7L918.5,733.7L918.7,735.7L918.9,737.7L919.2,739.7L919.4,741.7L919.7,743.7L919.9,745.6L920.1,747.6L920.4,749.6L920.6,751.6L920.8,753.6L921.1,755.6L921.3,757.6L921.5,759.5L921.8,761.5L922.0,763.5L922.2,765.5L922.5,767.5L922.7,769.5L922.9,771.5L923.1,773.5L923.4,775.5L923.6,777.4L923.8,779.4L924.0,781.4L924.3,783.4L924.5,785.4L924.7,787.4L924.9,789.4L925.1,791.4L925.4,793.4L925.6,795.4L925.8,797.4L926.0,799.3L926.2,801.3L926.5,803.3L926.7,805.3L926.9,807.3L927.1,809.3L927.3,811.3L927.5,813.3L927.8,815.3L928.0,817.3L928.2,819.3L928.4,821.3L928.6,823.3L928.8,825.3L929.1,827.2L929.3,829.2L929.5,831.2L929.7,833.2L929.9,835.2L930.1,837.2L930.3,839.2L930.5,841.2L930.8,843.2L931.0,845.2L931.2,847.2L931.4,849.2L931.6,851.2L931.8,853.2L932.0,855.2L932.2,857.1L932.5,859.1L932.7,861.1L932.9,863.1L933.1,865.1L933.3,867.1L933.5,869.1L933.7,871.1L933.9,873.1L934.1,875.1L934.4,877.1L934.6,879.1L934.8,881.1L935.0,883.1L935.2,885.0L935.4,887.0L935.6,889.0L935.8,891.0L936.1,893.0L936.3,895.0L936.5,897.0L936.7,899.0L936.9,901.0L937.1,903.0L937.3,905.0L937.5,906.9L937.8,908.9L938.0,910.9L938.2,912.9L938.4,914.9L938.6,916.9L938.8,918.9L939.1,920.9L939.3,922.9L939.5,924.8L939.7,926.8L939.9,928.8L940.1,930.8L940.4,932.8L940.6,934.8L940.8,936.8L941.0,938.8L941.2,940.7L941.5,942.7L941.7,944.7L941.9,946.7L942.1,948.7L942.4,950.7L942.6,952.6L942.8,954.6L943.0,956.6L943.3,958.6L943.5,960.6L943.7,962.6L943.9,964.5L944.2,966.5L944.4,968.5L944.6,970.5L944.8,972.5L945.1,974.5L945.3,976.4L945.5,978.4L945.8,980.4L946.0,982.4L946.2,984.4L946.4,986.3L946.7,988.3L946.9,990.3L947.1,992.3L947.4,994.3L947.6,996.2L947.8,998.2L948.0,1000.2L948.3,1002.2L948.5,1004.2L948.7,1006.1L949.0,1008.1L949.2,1010.1L949.4,1012.1L949.7,1014.1L949.9,1016.0L950.1,1018.0L950.4,1020.0L950.6,1022.0L950.8,1024.0L951.1,1025.9L951.3,1027.9L951.5,1029.9L951.7,1031.9L952.0,1033.9L952.2,1035.8L952.4,1037.8L952.7,1039.8L952.9,1041.8L953.1,1043.8L953.4,1045.7L953.6,1047.7L953.8,1049.7L954.1,1051.7L954.3,1053.7L954.5,1055.6L954.8,1057.6L955.0,1059.6L955.2,1061.6L955.4,1063.6L955.7,1065.5L955.9,1067.5L956.1,1069.5L956.4,1071.5L956.6,1073.5L956.8,1075.5L957.0,1077.4L957.3,1079.4L957.5,1081.4L957.7,1083.4L958.0,1085.4L958.2,1087.3L958.4,1089.3L958.6,1091.3L958.9,1093.3L959.1,1095.3L959.3,1097.3L959.5,1099.3L959.8,1101.2L960.0,1103.2L960.2,1105.2L960.4,1107.2L960.7,1109.2L960.9,1111.2L961.1,1113.2L961.3,1115.1L961.5,1117.1L961.8,1119.1L962.0,1121.1L962.2,1123.1L962.4,1125.1L962.6,1127.1L962.9,1129.1L963.1,1131.1L963.3,1133.0L963.5,1135.0L963.7,1137.0L964.0,1139.0L964.2,1141.0L964.4,1143.0L964.6,1145.0L964.8,1147.0L965.0,1149.0L965.3,1151.0L965.5,1153.0L965.7,1155.0L965.9,1156.9L966.1,1158.9L966.4,1160.9L966.6,1162.9L966.8,1164.9L967.0,1166.9L967.2,1168.9L967.4,1170.9L967.7,1172.9L967.9,1174.9L968.1,1176.9L968.3,1178.9L968.5,1180.9L968.8,1182.9L969.0,1184.8L969.2,1186.8L969.4,1188.8L969.6,1190.8L969.9,1192.8L970.1,1194.8L970.3,1196.8L970.5,1198.8L970.7,1200.8L971.0,1202.8L971.2,1204.8L971.4,1206.8L971.6,1208.8L971.9,1210.8L972.1,1212.8L972.3,1214.8L972.5,1216.8L972.8,1218.7L973.0,1220.7L973.2,1222.7L973.5,1224.7L973.7,1226.7L973.9,1228.7L974.1,1230.7L974.4,1232.7L974.6,1234.7L974.8,1236.7L975.1,1238.7L975.3,1240.7L975.5,1242.7L975.8,1244.7L976.0,1246.6L976.2,1248.6L976.5,1250.6L976.7,1252.6L977.0,1254.6L977.2,1256.6L977.4,1258.6L977.7,1260.6L977.9,1262.6L978.2,1264.6L978.4,1266.6L978.7,1268.6L978.9,1270.5L979.2,1272.5L979.4,1274.5L979.7,1276.5L979.9,1278.5L980.2,1280.5L980.4,1282.5L980.7,1284.5L980.9,1286.5L981.2,1288.4L981.4,1290.4L981.7,1292.4L982.0,1294.4L982.2,1296.4L982.5,1298.4L982.7,1300.4L983.0,1302.3L983.3,1304.3L983.5,1306.3L983.8,1308.3L984.1,1310.3L984.3,1312.3L984.6,1314.2L984.9,1316.2L985.2,1318.2L985.4,1320.2L985.7,1322.2L986.0,1324.2L986.3,1326.1L986.6,1328.1L986.9,1330.1L987.1,1332.1L987.4,1334.1L987.7,1336.0L988.0,1338.0L988.3,1340.0L988.6,1342.0L988.9,1343.9L989.2,1345.9L989.5,1347.9L989.8,1349.9L990.1,1351.8L990.4,1353.8L990.7,1355.8L991.0,1357.8L991.3,1359.7L991.6,1361.7L991.9,1363.7L992.3,1365.6L992.6,1367.6L992.9,1369.6L993.2,1371.6L993.5,1373.5L993.9,1375.5L994.2,1377.5L994.5,1379.4L994.8,1381.4L995.2,1383.4L995.5,1385.3L995.8,1387.3L996.2,1389.3L996.5,1391.2L996.9,1393.2L997.2,1395.1L997.5,1397.1L997.9,1399.1L998.2,1401.0L998.6,1403.0L998.9,1404.9L999.3,1406.9L999.7,1408.9L1000.0,1410.8L1000.4,1412.8L1000.8,1414.7L1001.1,1416.7L1001.5,1418.6L1001.9,1420.6L1002.2,1422.5L1002.6,1424.5L1003.0,1426.4L1003.4,1428.4L1003.8,1430.3L1004.1,1432.3L1004.5,1434.2L1004.9,1436.2L1005.3,1438.1L1005.7,1440.1L1006.1,1442.0L1006.5,1444.0L1006.9,1445.9L1007.3,1447.8L1007.7,1449.8L1008.1,1451.7L1008.6,1453.7L1009.0,1455.6L1009.4,1457.5L1009.8,1459.5L1010.2,1461.4L1010.7,1463.4L1011.1,1465.3L1011.5,1467.2L1012.0,1469.2L1012.4,1471.1L1012.8,1473.1L1013.3,1475.0L1013.7,1476.9L1014.2,1478.9L1014.6,1480.8L1015.1,1482.7L1015.5,1484.7L1016.0,1486.6L1016.4,1488.5L1016.9,1490.5L1017.4,1492.4L1017.8,1494.3L1018.3,1496.3L1018.8,1498.2L1019.3,1500.1L1019.7,1502.1L1020.2,1504.0L1020.7,1505.9L1021.2,1507.9L1021.7,1509.8L1022.2,1511.7L1022.7,1513.7L1023.2,1515.6L1023.7,1517.5L1024.2,1519.5L1024.7,1521.4L1025.2,1523.3L1025.7,1525.3L1026.2,1527.2L1026.7,1529.1L1027.2,1531.0L1027.8,1533.0L1028.3,1534.9L1028.8,1536.8L1029.4,1538.8L1029.9,1540.7L1030.4,1542.6L1031.0,1544.6L1031.5,1546.5L1032.1,1548.4L1032.6,1550.4L1033.2,1552.3L1033.7,1554.2L1034.3,1556.2L1034.9,1558.1L1035.4,1560.0L1036.0,1562.0L1036.6,1563.9L1037.1,1565.8L1037.7,1567.8L1038.3,1569.7L1038.9,1571.6L1039.5,1573.6L1040.1,1575.5L1040.7,1577.4L1041.2,1579.4L1041.8,1581.3L1042.5,1583.2L1043.1,1585.2L1043.7,1587.1L1044.3,1589.1L1044.9,1591.0L1045.5,1592.9L1046.1,1594.9L1046.8,1596.8L1047.4,1598.7L1048.1,1600.7L1048.7,1602.6L1049.4,1604.5L1050.0,1606.4L1050.7,1608.4L1051.4,1610.3L1052.1,1612.2L1052.8,1614.1L1053.5,1616.0L1054.2,1617.9L1054.9,1619.8L1055.6,1621.7L1056.4,1623.6L1057.2,1625.5L1057.9,1627.4L1058.7,1629.3L1059.5,1631.1L1060.3,1633.0L1061.1,1634.9L1062.0,1636.7L1062.8,1638.6L1063.7,1640.4L1064.5,1642.2L1065.4,1644.0L1066.3,1645.8L1067.3,1647.7L1068.2,1649.4L1069.2,1651.2L1070.1,1653.0L1071.1,1654.8L1072.1,1656.5L1073.2,1658.3L1074.2,1660.0L1075.3,1661.7L1076.4,1663.5L1077.5,1665.2L1078.6,1666.9L1079.7,1668.5L1080.9,1670.2L1082.1,1671.9L1083.3,1673.5L1084.5,1675.1L1085.8,1676.7L1087.1,1678.3L1088.4,1679.9L1089.7,1681.5L1091.1,1683.1L1092.4,1684.6L1093.8,1686.2L1095.3,1687.7L1096.7,1689.2L1098.2,1690.6L1099.7,1692.1L1101.2,1693.5L1102.7,1694.9L1104.3,1696.3L1105.9,1697.6L1107.5,1698.9L1109.1,1700.2L1110.7,1701.4L1112.4,1702.5L1114.0,1703.6L1115.7,1704.7L1117.4,1705.7L1119.1,1706.6L1120.8,1707.5L1122.5,1708.3L1124.2,1709.0L1125.9,1709.7L1127.7,1710.3L1129.4,1710.8L1131.2,1711.2L1132.9,1711.5L1134.6,1711.8L1136.4,1711.9L1138.1,1712.0L1139.9,1712.0L1141.6,1711.9L1143.3,1711.7L1145.1,1711.5L1146.8,1711.1L1148.6,1710.7L1150.3,1710.3L1152.0,1709.7L1153.7,1709.1L1155.5,1708.4L1157.2,1707.7L1158.9,1706.9L1160.6,1706.0L1162.3,1705.1L1164.0,1704.1L1165.7,1703.0L1167.4,1702.0L1169.1,1700.8L1170.8,1699.6L1172.5,1698.4L1174.2,1697.1L1175.8,1695.8L1177.5,1694.4L1179.1,1693.0L1180.8,1691.6L1182.4,1690.1L1184.0,1688.6L1185.7,1687.1L1187.3,1685.5L1188.9,1683.9L1190.5,1682.3L1192.0,1680.7L1193.6,1679.0L1195.2,1677.3L1196.7,1675.6L1198.2,1673.9L1199.8,1672.2L1201.3,1670.5L1202.8,1668.7L1204.3,1667.0L1205.7,1665.2L1207.2,1663.5L1208.6,1661.8L1210.1,1660.0L1211.5,1658.3L1212.9,1656.5L1214.3,1654.8L1215.7,1653.1L1217.0,1651.3L1218.4,1649.6L1219.7,1647.9L1221.0,1646.2L1222.3,1644.5L1223.6,1642.8L1224.9,1641.1L1226.2,1639.4L1227.5,1637.7L1228.7,1636.0L1229.9,1634.3L1231.2,1632.7L1232.4,1631.0L1233.6,1629.3L1234.8,1627.6L1236.0,1626.0L1237.1,1624.3L1238.3,1622.6L1239.4,1621.0L1240.6,1619.3L1241.7,1617.7L1242.8,1616.0L1243.9,1614.4L1245.0,1612.7L1246.1,1611.1L1247.2,1609.4L1248.3,1607.8L1249.4,1606.1L1250.4,1604.5L1251.5,1602.8L1252.5,1601.2L1253.6,1599.6L1254.6,1597.9L1255.6,1596.3L1256.6,1594.6L1257.6,1593.0L1258.6,1591.4L1259.6,1589.7L1260.6,1588.1L1261.6,1586.4L1262.6,1584.8L1263.6,1583.1L1264.5,1581.5L1265.5,1579.9L1266.5,1578.2L1267.4,1576.6L1268.4,1574.9L1269.3,1573.3L1270.3,1571.6L1271.2,1569.9L1272.1,1568.3L1273.1,1566.6L1274.0,1565.0L1274.9,1563.3L1275.8,1561.6L1276.8,1560.0L1277.7,1558.3L1278.6,1556.6L1279.5,1554.9L1280.4,1553.2L1281.3,1551.6L1282.2,1549.9L1283.1,1548.2L1284.1,1546.5L1285.0,1544.8L1285.9,1543.1L1286.8,1541.4L1287.7,1539.6L1288.6,1537.9L1289.5,1536.2L1290.4,1534.5L1291.3,1532.8L1292.2,1531.0L1293.1,1529.3L1294.0,1527.6L1294.9,1525.8L1295.8,1524.1L1296.7,1522.3L1297.5,1520.6L1298.4,1518.8L1299.3,1517.1L1300.2,1515.3L1301.1,1513.5L1302.0,1511.8L1302.9,1510.0L1303.7,1508.2L1304.6,1506.4L1305.5,1504.7L1306.4,1502.9L1307.3,1501.1L1308.1,1499.3L1309.0,1497.5L1309.9,1495.7L1310.8,1493.9L1311.6,1492.1L1312.5,1490.3L1313.4,1488.5L1314.2,1486.7L1315.1,1484.9L1315.9,1483.1L1316.8,1481.3L1317.7,1479.5L1318.5,1477.7L1319.4,1475.9L1320.2,1474.0L1321.1,1472.2L1321.9,1470.4L1322.8,1468.6L1323.6,1466.7L1324.4,1464.9L1325.3,1463.1L1326.1,1461.2L1327.0,1459.4L1327.8,1457.6L1328.6,1455.7L1329.5,1453.9L1330.3,1452.0L1331.1,1450.2L1331.9,1448.3L1332.8,1446.5L1333.6,1444.7L1334.4,1442.8L1335.2,1441.0L1336.0,1439.1L1336.9,1437.2L1337.7,1435.4L1338.5,1433.5L1339.3,1431.7L1340.1,1429.8L1340.9,1428.0L1341.7,1426.1L1342.5,1424.2L1343.3,1422.4L1344.1,1420.5L1344.9,1418.6L1345.6,1416.8L1346.4,1414.9L1347.2,1413.0L1348.0,1411.2L1348.8,1409.3L1349.6,1407.4L1350.3,1405.6L1351.1,1403.7L1351.9,1401.8L1352.6,1400.0L1353.4,1398.1L1354.2,1396.2L1354.9,1394.3L1355.7,1392.5L1356.4,1390.6L1357.2,1388.7L1357.9,1386.8L1358.7,1385.0L1359.4,1383.1L1360.1,1381.2L1360.9,1379.3L1361.6,1377.5L1362.4,1375.6L1363.1,1373.7L1363.8,1371.8L1364.5,1370.0L1365.3,1368.1L1366.0,1366.2L1366.7,1364.3L1367.4,1362.5L1368.1,1360.6L1368.9,1358.7L1369.6,1356.8L1370.3,1354.9L1371.0,1353.1L1371.7,1351.2L1372.4,1349.3L1373.1,1347.4L1373.8,1345.5L1374.5,1343.6L1375.2,1341.8L1375.9,1339.9L1376.6,1338.0L1377.3,1336.1L1377.9,1334.2L1378.6,1332.3L1379.3,1330.5L1380.0,1328.6L1380.7,1326.7L1381.3,1324.8L1382.0,1322.9L1382.7,1321.0L1383.4,1319.2L1384.0,1317.3L1384.7,1315.4L1385.4,1313.5L1386.0,1311.6L1386.7,1309.7L1387.4,1307.8L1388.0,1305.9L1388.7,1304.1L1389.3,1302.2L1390.0,1300.3L1390.6,1298.4L1391.3,1296.5L1392.0,1294.6L1392.6,1292.7L1393.2,1290.8L1393.9,1288.9L1394.5,1287.0L1395.2,1285.2L1395.8,1283.3L1396.5,1281.4L1397.1,1279.5L1397.7,1277.6L1398.4,1275.7L1399.0,1273.8L1399.6,1271.9L1400.3,1270.0L1400.9,1268.1L1401.5,1266.2L1402.2,1264.3L1402.8,1262.4L1403.4,1260.6L1404.0,1258.7L1404.7,1256.8L1405.3,1254.9L1405.9,1253.0L1406.5,1251.1L1407.2,1249.2L1407.8,1247.3L1408.4,1245.4L1409.0,1243.5L1409.6,1241.6L1410.2,1239.7L1410.8,1237.8L1411.5,1235.9L1412.1,1234.0L1412.7,1232.1L1413.3,1230.2L1413.9,1228.3L1414.5,1226.4L1415.1,1224.5L1415.7,1222.6L1416.3,1220.7L1416.9,1218.8L1417.5,1216.9L1418.1,1215.0L1418.7,1213.1L1419.3,1211.2L1419.9,1209.3L1420.5,1207.4L1421.1,1205.5L1421.7,1203.6L1422.3,1201.7L1422.9,1199.8L1423.5,1197.9L1424.1,1196.0L1424.7,1194.1L1425.3,1192.2L1425.9,1190.3L1426.5,1188.4L1427.1,1186.5L1427.7,1184.6L1428.3,1182.7L1428.9,1180.8L1429.5,1178.9L1430.1,1177.0L1430.6,1175.1L1431.2,1173.2L1431.8,1171.3L1432.4,1169.4L1433.0,1167.5L1433.6,1165.6L1434.2,1163.7L1434.8,1161.8L1435.4,1159.9L1435.9,1158.0L1436.5,1156.1L1437.1,1154.2L1437.7,1152.3L1438.3,1150.4L1438.9,1148.5L1439.5,1146.6L1440.1,1144.7L1440.6,1142.8L1441.2,1140.9L1441.8,1139.0L1442.4,1137.1L1443.0,1135.2L1443.6,1133.2L1444.2,1131.3L1444.8,1129.4L1445.4,1127.5L1445.9,1125.6L1446.5,1123.7L1447.1,1121.8L1447.7,1119.9L1448.3,1118.0L1448.9,1116.1L1449.5,1114.2L1450.1,1112.3L1450.6,1110.4L1451.2,1108.5L1451.8,1106.6L1452.4,1104.7L1453.0,1102.8L1453.6,1100.9L1454.2,1099.0L1454.8,1097.1L1455.4,1095.1L1456.0,1093.2L1456.6,1091.3L1457.2,1089.4L1457.7,1087.5L1458.3,1085.6L1458.9,1083.7L1459.5,1081.8L1460.1,1079.9L1460.7,1078.0L1461.3,1076.1L1461.9,1074.2L1462.5,1072.3L1463.1,1070.4L1463.7,1068.5L1464.3,1066.6L1464.9,1064.7L1465.5,1062.8L1466.1,1060.8L1466.7,1058.9L1467.3,1057.0L1467.9,1055.1L1468.5,1053.2L1469.2,1051.3L1469.8,1049.4L1470.4,1047.5L1471.0,1045.6L1471.6,1043.7L1472.2,1041.8L1472.8,1039.9L1473.4,1038.0L1474.0,1036.1L1474.7,1034.2L1475.3,1032.3L1475.9,1030.4L1476.5,1028.5L1477.1,1026.5L1477.7,1024.6L1478.4,1022.7L1479.0,1020.8L1479.6,1018.9L1480.2,1017.0L1480.9,1015.1L1481.5,1013.2L1482.1,1011.3L1482.8,1009.4L1483.4,1007.5L1484.0,1005.6L1484.7,1003.7L1485.3,1001.8L1485.9,999.9L1486.6,998.0L1487.2,996.1L1487.8,994.2L1488.5,992.3L1489.1,990.4L1489.8,988.5L1490.4,986.6L1491.1,984.7L1491.7,982.8L1492.4,980.9L1493.0,979.0L1493.7,977.1L1494.3,975.2L1495.0,973.3L1495.6,971.4L1496.3,969.5L1497.0,967.6L1497.6,965.7L1498.3,963.8L1499.0,962.0L1499.6,960.1L1500.3,958.2L1501.0,956.3L1501.6,954.4L1502.3,952.6L1503.0,950.7L1503.6,948.8L1504.3,946.9L1505.0,945.1L1505.7,943.2L1506.4,941.3L1507.0,939.5L1507.7,937.6L1508.4,935.8L1509.1,933.9L1509.8,932.1L1510.5,930.2L1511.2,928.4L1511.9,926.5L1512.6,924.7L1513.3,922.8L1514.0,921.0L1514.7,919.2L1515.4,917.4L1516.1,915.5L1516.8,913.7L1517.5,911.9L1518.2,910.1L1518.9,908.2L1519.7,906.4L1520.4,904.6L1521.1,902.7L1521.9,900.9L1522.6,899.0L1523.4,897.2L1524.1,895.3L1524.9,893.4L1525.7,891.5L1526.5,889.6L1527.3,887.7L1528.1,885.8L1528.9,883.8L1529.7,881.9L1530.5,879.9L1531.4,877.9L1532.2,875.9L1533.1,873.9L1534.0,871.9L1534.9,869.8L1535.8,867.7L1536.7,865.6L1537.6,863.5L1538.6,861.3L1539.5,859.1L1540.5,856.9L1541.5,854.7L1542.5,852.5L1543.5,850.4L1544.6,848.2L1545.6,846.1L1546.7,844.0L1547.7,841.9L1548.8,839.9L1549.9,837.9L1551.0,836.0L1552.1,834.1L1553.3,832.4L1554.4,830.7L1555.6,829.1L1556.7,827.6L1557.9,826.2L1559.1,825.0L1560.3,823.8L1561.5,822.8L1562.7,821.9L1563.9,821.1L1565.1,820.5L1566.4,820.1L1567.6,819.8L1568.9,819.7L1570.2,819.8L1571.4,820.0L1572.7,820.4L1574.0,820.9L1575.3,821.6L1576.6,822.4L1577.8,823.4L1579.1,824.4L1580.4,825.6L1581.7,826.9L1583.0,828.4L1584.3,829.9L1585.5,831.5L1586.8,833.2L1588.0,834.9L1589.3,836.8L1590.5,838.7L1591.7,840.6L1592.9,842.6L1594.1,844.7L1595.3,846.8L1596.4,848.9L1597.6,851.1L1598.7,853.3L1599.8,855.4L1600.9,857.6L1601.9,859.8L1603.0,862.0L1604.0,864.2L1604.9,866.3L1605.9,868.4L1606.8,870.5L1607.7,872.6L1608.6,874.7L1609.5,876.8L1610.3,878.8L1611.2,880.9L1612.0,882.9L1612.8,884.9L1613.6,886.9L1614.3,888.9L1615.1,890.9L1615.8,892.8L1616.6,894.8L1617.3,896.7L1618.0,898.6L1618.7,900.5L1619.4,902.4L1620.1,904.3L1620.8,906.2L1621.5,908.1L1622.2,910.0L1622.8,911.8L1623.5,913.7L1624.2,915.5L1624.9,917.4L1625.6,919.2L1626.3,921.1L1627.0,922.9L1627.7,924.7L1628.4,926.5L1629.1,928.3L1629.8,930.1L1630.5,932.0L1631.2,933.8L1631.9,935.6L1632.7,937.4L1633.4,939.2L1634.1,941.0L1634.8,942.8L1635.5,944.6L1636.2,946.4L1636.9,948.2L1637.6,950.0L1638.3,951.8L1639.0,953.6L1639.7,955.4L1640.4,957.2L1641.0,959.1L1641.7,960.9L1642.3,962.7L1643.0,964.6L1643.6,966.4L1644.3,968.3L1644.9,970.1L1645.5,972.0L1646.1,973.8L1646.7,975.7L1647.3,977.6L1647.9,979.4L1648.5,981.3L1649.1,983.2L1649.7,985.1L1650.2,987.0L1650.8,988.9L1651.4,990.8L1651.9,992.7L1652.5,994.6L1653.0,996.5L1653.5,998.4L1654.1,1000.3L1654.6,1002.3L1655.1,1004.2L1655.6,1006.1L1656.1,1008.0L1656.6,1010.0L1657.1,1011.9L1657.6,1013.9L1658.1,1015.8L1658.6,1017.7L1659.1,1019.7L1659.6,1021.6L1660.0,1023.6L1660.5,1025.5L1661.0,1027.5L1661.4,1029.5L1661.9,1031.4L1662.4,1033.4L1662.8,1035.4L1663.3,1037.3L1663.7,1039.3L1664.2,1041.3L1664.6,1043.2L1665.0,1045.2L1665.5,1047.2L1665.9,1049.2L1666.4,1051.1L1666.8,1053.1L1667.2,1055.1L1667.6,1057.1L1668.1,1059.1L1668.5,1061.0L1668.9,1063.0L1669.3,1065.0L1669.8,1067.0L1670.2,1069.0L1670.6,1071.0L1671.0,1072.9L1671.4,1074.9L1671.8,1076.9L1672.3,1078.9L1672.7,1080.9L1673.1,1082.9L1673.5,1084.8L1673.9,1086.8L1674.3,1088.8L1674.7,1090.8L1675.2,1092.8L1675.6,1094.8L1676.0,1096.7L1676.4,1098.7L1676.8,1100.7L1677.2,1102.7L1677.7,1104.7L1678.1,1106.6L1678.5,1108.6L1678.9,1110.6L1679.4,1112.6L1679.8,1114.5L1680.2,1116.5L1680.6,1118.5L1681.1,1120.4L1681.5,1122.4L1681.9,1124.3L1682.4,1126.3L1682.8,1128.3L1683.3,1130.2L1683.7,1132.2L1684.2,1134.1L1684.6,1136.1L1685.1,1138.0L1685.5,1140.0L1686.0,1141.9L1686.4,1143.8L1686.9,1145.8L1687.4,1147.7L1687.9,1149.6L1688.3,1151.5L1688.8,1153.5L1689.3,1155.4L1689.8,1157.3L1690.3,1159.2L1690.8,1161.1L1691.3,1163.0L1691.8,1164.9L1692.3,1166.8L1692.8,1168.7L1693.3,1170.6L1693.9,1172.5L1694.4,1174.4L1694.9,1176.3L1695.4,1178.2L1696.0,1180.1L1696.5,1182.0L1697.0,1183.9L1697.6,1185.8L1698.1,1187.7L1698.7,1189.5L1699.2,1191.4L1699.8,1193.3L1700.4,1195.2L1700.9,1197.1L1701.5,1198.9L1702.1,1200.8L1702.6,1202.7L1703.2,1204.6L1703.8,1206.4L1704.4,1208.3L1705.0,1210.2L1705.6,1212.1L1706.2,1213.9L1706.8,1215.8L1707.4,1217.7L1708.0,1219.5L1708.6,1221.4L1709.2,1223.3L1709.8,1225.2L1710.4,1227.0L1711.0,1228.9L1711.7,1230.8L1712.3,1232.7L1712.9,1234.6L1713.5,1236.4L1714.2,1238.3L1714.8,1240.2L1715.5,1242.1L1716.1,1244.0L1716.8,1245.8L1717.4,1247.7L1718.1,1249.6L1718.7,1251.5L1719.4,1253.4L1720.0,1255.3L1720.7,1257.2L1721.4,1259.1L1722.1,1261.0L1722.7,1262.9L1723.4,1264.8L1724.1,1266.7L1724.8,1268.6L1725.5,1270.5L1726.2,1272.4L1726.9,1274.3L1727.6,1276.2L1728.3,1278.1L1729.0,1280.0L1729.7,1281.9L1730.4,1283.8L1731.1,1285.7L1731.9,1287.6L1732.6,1289.5L1733.3,1291.4L1734.1,1293.3L1734.8,1295.1L1735.6,1297.0L1736.4,1298.9L1737.1,1300.8L1737.9,1302.7L1738.7,1304.6L1739.5,1306.5L1740.3,1308.3L1741.1,1310.2L1741.9,1312.1L1742.7,1313.9L1743.5,1315.8L1744.3,1317.7L1745.1,1319.5L1746.0,1321.4L1746.8,1323.2L1747.7,1325.1L1748.5,1326.9L1749.4,1328.7L1750.3,1330.6L1751.2,1332.4L1752.1,1334.2L1753.0,1336.0L1753.9,1337.8L1754.8,1339.6L1755.7,1341.4L1756.6,1343.2L1757.6,1345.0L1758.5,1346.8L1759.5,1348.6L1760.4,1350.3L1761.4,1352.1L1762.4,1353.8L1763.4,1355.6L1764.4,1357.3L1765.4,1359.0L1766.4,1360.8L1767.4,1362.5L1768.5,1364.2L1769.5,1365.9L1770.6,1367.6L1771.6,1369.2L1772.7,1370.9L1773.8,1372.6L1774.9,1374.2L1776.0,1375.9L1777.1,1377.5L1778.3,1379.2L1779.4,1380.8L1780.6,1382.4L1781.7,1384.0L1782.9,1385.6L1784.1,1387.1L1785.3,1388.7L1786.5,1390.3L1787.7,1391.8L1789.0,1393.3L1790.2,1394.9L1791.5,1396.4L1792.7,1397.9L1794.0,1399.4L1795.3,1400.8L1796.6,1402.3L1797.9,1403.8L1799.3,1405.2L1800.6,1406.6L1802.0,1408.1L1803.3,1409.5L1804.7,1410.8L1806.1,1412.2L1807.5,1413.6L1808.9,1414.9L1810.4,1416.3L1811.8,1417.6L1813.3,1418.9L1814.8,1420.2L1816.3,1421.5L1817.8,1422.7L1819.3,1424.0L1820.8,1425.2L1822.4,1426.5L1823.9,1427.7L1825.5,1428.9L1827.1,1430.0L1828.7,1431.2L1830.3,1432.3L1832.0,1433.5L1833.6,1434.6L1835.3,1435.7L1837.0,1436.8L1838.6,1437.8L1840.3,1438.9L1842.1,1439.9L1843.8,1440.9L1845.5,1441.9L1847.3,1442.9L1849.0,1443.9L1850.8,1444.8L1852.6,1445.8L1854.4,1446.7L1856.2,1447.6L1858.0,1448.5L1859.8,1449.3L1861.6,1450.2L1863.5,1451.0L1865.3,1451.8L1867.2,1452.6L1869.0,1453.4L1870.9,1454.1L1872.8,1454.9L1874.7,1455.6L1876.6,1456.3L1878.5,1457.0L1880.4,1457.6L1882.3,1458.3L1884.2,1458.9L1886.2,1459.5L1888.1,1460.1L1890.0,1460.7L1892.0,1461.2L1893.9,1461.8L1895.9,1462.3L1897.8,1462.8L1899.8,1463.2L1901.8,1463.7L1903.7,1464.1L1905.7,1464.5L1907.7,1464.9L1909.7,1465.3L1911.6,1465.7L1913.6,1466.0L1915.6,1466.3L1917.6,1466.6L1919.6,1466.9L1921.6,1467.1L1923.6,1467.3L1925.6,1467.5L1927.6,1467.7L1929.5,1467.9L1931.5,1468.0L1933.5,1468.2L1935.5,1468.3L1937.5,1468.4L1939.5,1468.4L1941.5,1468.5L1943.5,1468.5L1945.5,1468.5L1947.5,1468.6L1949.5,1468.6L1951.5,1468.5L1953.5,1468.5L1955.5,1468.5L1957.5,1468.4L1959.5,1468.4L1961.5,1468.3L1963.5,1468.2L1965.5,1468.1L1967.5,1468.0L1969.5,1467.9L1971.5,1467.8L1973.5,1467.6L1975.5,1467.5L1977.5,1467.4L1979.5,1467.2L1981.5,1467.1L1983.5,1467.0L1985.5,1466.8L1987.5,1466.6L1989.5,1466.5L1991.5,1466.3L1993.5,1466.2L1995.5,1466.0L1997.4,1465.9L1999.4,1465.7L2001.4,1465.6L2003.4,1465.4L2005.4,1465.3L2007.4,1465.1L2009.4,1465.0L2011.4,1464.9L2013.4,1464.7L2015.4,1464.6L2017.4,1464.5L2019.4,1464.4L2021.4,1464.3L2023.4,1464.2L2025.4,1464.1L2027.4,1464.0L2029.4,1464.0L2031.4,1463.9L2033.3,1463.9L2035.3,1463.9L2037.3,1463.9L2039.3,1463.9L2041.3,1463.9L2043.3,1463.9L2045.3,1464.0L2047.3,1464.0L2049.2,1464.1L2051.2,1464.2L2053.2,1464.3L2055.2,1464.4L2057.2,1464.6L2059.2,1464.7L2061.1,1464.9L2063.1,1465.1L2065.1,1465.3L2067.1,1465.6L2069.1,1465.8L2071.0,1466.1L2073.0,1466.3L2075.0,1466.6L2076.9,1466.9L2078.9,1467.2L2080.9,1467.5L2082.9,1467.9L2084.8,1468.2L2086.8,1468.6L2088.8,1469.0L2090.7,1469.4L2092.7,1469.8L2094.6,1470.2L2096.6,1470.6L2098.6,1471.0L2100.5,1471.5L2102.5,1471.9L2104.4,1472.4L2106.4,1472.9L2108.3,1473.3L2110.3,1473.8L2112.2,1474.3L2114.2,1474.8L2116.1,1475.4L2118.1,1475.9L2120.0,1476.4L2121.9,1477.0L2123.9,1477.5L2125.8,1478.1L2127.8,1478.6L2129.7,1479.2L2131.6,1479.8L2133.6,1480.3L2135.5,1480.9L2137.4,1481.5L2139.3,1482.1L2141.3,1482.7L2143.2,1483.3L2145.1,1483.9L2147.0,1484.5L2148.9,1485.1L2150.8,1485.7L2152.8,1486.4L2154.7,1487.0L2156.6,1487.6L2158.5,1488.2L2160.4,1488.9L2162.3,1489.5L2164.2,1490.2L2166.1,1490.8L2168.0,1491.4L2169.9,1492.1L2171.8,1492.8L2173.7,1493.4L2175.5,1494.1L2177.4,1494.7L2179.3,1495.4L2181.2,1496.1L2183.1,1496.8L2185.0,1497.4L2186.9,1498.1L2188.7,1498.8L2190.6,1499.5L2192.5,1500.2L2194.4,1500.9L2196.2,1501.6L2198.1,1502.3L2200.0,1503.0L2201.8,1503.7L2203.7,1504.4L2205.6,1505.1L2207.4,1505.9L2209.3,1506.6L2211.1,1507.3L2213.0,1508.0L2214.9,1508.8L2216.7,1509.5L2218.6,1510.2L2220.4,1511.0L2222.3,1511.7L2224.1,1512.5L2226.0,1513.2L2227.8,1514.0L2229.7,1514.7L2231.5,1515.5L2233.3,1516.3L2235.2,1517.0L2237.0,1517.8L2238.9,1518.6L2240.7,1519.3L2242.5,1520.1L2244.4,1520.9L2246.2,1521.7L2248.0,1522.5L2249.9,1523.3L2251.7,1524.1L2253.5,1524.8L2255.3,1525.6L2257.2,1526.4L2259.0,1527.2L2260.8,1528.1L2262.6,1528.9L2264.5,1529.7L2266.3,1530.5L2268.1,1531.3L2269.9,1532.1L2271.7,1532.9L2273.5,1533.8L2275.4,1534.6L2277.2,1535.4L2279.0,1536.3L2280.8,1537.1L2282.6,1537.9L2284.4,1538.8L2286.2,1539.6L2288.0,1540.5L2289.8,1541.3L2291.6,1542.2L2293.4,1543.0L2295.3,1543.9L2297.1,1544.7L2298.9,1545.6L2300.7,1546.5L2302.5,1547.3L2304.3,1548.2L2306.1,1549.1L2307.9,1549.9L2309.6,1550.8L2311.4,1551.7L2313.2,1552.6L2315.0,1553.4L2316.8,1554.3L2318.6,1555.2L2320.4,1556.1L2322.2,1557.0L2324.0,1557.9L2325.8,1558.8L2327.6,1559.7L2329.4,1560.6L2331.1,1561.5L2332.9,1562.4L2334.7,1563.3L2336.5,1564.2L2338.3,1565.1L2340.1,1566.0L2341.9,1566.9L2343.6,1567.9L2345.4,1568.8L2347.2,1569.7L2349.0,1570.6L2350.8,1571.5L2352.5,1572.5L2354.3,1573.4L2356.1,1574.3L2357.9,1575.3L2359.7,1576.2L2361.4,1577.1L2363.2,1578.1L2365.0,1579.0" fill="none" stroke="#1E5F34" stroke-width="10" stroke-linejoin="round" stroke-linecap="butt"/>
<path d="M185.0,1599.0L187.0,1599.1L189.0,1599.2L191.1,1599.3L193.1,1599.3L195.1,1599.4L197.1,1599.5L199.1,1599.6L201.2,1599.7L203.2,1599.7L205.2,1599.8L207.2,1599.9L209.2,1600.0L211.2,1600.0L213.2,1600.1L215.2,1600.2L217.2,1600.2L219.3,1600.3L221.3,1600.4L223.3,1600.4L225.3,1600.5L227.3,1600.6L229.3,1600.6L231.3,1600.7L233.3,1600.7L235.3,1600.8L237.3,1600.9L239.3,1600.9L241.3,1601.0L243.3,1601.0L245.2,1601.1L247.2,1601.1L249.2,1601.2L251.2,1601.3L253.2,1601.3L255.2,1601.4L257.2,1601.4L259.2,1601.5L261.2,1601.5L263.2,1601.6L265.2,1601.6L267.2,1601.7L269.1,1601.7L271.1,1601.8L273.1,1601.8L275.1,1601.9L277.1,1601.9L279.1,1602.0L281.1,1602.0L283.0,1602.1L285.0,1602.1L287.0,1602.2L289.0,1602.2L291.0,1602.3L293.0,1602.3L295.0,1602.4L296.9,1602.4L298.9,1602.5L300.9,1602.5L302.9,1602.6L304.9,1602.6L306.9,1602.7L308.8,1602.7L310.8,1602.8L312.8,1602.8L314.8,1602.9L316.8,1603.0L318.8,1603.0L320.7,1603.1L322.7,1603.1L324.7,1603.2L326.7,1603.2L328.7,1603.3L330.7,1603.4L332.7,1603.4L334.6,1603.5L336.6,1603.6L338.6,1603.6L340.6,1603.7L342.6,1603.8L344.6,1603.8L346.6,1603.9L348.5,1604.0L350.5,1604.0L352.5,1604.1L354.5,1604.2L356.5,1604.3L358.5,1604.3L360.5,1604.4L362.5,1604.5L364.5,1604.6L366.5,1604.7L368.4,1604.7L370.4,1604.8L372.4,1604.9L374.4,1605.0L376.4,1605.1L378.4,1605.2L380.4,1605.3L382.4,1605.4L384.4,1605.5L386.4,1605.6L388.4,1605.7L390.4,1605.8L392.4,1605.9L394.4,1606.0L396.4,1606.1L398.4,1606.2L400.4,1606.3L402.4,1606.4L404.4,1606.6L406.5,1606.7L408.5,1606.8L410.5,1606.9L412.5,1607.0L414.5,1607.2L416.5,1607.3L418.5,1607.4L420.5,1607.6L422.6,1607.7L424.6,1607.9L426.6,1608.0L428.6,1608.1L430.6,1608.3L432.7,1608.4L434.7,1608.6L436.7,1608.8L438.8,1608.9L440.8,1609.1L442.8,1609.2L444.8,1609.4L446.9,1609.6L448.9,1609.8L450.9,1609.9L453.0,1610.1L455.0,1610.3L457.0,1610.5L459.1,1610.7L461.1,1611.0L463.1,1611.2L465.1,1611.4L467.1,1611.7L469.1,1611.9L471.1,1612.2L473.1,1612.5L475.1,1612.8L477.1,1613.1L479.0,1613.5L481.0,1613.8L482.9,1614.2L484.9,1614.6L486.8,1615.0L488.7,1615.5L490.6,1615.9L492.5,1616.4L494.3,1616.9L496.2,1617.4L498.0,1618.0L499.9,1618.5L501.7,1619.2L503.5,1619.8L505.3,1620.4L507.0,1621.1L508.8,1621.8L510.5,1622.5L512.3,1623.3L514.0,1624.1L515.7,1624.9L517.4,1625.7L519.1,1626.6L520.8,1627.4L522.5,1628.3L524.2,1629.3L525.9,1630.2L527.6,1631.2L529.2,1632.2L530.9,1633.2L532.6,1634.2L534.2,1635.3L535.9,1636.4L537.6,1637.5L539.3,1638.7L540.9,1639.8L542.6,1641.0L544.3,1642.2L546.0,1643.5L547.7,1644.7L549.4,1646.0L551.1,1647.3L552.8,1648.6L554.6,1650.0L556.3,1651.3L558.1,1652.7L559.8,1654.1L561.6,1655.5L563.4,1656.9L565.2,1658.4L567.0,1659.8L568.9,1661.2L570.8,1662.7L572.6,1664.2L574.5,1665.6L576.5,1667.0L578.4,1668.4L580.3,1669.7L582.2,1671.0L584.1,1672.1L586.0,1673.2L587.8,1674.2L589.7,1675.0L591.5,1675.7L593.2,1676.2L595.0,1676.6L596.7,1676.9L598.4,1677.0L600.0,1677.0L601.6,1676.9L603.2,1676.6L604.7,1676.2L606.3,1675.8L607.7,1675.2L609.2,1674.5L610.6,1673.7L612.0,1672.8L613.4,1671.8L614.7,1670.7L616.0,1669.6L617.3,1668.3L618.5,1667.0L619.7,1665.6L620.9,1664.2L622.1,1662.7L623.2,1661.1L624.3,1659.5L625.4,1657.8L626.4,1656.1L627.5,1654.3L628.4,1652.5L629.4,1650.7L630.3,1648.8L631.2,1646.9L632.1,1645.0L633.0,1643.0L633.8,1641.1L634.6,1639.1L635.4,1637.2L636.1,1635.2L636.8,1633.3L637.5,1631.3L638.2,1629.3L638.9,1627.4L639.5,1625.4L640.1,1623.4L640.7,1621.5L641.3,1619.5L641.9,1617.5L642.4,1615.5L642.9,1613.6L643.4,1611.6L643.9,1609.6L644.4,1607.6L644.9,1605.6L645.4,1603.7L645.8,1601.7L646.3,1599.7L646.7,1597.7L647.2,1595.7L647.6,1593.7L648.0,1591.8L648.4,1589.8L648.8,1587.8L649.3,1585.8L649.7,1583.8L650.1,1581.9L650.5,1579.9L650.9,1577.9L651.3,1575.9L651.7,1574.0L652.1,1572.0L652.5,1570.0L652.9,1568.0L653.3,1566.1L653.7,1564.1L654.1,1562.1L654.5,1560.1L654.9,1558.2L655.3,1556.2L655.7,1554.2L656.1,1552.3L656.5,1550.3L656.9,1548.3L657.3,1546.4L657.7,1544.4L658.1,1542.4L658.5,1540.5L658.9,1538.5L659.2,1536.5L659.6,1534.6L660.0,1532.6L660.4,1530.6L660.8,1528.7L661.2,1526.7L661.5,1524.7L661.9,1522.8L662.3,1520.8L662.7,1518.8L663.1,1516.9L663.4,1514.9L663.8,1512.9L664.2,1511.0L664.5,1509.0L664.9,1507.1L665.3,1505.1L665.7,1503.1L666.0,1501.2L666.4,1499.2L666.7,1497.3L667.1,1495.3L667.5,1493.3L667.8,1491.4L668.2,1489.4L668.5,1487.4L668.9,1485.5L669.3,1483.5L669.6,1481.6L670.0,1479.6L670.3,1477.6L670.7,1475.7L671.0,1473.7L671.4,1471.8L671.7,1469.8L672.0,1467.8L672.4,1465.9L672.7,1463.9L673.1,1462.0L673.4,1460.0L673.7,1458.0L674.1,1456.1L674.4,1454.1L674.7,1452.1L675.1,1450.2L675.4,1448.2L675.7,1446.3L676.1,1444.3L676.4,1442.3L676.7,1440.4L677.0,1438.4L677.3,1436.4L677.7,1434.5L678.0,1432.5L678.3,1430.5L678.6,1428.6L678.9,1426.6L679.2,1424.6L679.5,1422.7L679.8,1420.7L680.1,1418.7L680.4,1416.8L680.8,1414.8L681.1,1412.8L681.4,1410.9L681.6,1408.9L681.9,1406.9L682.2,1405.0L682.5,1403.0L682.8,1401.0L683.1,1399.0L683.4,1397.1L683.7,1395.1L684.0,1393.1L684.3,1391.1L684.5,1389.2L684.8,1387.2L685.1,1385.2L685.4,1383.3L685.7,1381.3L685.9,1379.3L686.2,1377.3L686.5,1375.3L686.8,1373.4L687.0,1371.4L687.3,1369.4L687.6,1367.4L687.8,1365.5L688.1,1363.5L688.4,1361.5L688.6,1359.5L688.9,1357.6L689.2,1355.6L689.4,1353.6L689.7,1351.6L689.9,1349.6L690.2,1347.7L690.5,1345.7L690.7,1343.7L691.0,1341.7L691.2,1339.7L691.5,1337.7L691.7,1335.8L692.0,1333.8L692.2,1331.8L692.5,1329.8L692.7,1327.8L693.0,1325.9L693.2,1323.9L693.5,1321.9L693.7,1319.9L694.0,1317.9L694.2,1315.9L694.4,1314.0L694.7,1312.0L694.9,1310.0L695.2,1308.0L695.4,1306.0L695.6,1304.0L695.9,1302.0L696.1,1300.1L696.4,1298.1L696.6,1296.1L696.8,1294.1L697.1,1292.1L697.3,1290.1L697.5,1288.1L697.8,1286.2L698.0,1284.2L698.3,1282.2L698.5,1280.2L698.7,1278.2L699.0,1276.2L699.2,1274.2L699.4,1272.2L699.6,1270.3L699.9,1268.3L700.1,1266.3L700.3,1264.3L700.6,1262.3L700.8,1260.3L701.0,1258.3L701.3,1256.3L701.5,1254.3L701.7,1252.4L701.9,1250.4L702.2,1248.4L702.4,1246.4L702.6,1244.4L702.9,1242.4L703.1,1240.4L703.3,1238.4L703.5,1236.4L703.8,1234.4L704.0,1232.5L704.2,1230.5L704.5,1228.5L704.7,1226.5L704.9,1224.5L705.1,1222.5L705.4,1220.5L705.6,1218.5L705.8,1216.5L706.1,1214.6L706.3,1212.6L706.5,1210.6L706.7,1208.6L707.0,1206.6L707.2,1204.6L707.4,1202.6L707.7,1200.6L707.9,1198.6L708.1,1196.6L708.4,1194.7L708.6,1192.7L708.8,1190.7L709.1,1188.7L709.3,1186.7L709.5,1184.7L709.8,1182.7L710.0,1180.7L710.2,1178.7L710.5,1176.7L710.7,1174.8L710.9,1172.8L711.2,1170.8L711.4,1168.8L711.6,1166.8L711.9,1164.8L712.1,1162.8L712.4,1160.8L712.6,1158.8L712.8,1156.9L713.1,1154.9L713.3,1152.9L713.6,1150.9L713.8,1148.9L714.0,1146.9L714.3,1144.9L714.5,1142.9L714.8,1141.0L715.0,1139.0L715.3,1137.0L715.5,1135.0L715.8,1133.0L716.0,1131.0L716.3,1129.0L716.5,1127.0L716.8,1125.1L717.0,1123.1L717.3,1121.1L717.5,1119.1L717.8,1117.1L718.1,1115.1L718.3,1113.1L718.6,1111.2L718.8,1109.2L719.1,1107.2L719.4,1105.2L719.6,1103.2L719.9,1101.2L720.1,1099.3L720.4,1097.3L720.7,1095.3L721.0,1093.3L721.2,1091.3L721.5,1089.3L721.8,1087.4L722.0,1085.4L722.3,1083.4L722.6,1081.4L722.9,1079.4L723.2,1077.5L723.4,1075.5L723.7,1073.5L724.0,1071.5L724.3,1069.5L724.6,1067.6L724.9,1065.6L725.1,1063.6L725.4,1061.6L725.7,1059.6L726.0,1057.7L726.3,1055.7L726.6,1053.7L726.9,1051.7L727.2,1049.7L727.5,1047.8L727.8,1045.8L728.1,1043.8L728.4,1041.8L728.7,1039.9L729.0,1037.9L729.4,1035.9L729.7,1033.9L730.0,1032.0L730.3,1030.0L730.6,1028.0L730.9,1026.0L731.3,1024.1L731.6,1022.1L731.9,1020.1L732.2,1018.2L732.6,1016.2L732.9,1014.2L733.2,1012.2L733.5,1010.3L733.9,1008.3L734.2,1006.3L734.5,1004.4L734.9,1002.4L735.2,1000.4L735.6,998.5L735.9,996.5L736.2,994.5L736.6,992.6L736.9,990.6L737.3,988.6L737.6,986.7L738.0,984.7L738.3,982.7L738.6,980.8L739.0,978.8L739.3,976.9L739.7,974.9L740.0,972.9L740.4,971.0L740.7,969.0L741.1,967.0L741.5,965.1L741.8,963.1L742.2,961.2L742.5,959.2L742.9,957.2L743.2,955.3L743.6,953.3L743.9,951.4L744.3,949.4L744.6,947.5L745.0,945.5L745.4,943.5L745.7,941.6L746.1,939.6L746.4,937.7L746.8,935.7L747.1,933.8L747.5,931.8L747.8,929.9L748.2,927.9L748.6,926.0L748.9,924.0L749.3,922.1L749.6,920.1L750.0,918.2L750.3,916.2L750.7,914.3L751.0,912.3L751.4,910.4L751.8,908.4L752.1,906.5L752.5,904.5L752.8,902.6L753.2,900.6L753.5,898.7L753.9,896.7L754.2,894.8L754.6,892.8L754.9,890.9L755.3,889.0L755.6,887.0L755.9,885.1L756.3,883.1L756.6,881.2L757.0,879.2L757.3,877.3L757.7,875.4L758.0,873.4L758.4,871.5L758.7,869.5L759.1,867.6L759.5,865.6L759.8,863.7L760.2,861.7L760.6,859.7L761.1,857.7L761.5,855.8L762.0,853.8L762.4,851.8L762.9,849.7L763.5,847.7L764.0,845.7L764.6,843.6L765.2,841.6L765.8,839.5L766.4,837.4L767.1,835.3L767.8,833.2L768.6,831.1L769.4,828.9L770.2,826.8L771.1,824.6L772.0,822.4L772.9,820.2L773.9,817.9L774.9,815.7L775.9,813.5L777.0,811.3L778.1,809.2L779.3,807.1L780.4,805.1L781.6,803.2L782.8,801.3L784.0,799.6L785.2,797.9L786.5,796.4L787.7,795.0L789.0,793.7L790.2,792.6L791.5,791.7L792.8,790.9L794.0,790.4L795.3,790.0L796.5,789.8L797.8,789.9L799.0,790.2L800.2,790.7L801.4,791.4L802.6,792.2L803.8,793.3L804.9,794.5L806.1,795.9L807.2,797.4L808.3,799.0L809.4,800.8L810.4,802.6L811.5,804.6L812.5,806.6L813.5,808.7L814.5,810.8L815.4,813.0L816.4,815.3L817.3,817.5L818.1,819.7L819.0,822.0L819.8,824.2L820.6,826.4L821.4,828.6L822.1,830.8L822.8,832.9L823.5,835.1L824.2,837.2L824.8,839.3L825.4,841.4L826.0,843.4L826.6,845.5L827.2,847.5L827.7,849.6L828.2,851.6L828.7,853.6L829.2,855.6L829.7,857.6L830.1,859.6L830.6,861.6L831.0,863.5L831.4,865.5L831.8,867.4L832.2,869.4L832.6,871.4L833.0,873.3L833.3,875.2L833.7,877.2L834.1,879.1L834.4,881.1L834.7,883.0L835.1,885.0L835.4,886.9L835.7,888.9L836.0,890.8L836.4,892.8L836.7,894.7L837.0,896.7L837.3,898.6L837.6,900.6L837.9,902.5L838.2,904.5L838.5,906.4L838.8,908.4L839.0,910.3L839.3,912.3L839.6,914.2L839.9,916.2L840.2,918.1L840.5,920.1L840.7,922.1L841.0,924.0L841.3,926.0L841.6,927.9L841.9,929.9L842.2,931.8L842.4,933.8L842.7,935.8L843.0,937.7L843.3,939.7L843.6,941.6L843.9,943.6L844.2,945.6L844.4,947.5L844.7,949.5L845.0,951.5L845.3,953.4L845.6,955.4L845.9,957.4L846.2,959.3L846.5,961.3L846.8,963.3L847.1,965.2L847.4,967.2L847.7,969.2L848.0,971.1L848.3,973.1L848.6,975.1L848.9,977.0L849.2,979.0L849.5,981.0L849.8,983.0L850.1,984.9L850.4,986.9L850.6,988.9L850.9,990.8L851.2,992.8L851.5,994.8L851.8,996.8L852.1,998.7L852.4,1000.7L852.7,1002.7L853.0,1004.7L853.3,1006.6L853.6,1008.6L853.8,1010.6L854.1,1012.6L854.4,1014.5L854.7,1016.5L855.0,1018.5L855.2,1020.5L855.5,1022.5L855.8,1024.4L856.1,1026.4L856.3,1028.4L856.6,1030.4L856.9,1032.4L857.1,1034.4L857.4,1036.3L857.6,1038.3L857.9,1040.3L858.2,1042.3L858.4,1044.3L858.7,1046.3L858.9,1048.2L859.2,1050.2L859.4,1052.2L859.6,1054.2L859.9,1056.2L860.1,1058.2L860.4,1060.2L860.6,1062.1L860.8,1064.1L861.1,1066.1L861.3,1068.1L861.5,1070.1L861.8,1072.1L862.0,1074.1L862.2,1076.1L862.4,1078.1L862.7,1080.0L862.9,1082.0L863.1,1084.0L863.3,1086.0L863.5,1088.0L863.8,1090.0L864.0,1092.0L864.2,1094.0L864.4,1096.0L864.6,1098.0L864.8,1100.0L865.0,1102.0L865.2,1103.9L865.4,1105.9L865.6,1107.9L865.8,1109.9L866.1,1111.9L866.3,1113.9L866.5,1115.9L866.7,1117.9L866.9,1119.9L867.1,1121.9L867.3,1123.9L867.5,1125.9L867.6,1127.9L867.8,1129.9L868.0,1131.9L868.2,1133.9L868.4,1135.9L868.6,1137.8L868.8,1139.8L869.0,1141.8L869.2,1143.8L869.4,1145.8L869.6,1147.8L869.8,1149.8L870.0,1151.8L870.2,1153.8L870.3,1155.8L870.5,1157.8L870.7,1159.8L870.9,1161.8L871.1,1163.8L871.3,1165.8L871.5,1167.8L871.7,1169.8L871.8,1171.8L872.0,1173.8L872.2,1175.8L872.4,1177.8L872.6,1179.8L872.8,1181.8L873.0,1183.8L873.2,1185.7L873.4,1187.7L873.5,1189.7L873.7,1191.7L873.9,1193.7L874.1,1195.7L874.3,1197.7L874.5,1199.7L874.7,1201.7L874.9,1203.7L875.1,1205.7L875.3,1207.7L875.4,1209.7L875.6,1211.7L875.8,1213.7L876.0,1215.7L876.2,1217.7L876.4,1219.7L876.6,1221.7L876.8,1223.7L877.0,1225.6L877.2,1227.6L877.4,1229.6L877.6,1231.6L877.8,1233.6L878.0,1235.6L878.2,1237.6L878.4,1239.6L878.6,1241.6L878.8,1243.6L879.0,1245.6L879.2,1247.6L879.4,1249.6L879.6,1251.6L879.9,1253.5L880.1,1255.5L880.3,1257.5L880.5,1259.5L880.7,1261.5L880.9,1263.5L881.1,1265.5L881.4,1267.5L881.6,1269.5L881.8,1271.4L882.0,1273.4L882.3,1275.4L882.5,1277.4L882.7,1279.4L882.9,1281.4L883.2,1283.4L883.4,1285.4L883.6,1287.3L883.9,1289.3L884.1,1291.3L884.4,1293.3L884.6,1295.3L884.8,1297.3L885.1,1299.2L885.3,1301.2L885.6,1303.2L885.8,1305.2L886.1,1307.2L886.3,1309.2L886.6,1311.1L886.9,1313.1L887.1,1315.1L887.4,1317.1L887.6,1319.1L887.9,1321.0L888.2,1323.0L888.5,1325.0L888.7,1327.0L889.0,1329.0L889.3,1330.9L889.6,1332.9L889.9,1334.9L890.1,1336.9L890.4,1338.8L890.7,1340.8L891.0,1342.8L891.3,1344.7L891.6,1346.7L891.9,1348.7L892.2,1350.7L892.5,1352.6L892.8,1354.6L893.1,1356.6L893.5,1358.5L893.8,1360.5L894.1,1362.5L894.4,1364.4L894.7,1366.4L895.1,1368.4L895.4,1370.3L895.7,1372.3L896.1,1374.3L896.4,1376.2L896.8,1378.2L897.1,1380.2L897.4,1382.1L897.8,1384.1L898.2,1386.1L898.5,1388.0L898.9,1390.0L899.2,1391.9L899.6,1393.9L900.0,1395.8L900.4,1397.8L900.7,1399.8L901.1,1401.7L901.5,1403.7L901.9,1405.6L902.3,1407.6L902.7,1409.5L903.1,1411.5L903.5,1413.4L903.9,1415.4L904.3,1417.3L904.7,1419.3L905.1,1421.2L905.6,1423.2L906.0,1425.1L906.4,1427.1L906.8,1429.0L907.3,1431.0L907.7,1432.9L908.2,1434.8L908.6,1436.8L909.1,1438.7L909.5,1440.7L910.0,1442.6L910.4,1444.5L910.9,1446.5L911.4,1448.4L911.8,1450.4L912.3,1452.3L912.8,1454.2L913.3,1456.2L913.8,1458.1L914.3,1460.0L914.7,1462.0L915.2,1463.9L915.7,1465.8L916.2,1467.8L916.8,1469.7L917.3,1471.6L917.8,1473.5L918.3,1475.5L918.8,1477.4L919.3,1479.3L919.9,1481.2L920.4,1483.2L920.9,1485.1L921.5,1487.0L922.0,1488.9L922.5,1490.8L923.1,1492.8L923.6,1494.7L924.2,1496.6L924.7,1498.5L925.3,1500.4L925.9,1502.4L926.4,1504.3L927.0,1506.2L927.6,1508.1L928.1,1510.0L928.7,1511.9L929.3,1513.8L929.9,1515.8L930.5,1517.7L931.1,1519.6L931.7,1521.5L932.3,1523.4L932.9,1525.3L933.5,1527.2L934.1,1529.1L934.7,1531.0L935.3,1532.9L935.9,1534.8L936.5,1536.7L937.1,1538.6L937.8,1540.5L938.4,1542.4L939.0,1544.3L939.6,1546.2L940.3,1548.1L940.9,1550.0L941.6,1551.9L942.2,1553.8L942.8,1555.7L943.5,1557.6L944.2,1559.5L944.8,1561.4L945.5,1563.3L946.1,1565.2L946.8,1567.1L947.4,1568.9L948.1,1570.8L948.8,1572.7L949.5,1574.6L950.1,1576.5L950.8,1578.4L951.5,1580.3L952.2,1582.1L952.9,1584.0L953.6,1585.9L954.3,1587.8L955.0,1589.6L955.8,1591.5L956.5,1593.4L957.3,1595.2L958.0,1597.1L958.8,1598.9L959.5,1600.8L960.3,1602.6L961.1,1604.4L961.9,1606.3L962.7,1608.1L963.5,1609.9L964.4,1611.7L965.2,1613.5L966.1,1615.3L966.9,1617.1L967.8,1618.9L968.7,1620.7L969.6,1622.5L970.5,1624.2L971.5,1626.0L972.4,1627.8L973.4,1629.5L974.4,1631.2L975.4,1633.0L976.4,1634.7L977.4,1636.4L978.5,1638.1L979.5,1639.8L980.6,1641.5L981.7,1643.2L982.8,1644.8L984.0,1646.5L985.1,1648.1L986.3,1649.8L987.5,1651.4L988.7,1653.0L990.0,1654.6L991.3,1656.2L992.5,1657.8L993.8,1659.3L995.2,1660.9L996.5,1662.4L997.9,1664.0L999.3,1665.5L1000.7,1667.0L1002.2,1668.5L1003.6,1669.9L1005.1,1671.4L1006.6,1672.8L1008.1,1674.2L1009.6,1675.6L1011.2,1677.0L1012.8,1678.4L1014.3,1679.7L1015.9,1681.0L1017.6,1682.3L1019.2,1683.6L1020.8,1684.8L1022.5,1686.1L1024.2,1687.3L1025.9,1688.4L1027.6,1689.6L1029.3,1690.7L1031.0,1691.8L1032.7,1692.9L1034.5,1693.9L1036.2,1694.9L1038.0,1695.9L1039.8,1696.8L1041.6,1697.7L1043.4,1698.6L1045.2,1699.5L1047.0,1700.3L1048.8,1701.0L1050.7,1701.8L1052.5,1702.5L1054.4,1703.2L1056.2,1703.8L1058.1,1704.4L1059.9,1705.0L1061.8,1705.5L1063.7,1706.0L1065.6,1706.4L1067.4,1706.8L1069.3,1707.2L1071.2,1707.5L1073.1,1707.7L1075.0,1708.0L1076.9,1708.2L1078.8,1708.3L1080.6,1708.4L1082.5,1708.4L1084.4,1708.4L1086.3,1708.4L1088.2,1708.3L1090.1,1708.1L1092.0,1707.9L1093.9,1707.7L1095.7,1707.4L1097.6,1707.0L1099.5,1706.6L1101.3,1706.2L1103.2,1705.7L1105.1,1705.1L1106.9,1704.5L1108.8,1703.8L1110.6,1703.1L1112.4,1702.3L1114.2,1701.5L1116.1,1700.5L1117.9,1699.6L1119.7,1698.6L1121.4,1697.5L1123.2,1696.3L1125.0,1695.2L1126.7,1693.9L1128.5,1692.6L1130.2,1691.3L1131.9,1689.9L1133.6,1688.5L1135.3,1687.1L1137.0,1685.6L1138.6,1684.1L1140.3,1682.5L1141.9,1680.9L1143.5,1679.3L1145.1,1677.7L1146.6,1676.1L1148.1,1674.4L1149.7,1672.7L1151.2,1671.0L1152.6,1669.3L1154.1,1667.6L1155.5,1665.9L1156.9,1664.2L1158.3,1662.5L1159.6,1660.8L1161.0,1659.1L1162.2,1657.3L1163.5,1655.6L1164.8,1654.0L1166.0,1652.3L1167.2,1650.6L1168.3,1648.9L1169.5,1647.2L1170.6,1645.6L1171.7,1643.9L1172.8,1642.3L1173.8,1640.6L1174.9,1639.0L1175.9,1637.3L1176.9,1635.7L1177.9,1634.0L1178.9,1632.4L1179.9,1630.7L1180.8,1629.0L1181.8,1627.4L1182.7,1625.7L1183.6,1624.0L1184.6,1622.4L1185.5,1620.7L1186.4,1619.0L1187.3,1617.3L1188.2,1615.6L1189.1,1613.9L1190.0,1612.2L1190.9,1610.5L1191.7,1608.8L1192.6,1607.1L1193.5,1605.3L1194.4,1603.6L1195.2,1601.9L1196.1,1600.1L1196.9,1598.4L1197.8,1596.6L1198.6,1594.8L1199.5,1593.1L1200.3,1591.3L1201.1,1589.5L1202.0,1587.8L1202.8,1586.0L1203.6,1584.2L1204.4,1582.4L1205.2,1580.6L1206.1,1578.8L1206.9,1577.0L1207.7,1575.2L1208.5,1573.4L1209.3,1571.6L1210.1,1569.8L1210.9,1567.9L1211.7,1566.1L1212.5,1564.3L1213.3,1562.5L1214.1,1560.6L1214.8,1558.8L1215.6,1557.0L1216.4,1555.1L1217.2,1553.3L1218.0,1551.4L1218.8,1549.6L1219.5,1547.7L1220.3,1545.9L1221.1,1544.0L1221.9,1542.2L1222.7,1540.3L1223.4,1538.5L1224.2,1536.6L1225.0,1534.8L1225.8,1532.9L1226.5,1531.0L1227.3,1529.2L1228.1,1527.3L1228.8,1525.5L1229.6,1523.6L1230.4,1521.7L1231.2,1519.9L1231.9,1518.0L1232.7,1516.1L1233.5,1514.3L1234.3,1512.4L1235.1,1510.5L1235.8,1508.7L1236.6,1506.8L1237.4,1505.0L1238.2,1503.1L1239.0,1501.2L1239.7,1499.4L1240.5,1497.5L1241.3,1495.6L1242.1,1493.8L1242.9,1491.9L1243.7,1490.1L1244.5,1488.2L1245.3,1486.4L1246.1,1484.5L1246.9,1482.7L1247.7,1480.8L1248.5,1479.0L1249.3,1477.1L1250.2,1475.3L1251.0,1473.5L1251.8,1471.6L1252.6,1469.8L1253.5,1467.9L1254.3,1466.1L1255.1,1464.3L1256.0,1462.5L1256.8,1460.7L1257.7,1458.8L1258.5,1457.0L1259.4,1455.2L1260.2,1453.4L1261.1,1451.6L1262.0,1449.8L1262.8,1448.0L1263.7,1446.2L1264.6,1444.4L1265.5,1442.6L1266.4,1440.8L1267.3,1439.1L1268.1,1437.3L1269.0,1435.5L1269.9,1433.7L1270.8,1431.9L1271.7,1430.2L1272.6,1428.4L1273.5,1426.6L1274.4,1424.9L1275.4,1423.1L1276.3,1421.3L1277.2,1419.6L1278.1,1417.8L1279.0,1416.1L1279.9,1414.3L1280.8,1412.6L1281.7,1410.8L1282.6,1409.0L1283.6,1407.3L1284.5,1405.5L1285.4,1403.8L1286.3,1402.0L1287.2,1400.3L1288.1,1398.5L1289.0,1396.8L1289.9,1395.0L1290.9,1393.3L1291.8,1391.5L1292.7,1389.8L1293.6,1388.0L1294.5,1386.3L1295.4,1384.5L1296.3,1382.8L1297.2,1381.0L1298.1,1379.3L1299.0,1377.5L1299.8,1375.8L1300.7,1374.0L1301.6,1372.3L1302.5,1370.5L1303.4,1368.7L1304.2,1367.0L1305.1,1365.2L1306.0,1363.5L1306.8,1361.7L1307.7,1359.9L1308.6,1358.2L1309.4,1356.4L1310.2,1354.6L1311.1,1352.8L1311.9,1351.1L1312.8,1349.3L1313.6,1347.5L1314.4,1345.7L1315.3,1344.0L1316.1,1342.2L1316.9,1340.4L1317.8,1338.6L1318.6,1336.9L1319.4,1335.1L1320.3,1333.3L1321.1,1331.5L1321.9,1329.7L1322.8,1328.0L1323.6,1326.2L1324.4,1324.4L1325.3,1322.6L1326.1,1320.8L1326.9,1319.0L1327.8,1317.3L1328.6,1315.5L1329.5,1313.7L1330.4,1311.9L1331.3,1310.1L1332.1,1308.3L1333.1,1306.5L1334.0,1304.7L1334.9,1302.9L1335.9,1301.1L1336.9,1299.3L1337.9,1297.5L1338.9,1295.7L1340.0,1293.8L1341.0,1292.0L1342.1,1290.1L1343.3,1288.3L1344.5,1286.4L1345.7,1284.5L1346.9,1282.6L1348.2,1280.8L1349.5,1278.9L1350.8,1277.0L1352.1,1275.2L1353.5,1273.4L1354.9,1271.6L1356.3,1269.9L1357.8,1268.2L1359.2,1266.6L1360.7,1265.0L1362.2,1263.5L1363.7,1262.0L1365.3,1260.7L1366.8,1259.4L1368.4,1258.2L1370.0,1257.0L1371.6,1256.0L1373.2,1255.1L1374.8,1254.3L1376.4,1253.6L1378.0,1253.1L1379.7,1252.6L1381.3,1252.3L1382.9,1252.2L1384.6,1252.2L1386.2,1252.3L1387.8,1252.5L1389.5,1252.9L1391.0,1253.4L1392.6,1254.1L1394.1,1254.9L1395.6,1255.7L1397.0,1256.8L1398.4,1257.9L1399.8,1259.1L1401.1,1260.4L1402.3,1261.9L1403.5,1263.4L1404.7,1265.0L1405.8,1266.6L1407.0,1268.3L1408.0,1270.1L1409.1,1272.0L1410.1,1273.9L1411.1,1275.8L1412.1,1277.7L1413.1,1279.7L1414.0,1281.7L1415.0,1283.7L1415.9,1285.7L1416.8,1287.7L1417.7,1289.7L1418.7,1291.7L1419.6,1293.7L1420.5,1295.7L1421.4,1297.6L1422.3,1299.6L1423.2,1301.5L1424.1,1303.5L1425.0,1305.4L1425.9,1307.3L1426.8,1309.2L1427.7,1311.1L1428.5,1313.0L1429.4,1314.8L1430.3,1316.7L1431.1,1318.6L1432.0,1320.5L1432.8,1322.3L1433.7,1324.2L1434.5,1326.0L1435.4,1327.9L1436.2,1329.7L1437.0,1331.5L1437.8,1333.4L1438.6,1335.2L1439.4,1337.1L1440.2,1338.9L1441.0,1340.7L1441.8,1342.6L1442.6,1344.4L1443.4,1346.2L1444.1,1348.1L1444.9,1349.9L1445.7,1351.8L1446.4,1353.6L1447.1,1355.5L1447.9,1357.3L1448.6,1359.1L1449.3,1361.0L1450.0,1362.8L1450.7,1364.7L1451.4,1366.6L1452.1,1368.4L1452.8,1370.3L1453.5,1372.1L1454.2,1374.0L1454.9,1375.8L1455.6,1377.7L1456.2,1379.5L1456.9,1381.4L1457.5,1383.3L1458.2,1385.1L1458.8,1387.0L1459.5,1388.9L1460.1,1390.7L1460.8,1392.6L1461.4,1394.5L1462.0,1396.3L1462.7,1398.2L1463.3,1400.1L1463.9,1401.9L1464.5,1403.8L1465.2,1405.7L1465.8,1407.6L1466.4,1409.4L1467.0,1411.3L1467.6,1413.2L1468.2,1415.1L1468.8,1416.9L1469.4,1418.8L1470.0,1420.7L1470.6,1422.6L1471.2,1424.5L1471.8,1426.3L1472.4,1428.2L1473.0,1430.1L1473.6,1432.0L1474.2,1433.9L1474.8,1435.7L1475.4,1437.6L1476.0,1439.5L1476.5,1441.4L1477.1,1443.3L1477.7,1445.2L1478.3,1447.1L1478.9,1448.9L1479.5,1450.8L1480.1,1452.7L1480.7,1454.6L1481.3,1456.5L1481.9,1458.4L1482.5,1460.3L1483.1,1462.1L1483.7,1464.0L1484.3,1465.9L1484.9,1467.8L1485.5,1469.7L1486.1,1471.6L1486.7,1473.5L1487.3,1475.4L1487.9,1477.2L1488.5,1479.1L1489.2,1481.0L1489.8,1482.9L1490.4,1484.8L1491.0,1486.7L1491.7,1488.6L1492.3,1490.5L1492.9,1492.3L1493.6,1494.2L1494.2,1496.1L1494.9,1498.0L1495.5,1499.9L1496.2,1501.8L1496.8,1503.7L1497.5,1505.5L1498.2,1507.4L1498.8,1509.3L1499.5,1511.2L1500.2,1513.1L1500.9,1515.0L1501.6,1516.9L1502.3,1518.7L1503.0,1520.6L1503.7,1522.5L1504.4,1524.4L1505.1,1526.3L1505.9,1528.1L1506.6,1530.0L1507.3,1531.9L1508.1,1533.8L1508.8,1535.7L1509.6,1537.5L1510.4,1539.4L1511.1,1541.3L1511.9,1543.2L1512.7,1545.0L1513.5,1546.9L1514.3,1548.8L1515.1,1550.7L1515.9,1552.5L1516.8,1554.4L1517.6,1556.3L1518.4,1558.1L1519.3,1560.0L1520.1,1561.8L1521.0,1563.7L1521.9,1565.6L1522.7,1567.4L1523.6,1569.3L1524.5,1571.1L1525.4,1572.9L1526.3,1574.8L1527.3,1576.6L1528.2,1578.4L1529.1,1580.3L1530.1,1582.1L1531.0,1583.9L1532.0,1585.7L1532.9,1587.5L1533.9,1589.3L1534.9,1591.1L1535.9,1592.9L1536.9,1594.7L1537.9,1596.4L1538.9,1598.2L1539.9,1600.0L1540.9,1601.7L1542.0,1603.5L1543.0,1605.2L1544.1,1606.9L1545.2,1608.7L1546.2,1610.4L1547.3,1612.1L1548.4,1613.8L1549.5,1615.5L1550.6,1617.2L1551.7,1618.8L1552.9,1620.5L1554.0,1622.2L1555.2,1623.8L1556.3,1625.5L1557.5,1627.1L1558.6,1628.7L1559.8,1630.3L1561.0,1631.9L1562.2,1633.5L1563.4,1635.1L1564.6,1636.7L1565.9,1638.2L1567.1,1639.8L1568.4,1641.3L1569.6,1642.8L1570.9,1644.3L1572.2,1645.8L1573.4,1647.3L1574.7,1648.8L1576.0,1650.2L1577.4,1651.7L1578.7,1653.1L1580.0,1654.5L1581.4,1656.0L1582.7,1657.3L1584.1,1658.7L1585.5,1660.1L1586.8,1661.5L1588.2,1662.8L1589.6,1664.1L1591.0,1665.4L1592.5,1666.7L1593.9,1668.0L1595.4,1669.3L1596.8,1670.5L1598.3,1671.7L1599.7,1673.0L1601.2,1674.2L1602.7,1675.4L1604.2,1676.5L1605.8,1677.7L1607.3,1678.8L1608.8,1679.9L1610.4,1681.0L1611.9,1682.1L1613.5,1683.2L1615.1,1684.2L1616.7,1685.3L1618.3,1686.3L1619.9,1687.3L1621.5,1688.2L1623.2,1689.2L1624.8,1690.1L1626.5,1691.1L1628.1,1692.0L1629.8,1692.8L1631.5,1693.7L1633.2,1694.5L1634.9,1695.4L1636.7,1696.2L1638.4,1696.9L1640.1,1697.7L1641.9,1698.4L1643.7,1699.1L1645.5,1699.8L1647.2,1700.5L1649.1,1701.2L1650.9,1701.8L1652.7,1702.4L1654.5,1703.0L1656.4,1703.6L1658.2,1704.1L1660.1,1704.7L1662.0,1705.2L1663.9,1705.7L1665.8,1706.2L1667.7,1706.7L1669.6,1707.1L1671.5,1707.5L1673.4,1708.0L1675.4,1708.4L1677.3,1708.7L1679.3,1709.1L1681.2,1709.5L1683.2,1709.8L1685.2,1710.1L1687.2,1710.4L1689.2,1710.7L1691.2,1711.0L1693.2,1711.3L1695.2,1711.5L1697.2,1711.8L1699.2,1712.0L1701.3,1712.2L1703.3,1712.4L1705.4,1712.6L1707.4,1712.8L1709.5,1712.9L1711.5,1713.1L1713.6,1713.3L1715.6,1713.4L1717.7,1713.5L1719.8,1713.6L1721.9,1713.7L1724.0,1713.8L1726.0,1713.9L1728.1,1714.0L1730.2,1714.1L1732.3,1714.2L1734.4,1714.2L1736.5,1714.3L1738.6,1714.3L1740.7,1714.4L1742.9,1714.4L1745.0,1714.4L1747.1,1714.4L1749.2,1714.4L1751.3,1714.5L1753.4,1714.5L1755.6,1714.5L1757.7,1714.5L1759.8,1714.4L1761.9,1714.4L1764.0,1714.4L1766.2,1714.4L1768.3,1714.4L1770.4,1714.4L1772.5,1714.3L1774.6,1714.3L1776.7,1714.3L1778.9,1714.3L1781.0,1714.2L1783.1,1714.2L1785.2,1714.2L1787.3,1714.1L1789.4,1714.1L1791.5,1714.1L1793.6,1714.0L1795.7,1714.0L1797.8,1714.0L1799.9,1714.0L1802.0,1713.9L1804.1,1713.9L1806.2,1713.9L1808.3,1713.9L1810.3,1713.9L1812.4,1713.9L1814.5,1713.8L1816.6,1713.8L1818.6,1713.9L1820.7,1713.9L1822.7,1713.9L1824.8,1713.9L1826.8,1713.9L1828.8,1713.9L1830.9,1714.0L1832.9,1714.0L1834.9,1714.1L1836.9,1714.1L1838.9,1714.2L1840.9,1714.3L1842.9,1714.4L1844.9,1714.4L1846.8,1714.5L1848.8,1714.7L1850.8,1714.8L1852.7,1714.9L1854.6,1715.0L1856.6,1715.2L1858.5,1715.3L1860.4,1715.5L1862.3,1715.7L1864.2,1715.9L1866.1,1716.1L1868.0,1716.3L1869.9,1716.5L1871.7,1716.8L1873.6,1717.0L1875.4,1717.3L1877.2,1717.5L1879.0,1717.8L1880.9,1718.1L1882.6,1718.5L1884.4,1718.8L1886.2,1719.1L1888.0,1719.5" fill="none" stroke="#A565A8" stroke-width="10" stroke-linejoin="round" stroke-linecap="butt"/>
<g font-family="Liberation Sans, Arial, sans-serif" fill="#000">
<text transform="translate(36.42,209.65)" font-size="65.0">55</text>
<text transform="translate(36.52,721.05)" font-size="65.0">35</text>
<text transform="translate(36.53,1233.95)" font-size="65.0">15</text>
<text transform="translate(52.83,1746.35)" font-size="65.0">-5</text>
<text transform="translate(133.07,1854.30)" font-size="65.0">400</text>
<text transform="translate(679.10,1854.30)" font-size="65.0">600</text>
<text transform="translate(1225.12,1854.30)" font-size="65.0">800</text>
<text transform="translate(1749.54,1854.30)" font-size="65.0">1000</text>
<text transform="translate(2291.44,1854.30)" font-size="65.0">1200</text>
<text transform="translate(1978.04,1850.20) scale(0.9521,1)" font-size="86.0" font-weight="bold">E [mV]</text>
<text transform="translate(121,555.67) rotate(-90) scale(0.9897,1)" font-size="86.0" font-weight="bold">I [µA]</text>
<line x1="1423.5" y1="179.8" x2="1549.5" y2="179.8" stroke="#EE9B42" stroke-width="11"/>
<text transform="translate(1567.08,203.80) scale(0.9817,1)" font-size="56.5">0.2 mol/L KHPT pH 4.00</text>
<line x1="1423.5" y1="260.1" x2="1549.5" y2="260.1" stroke="#434A8C" stroke-width="11"/>
<text transform="translate(1568.60,284.15) scale(0.9731,1)" font-size="56.5">0.05 mol/L KHPT pH 4.00</text>
<line x1="1423.5" y1="340.5" x2="1549.5" y2="340.5" stroke="#E8141C" stroke-width="11"/>
<text transform="translate(1570.62,364.50) scale(0.9389,1)" font-size="56.5">ABS pH 4.50</text>
<line x1="1423.5" y1="420.9" x2="1549.5" y2="420.9" stroke="#1E5F34" stroke-width="11"/>
<text transform="translate(1569.57,444.85) scale(0.9414,1)" font-size="56.5">BRB pH 4.56</text>
<line x1="1423.5" y1="501.2" x2="1549.5" y2="501.2" stroke="#A565A8" stroke-width="11"/>
<text transform="translate(1570.62,525.20) scale(0.9389,1)" font-size="56.5">ABS pH 5.20</text>
</g>
</svg></body></html>
